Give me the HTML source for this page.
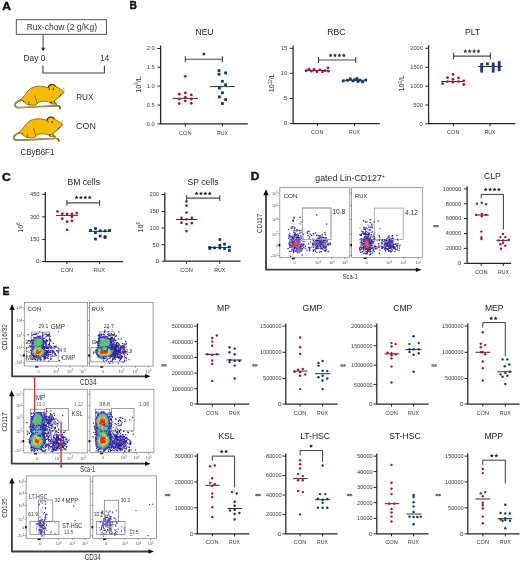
<!DOCTYPE html>
<html><head><meta charset="utf-8"><title>Figure</title>
<style>html,body{margin:0;padding:0;background:#fff;width:520px;height:562px;overflow:hidden}svg{display:block;will-change:transform}text{font-family:"Liberation Sans",sans-serif}</style>
</head><body>
<svg width="520" height="562" viewBox="0 0 520 562" font-family="Liberation Sans, sans-serif">
<defs><filter id="bl" x="-50%" y="-50%" width="200%" height="200%"><feGaussianBlur stdDeviation="0.6"/></filter></defs>
<rect width="520" height="562" fill="#fff"/>
<text x="2.2" y="9.6" font-size="10.3" text-anchor="start" fill="#111" font-weight="bold" textLength="8.7" lengthAdjust="spacingAndGlyphs" stroke="#111" stroke-width="0.4">A</text>
<rect x="16.3" y="19.7" width="90.2" height="14.6" fill="none" stroke="#444" stroke-width="0.9"/>
<text x="61.9" y="29.9" font-size="8.5" text-anchor="middle" fill="#333">Rux-chow (2 g/Kg)</text>
<path d="M43.1 34.4V48.5" stroke="#333" stroke-width="0.9"/><path d="M43.1 51.3l-2 -3.6h4z" fill="#222"/>
<text x="34.4" y="61.3" font-size="9.0" text-anchor="middle" fill="#2e2e2e" textLength="21.9" lengthAdjust="spacingAndGlyphs">Day 0</text>
<text x="104.7" y="61.3" font-size="8.8" text-anchor="middle" fill="#2e2e2e" textLength="8.9" lengthAdjust="spacingAndGlyphs">14</text>
<path d="M42.9 65.6V73H104.4V65.6" fill="none" stroke="#444" stroke-width="1.1"/>
<text x="84.8" y="99.8" font-size="9.7" text-anchor="middle" fill="#2e2e2e" textLength="17.2" lengthAdjust="spacingAndGlyphs">RUX</text>
<text x="86.0" y="129.1" font-size="9.6" text-anchor="middle" fill="#2e2e2e" textLength="19.8" lengthAdjust="spacingAndGlyphs">CON</text>
<text x="37.4" y="154.7" font-size="9.2" text-anchor="middle" fill="#2e2e2e" textLength="34.0" lengthAdjust="spacingAndGlyphs">CByB6F1</text>
<g>
<path d="M21.6 99.9C19 100.6 16.4 102 15.2 103.8C14.2 105.6 15.4 107.4 18.2 107.6C26 107.5 34 107 42 106.5C49 106.1 55 105.8 58.4 105.9C59.8 106.3 60.3 107.6 59.9 109.2" fill="none" stroke="#6c6128" stroke-width="1.7"/>
<path d="M21.6 99.9C19 100.6 16.4 102 15.2 103.8C14.2 105.6 15.4 107.4 18.2 107.6C26 107.5 34 107 42 106.5C49 106.1 55 105.8 58.4 105.9" fill="none" stroke="#e2dcb8" stroke-width="0.5"/>
<path d="M20.4 99.7C23 97.6 25.4 94.2 27.6 91.4C29.6 88.9 32.4 87.2 36 86.5C39.5 85.9 43.5 86.2 46.4 87.2L48.2 87.6C48.4 86.4 48.8 85.6 49.6 85.1C51 84.4 52.6 84.3 53.8 84.7C54.8 85.1 55.4 85.8 55.8 86.6C57.8 87.4 60 88.8 61.6 90C62.5 90.7 63.1 91.4 63.4 92.2C63 93.4 62.2 94.2 61.3 94.8C60.3 95.8 59.4 96.8 58.6 97.6C57.3 98.8 56 99.6 54.6 100.3L54.2 102.2L56.8 104.3L51.6 103.9C50.6 103 49.6 102.2 48.4 101.8C46 101.2 43.4 101.1 41 101.5C39.2 101.9 38 102.8 37.2 103.8L35.6 105.2L29 105C26.5 104.4 24.5 102.8 23.4 101.2C22.6 100.6 21.6 100.1 20.4 99.7Z" fill="#f7bb00" stroke="#6e5608" stroke-width="0.75"/>
<path d="M48.3 88.2C48.4 86.4 49.4 85 51.2 84.6C53 84.2 54.8 85 55.7 86.6" fill="none" stroke="#3e3004" stroke-width="1.1"/>
<ellipse cx="53.4" cy="89.3" rx="0.7" ry="0.95" fill="#2a1e04"/>
<ellipse cx="49.3" cy="89.2" rx="0.8" ry="0.7" fill="#6a4a08"/>
<path d="M62.6 90.2l1.4-2.6M63.2 91l1.6-1.4M63.2 91.8l1.6 0.4M62.8 92.4l1.2 1.6" stroke="#6a6a7a" stroke-width="0.5"/>
<path d="M61.6 93.9L58.8 97.2" stroke="#3a2c04" stroke-width="0.9"/>
<path d="M34.6 95.6C35.6 97.6 36.4 100 37.2 103.8M29 105C28.6 103.6 28.4 102.4 29.2 101.2M54.4 100.6L54.2 102.2L56.8 104.3M50.4 102.8L51.6 103.9" fill="none" stroke="#5a4608" stroke-width="0.75"/>
<ellipse cx="51.3" cy="102.2" rx="1" ry="0.8" fill="#2a1e04"/>
<circle cx="23.6" cy="101.2" r="0.6" fill="#2a1e04"/>
</g>
<g transform="translate(-1.3,32.6)"><g>
<path d="M21.6 99.9C19 100.6 16.4 102 15.2 103.8C14.2 105.6 15.4 107.4 18.2 107.6C26 107.5 34 107 42 106.5C49 106.1 55 105.8 58.4 105.9C59.8 106.3 60.3 107.6 59.9 109.2" fill="none" stroke="#6c6128" stroke-width="1.7"/>
<path d="M21.6 99.9C19 100.6 16.4 102 15.2 103.8C14.2 105.6 15.4 107.4 18.2 107.6C26 107.5 34 107 42 106.5C49 106.1 55 105.8 58.4 105.9" fill="none" stroke="#e2dcb8" stroke-width="0.5"/>
<path d="M20.4 99.7C23 97.6 25.4 94.2 27.6 91.4C29.6 88.9 32.4 87.2 36 86.5C39.5 85.9 43.5 86.2 46.4 87.2L48.2 87.6C48.4 86.4 48.8 85.6 49.6 85.1C51 84.4 52.6 84.3 53.8 84.7C54.8 85.1 55.4 85.8 55.8 86.6C57.8 87.4 60 88.8 61.6 90C62.5 90.7 63.1 91.4 63.4 92.2C63 93.4 62.2 94.2 61.3 94.8C60.3 95.8 59.4 96.8 58.6 97.6C57.3 98.8 56 99.6 54.6 100.3L54.2 102.2L56.8 104.3L51.6 103.9C50.6 103 49.6 102.2 48.4 101.8C46 101.2 43.4 101.1 41 101.5C39.2 101.9 38 102.8 37.2 103.8L35.6 105.2L29 105C26.5 104.4 24.5 102.8 23.4 101.2C22.6 100.6 21.6 100.1 20.4 99.7Z" fill="#f7bb00" stroke="#6e5608" stroke-width="0.75"/>
<path d="M48.3 88.2C48.4 86.4 49.4 85 51.2 84.6C53 84.2 54.8 85 55.7 86.6" fill="none" stroke="#3e3004" stroke-width="1.1"/>
<ellipse cx="53.4" cy="89.3" rx="0.7" ry="0.95" fill="#2a1e04"/>
<ellipse cx="49.3" cy="89.2" rx="0.8" ry="0.7" fill="#6a4a08"/>
<path d="M62.6 90.2l1.4-2.6M63.2 91l1.6-1.4M63.2 91.8l1.6 0.4M62.8 92.4l1.2 1.6" stroke="#6a6a7a" stroke-width="0.5"/>
<path d="M61.6 93.9L58.8 97.2" stroke="#3a2c04" stroke-width="0.9"/>
<path d="M34.6 95.6C35.6 97.6 36.4 100 37.2 103.8M29 105C28.6 103.6 28.4 102.4 29.2 101.2M54.4 100.6L54.2 102.2L56.8 104.3M50.4 102.8L51.6 103.9" fill="none" stroke="#5a4608" stroke-width="0.75"/>
<ellipse cx="51.3" cy="102.2" rx="1" ry="0.8" fill="#2a1e04"/>
<circle cx="23.6" cy="101.2" r="0.6" fill="#2a1e04"/>
</g></g>
<text x="129.6" y="9.3" font-size="10.4" text-anchor="start" fill="#111" font-weight="bold" textLength="7.4" lengthAdjust="spacingAndGlyphs" stroke="#111" stroke-width="0.4">B</text>
<path d="M160.6 45.4V123.9H247.8" fill="none" stroke="#262626" stroke-width="1.25"/>
<path d="M157.4 48.5H160.6" stroke="#262626" stroke-width="1"/>
<text x="154.8" y="50.4" font-size="5.2" text-anchor="end" fill="#3a3a3a" textLength="8.1" lengthAdjust="spacingAndGlyphs">2.0</text>
<path d="M157.4 67.3H160.6" stroke="#262626" stroke-width="1"/>
<text x="154.8" y="69.1" font-size="5.2" text-anchor="end" fill="#3a3a3a" textLength="8.1" lengthAdjust="spacingAndGlyphs">1.5</text>
<path d="M157.4 86.1H160.6" stroke="#262626" stroke-width="1"/>
<text x="154.8" y="87.9" font-size="5.2" text-anchor="end" fill="#3a3a3a" textLength="8.1" lengthAdjust="spacingAndGlyphs">1.0</text>
<path d="M157.4 105.0H160.6" stroke="#262626" stroke-width="1"/>
<text x="154.8" y="106.8" font-size="5.2" text-anchor="end" fill="#3a3a3a" textLength="8.1" lengthAdjust="spacingAndGlyphs">0.5</text>
<path d="M157.4 123.9H160.6" stroke="#262626" stroke-width="1"/>
<text x="154.8" y="125.8" font-size="5.2" text-anchor="end" fill="#3a3a3a" textLength="8.1" lengthAdjust="spacingAndGlyphs">0.0</text>
<path d="M185.3 123.9v2.6" stroke="#262626" stroke-width="1"/>
<path d="M222.4 123.9v2.6" stroke="#262626" stroke-width="1"/>
<text x="185.3" y="134.5" font-size="5.4" text-anchor="middle" fill="#333" textLength="12.6" lengthAdjust="spacingAndGlyphs">CON</text>
<text x="222.4" y="134.5" font-size="5.4" text-anchor="middle" fill="#333" textLength="11.0" lengthAdjust="spacingAndGlyphs">RUX</text>
<text x="204.5" y="35.3" font-size="8.6" text-anchor="middle" fill="#222">NEU</text>
<text transform="translate(141.0,84.5) rotate(-90)" font-size="7.2" text-anchor="middle" fill="#333">10<tspan font-size="4.6" dy="-2.6">9</tspan><tspan dy="2.6">/L</tspan></text>
<path d="M172.7 98.4H198.0" stroke="#1a1a1a" stroke-width="0.9"/>
<path d="M210.1 86.6H234.8" stroke="#1a1a1a" stroke-width="0.9"/>
<g fill="#b3123a"><circle cx="185.3" cy="76.3" r="1.4"/><circle cx="179.3" cy="94.2" r="1.4"/><circle cx="185.3" cy="92.9" r="1.4"/><circle cx="191.3" cy="94.9" r="1.4"/><circle cx="179.3" cy="99.1" r="1.4"/><circle cx="185.3" cy="97.3" r="1.4"/><circle cx="191.3" cy="99.1" r="1.4"/><circle cx="179.3" cy="103.6" r="1.4"/><circle cx="185.3" cy="100.9" r="1.4"/><circle cx="191.3" cy="103.3" r="1.4"/></g>
<g fill="#163c6e"><rect x="217.6" y="69.2" width="2.8" height="2.8"/><rect x="217.6" y="72.8" width="2.8" height="2.8"/><rect x="224.2" y="71.5" width="2.8" height="2.8"/><rect x="221.0" y="79.9" width="2.8" height="2.8"/><rect x="224.2" y="83.4" width="2.8" height="2.8"/><rect x="218.0" y="86.6" width="2.8" height="2.8"/><rect x="221.0" y="91.4" width="2.8" height="2.8"/><rect x="218.0" y="95.5" width="2.8" height="2.8"/><rect x="224.2" y="98.2" width="2.8" height="2.8"/><rect x="221.0" y="102.1" width="2.8" height="2.8"/></g>
<path d="M185.3 56.2v6.0M185.3 59.2H222.4M222.4 56.2v6.0" fill="none" stroke="#4a4a4a" stroke-width="1.15"/>
<path fill="#2a2a2a" d="M203.90 51.90L204.49 53.19L205.90 53.35L204.85 54.31L205.13 55.70L203.90 55.00L202.67 55.70L202.95 54.31L201.90 53.35L203.31 53.19Z"/>
<path d="M293.1 45.4V123.5H379.8" fill="none" stroke="#262626" stroke-width="1.25"/>
<path d="M289.9 48.3H293.1" stroke="#262626" stroke-width="1"/>
<text x="287.3" y="50.1" font-size="5.2" text-anchor="end" fill="#3a3a3a" textLength="6.5" lengthAdjust="spacingAndGlyphs">15</text>
<path d="M289.9 73.3H293.1" stroke="#262626" stroke-width="1"/>
<text x="287.3" y="75.1" font-size="5.2" text-anchor="end" fill="#3a3a3a" textLength="6.5" lengthAdjust="spacingAndGlyphs">10</text>
<path d="M289.9 98.4H293.1" stroke="#262626" stroke-width="1"/>
<text x="287.3" y="100.2" font-size="5.2" text-anchor="end" fill="#3a3a3a" textLength="3.5" lengthAdjust="spacingAndGlyphs">5</text>
<path d="M289.9 123.5H293.1" stroke="#262626" stroke-width="1"/>
<text x="287.3" y="125.3" font-size="5.2" text-anchor="end" fill="#3a3a3a" textLength="3.5" lengthAdjust="spacingAndGlyphs">0</text>
<path d="M317.3 123.5v2.6" stroke="#262626" stroke-width="1"/>
<path d="M354.6 123.5v2.6" stroke="#262626" stroke-width="1"/>
<text x="317.3" y="134.1" font-size="5.4" text-anchor="middle" fill="#333" textLength="12.6" lengthAdjust="spacingAndGlyphs">CON</text>
<text x="354.6" y="134.1" font-size="5.4" text-anchor="middle" fill="#333" textLength="11.0" lengthAdjust="spacingAndGlyphs">RUX</text>
<text x="336.4" y="35.3" font-size="8.6" text-anchor="middle" fill="#222">RBC</text>
<text transform="translate(274.4,82.8) rotate(-90)" font-size="7.2" text-anchor="middle" fill="#333">10<tspan font-size="4.6" dy="-2.6">12</tspan><tspan dy="2.6">/L</tspan></text>
<path d="M306.0 70.5H329.0" stroke="#1a1a1a" stroke-width="0.9"/>
<path d="M343.0 80.3H366.5" stroke="#1a1a1a" stroke-width="0.9"/>
<g fill="#b3123a"><circle cx="306.0" cy="70.7" r="1.4"/><circle cx="308.9" cy="69.2" r="1.4"/><circle cx="311.5" cy="71.2" r="1.4"/><circle cx="314.1" cy="69.5" r="1.4"/><circle cx="317.0" cy="71.8" r="1.4"/><circle cx="319.9" cy="69.8" r="1.4"/><circle cx="322.5" cy="71.8" r="1.4"/><circle cx="325.1" cy="70.7" r="1.4"/><circle cx="328.0" cy="67.9" r="1.4"/><circle cx="328.5" cy="71.2" r="1.4"/></g>
<g fill="#163c6e"><rect x="341.8" y="79.5" width="2.8" height="2.8"/><rect x="346.1" y="78.9" width="2.8" height="2.8"/><rect x="349.0" y="77.5" width="2.8" height="2.8"/><rect x="351.6" y="79.5" width="2.8" height="2.8"/><rect x="353.3" y="78.4" width="2.8" height="2.8"/><rect x="355.6" y="77.2" width="2.8" height="2.8"/><rect x="356.5" y="80.1" width="2.8" height="2.8"/><rect x="358.5" y="78.7" width="2.8" height="2.8"/><rect x="361.1" y="80.4" width="2.8" height="2.8"/><rect x="364.3" y="78.7" width="2.8" height="2.8"/></g>
<path d="M318.5 57.0v6.0M318.5 60.0H355.7M355.7 57.0v6.0" fill="none" stroke="#4a4a4a" stroke-width="1.15"/>
<path fill="#2a2a2a" d="M330.60 53.30L331.19 54.59L332.60 54.75L331.55 55.71L331.83 57.10L330.60 56.40L329.37 57.10L329.65 55.71L328.60 54.75L330.01 54.59ZM335.00 53.30L335.59 54.59L337.00 54.75L335.95 55.71L336.23 57.10L335.00 56.40L333.77 57.10L334.05 55.71L333.00 54.75L334.41 54.59ZM339.40 53.30L339.99 54.59L341.40 54.75L340.35 55.71L340.63 57.10L339.40 56.40L338.17 57.10L338.45 55.71L337.40 54.75L338.81 54.59ZM343.80 53.30L344.39 54.59L345.80 54.75L344.75 55.71L345.03 57.10L343.80 56.40L342.57 57.10L342.85 55.71L341.80 54.75L343.21 54.59Z"/>
<path d="M428.6 45.2V123.7H515.2" fill="none" stroke="#262626" stroke-width="1.25"/>
<path d="M425.4 48.3H428.6" stroke="#262626" stroke-width="1"/>
<text x="422.8" y="50.1" font-size="5.2" text-anchor="end" fill="#3a3a3a" textLength="12.5" lengthAdjust="spacingAndGlyphs">2000</text>
<path d="M425.4 67.3H428.6" stroke="#262626" stroke-width="1"/>
<text x="422.8" y="69.1" font-size="5.2" text-anchor="end" fill="#3a3a3a" textLength="12.5" lengthAdjust="spacingAndGlyphs">1500</text>
<path d="M425.4 86.2H428.6" stroke="#262626" stroke-width="1"/>
<text x="422.8" y="88.0" font-size="5.2" text-anchor="end" fill="#3a3a3a" textLength="12.5" lengthAdjust="spacingAndGlyphs">1000</text>
<path d="M425.4 105.0H428.6" stroke="#262626" stroke-width="1"/>
<text x="422.8" y="106.8" font-size="5.2" text-anchor="end" fill="#3a3a3a" textLength="9.5" lengthAdjust="spacingAndGlyphs">500</text>
<path d="M425.4 123.7H428.6" stroke="#262626" stroke-width="1"/>
<text x="422.8" y="125.5" font-size="5.2" text-anchor="end" fill="#3a3a3a" textLength="3.5" lengthAdjust="spacingAndGlyphs">0</text>
<path d="M453.3 123.7v2.6" stroke="#262626" stroke-width="1"/>
<path d="M490.1 123.7v2.6" stroke="#262626" stroke-width="1"/>
<text x="453.3" y="134.3" font-size="5.4" text-anchor="middle" fill="#333" textLength="12.6" lengthAdjust="spacingAndGlyphs">CON</text>
<text x="490.1" y="134.3" font-size="5.4" text-anchor="middle" fill="#333" textLength="11.0" lengthAdjust="spacingAndGlyphs">RUX</text>
<text x="472.5" y="35.3" font-size="8.6" text-anchor="middle" fill="#222">PLT</text>
<text transform="translate(404.2,83.3) rotate(-90)" font-size="7.2" text-anchor="middle" fill="#333">10<tspan font-size="4.6" dy="-2.6">9</tspan><tspan dy="2.6">/L</tspan></text>
<path d="M441.2 81.5H462.8" stroke="#1a1a1a" stroke-width="0.9"/>
<path d="M478.0 66.5H502.7" stroke="#1a1a1a" stroke-width="0.9"/>
<g fill="#b3123a"><circle cx="442.6" cy="83.7" r="1.4"/><circle cx="447.5" cy="77.6" r="1.4"/><circle cx="447.5" cy="81.6" r="1.4"/><circle cx="453.0" cy="74.4" r="1.4"/><circle cx="453.0" cy="79.3" r="1.4"/><circle cx="453.0" cy="82.2" r="1.4"/><circle cx="458.5" cy="77.9" r="1.4"/><circle cx="458.5" cy="81.6" r="1.4"/><circle cx="463.7" cy="80.8" r="1.4"/><circle cx="463.7" cy="84.5" r="1.4"/></g>
<g fill="#163c6e"><rect x="480.3" y="63.0" width="2.8" height="2.8"/><rect x="480.3" y="65.5" width="2.8" height="2.8"/><rect x="480.3" y="67.9" width="2.8" height="2.8"/><rect x="480.3" y="69.8" width="2.8" height="2.8"/><rect x="486.0" y="62.4" width="2.8" height="2.8"/><rect x="491.8" y="62.5" width="2.8" height="2.8"/><rect x="491.8" y="64.9" width="2.8" height="2.8"/><rect x="491.8" y="67.4" width="2.8" height="2.8"/><rect x="491.8" y="69.8" width="2.8" height="2.8"/><rect x="497.8" y="61.2" width="2.8" height="2.8"/><rect x="497.8" y="63.6" width="2.8" height="2.8"/><rect x="497.8" y="66.0" width="2.8" height="2.8"/><rect x="497.8" y="68.4" width="2.8" height="2.8"/></g>
<path d="M453.5 52.7v6.8M453.5 56.1H490.4M490.4 52.7v6.8" fill="none" stroke="#4a4a4a" stroke-width="1.15"/>
<path fill="#2a2a2a" d="M465.30 49.10L465.89 50.39L467.30 50.55L466.25 51.51L466.53 52.90L465.30 52.20L464.07 52.90L464.35 51.51L463.30 50.55L464.71 50.39ZM469.70 49.10L470.29 50.39L471.70 50.55L470.65 51.51L470.93 52.90L469.70 52.20L468.47 52.90L468.75 51.51L467.70 50.55L469.11 50.39ZM474.10 49.10L474.69 50.39L476.10 50.55L475.05 51.51L475.33 52.90L474.10 52.20L472.87 52.90L473.15 51.51L472.10 50.55L473.51 50.39ZM478.50 49.10L479.09 50.39L480.50 50.55L479.45 51.51L479.73 52.90L478.50 52.20L477.27 52.90L477.55 51.51L476.50 50.55L477.91 50.39Z"/>
<text x="1.9" y="180.6" font-size="10.4" text-anchor="start" fill="#111" font-weight="bold" textLength="8.8" lengthAdjust="spacingAndGlyphs" stroke="#111" stroke-width="0.4">C</text>
<path d="M45.3 192.1V261.5H122.9" fill="none" stroke="#262626" stroke-width="1.25"/>
<path d="M42.1 194.4H45.3" stroke="#262626" stroke-width="1"/>
<text x="39.5" y="196.2" font-size="5.2" text-anchor="end" fill="#3a3a3a" textLength="9.5" lengthAdjust="spacingAndGlyphs">450</text>
<path d="M42.1 216.9H45.3" stroke="#262626" stroke-width="1"/>
<text x="39.5" y="218.8" font-size="5.2" text-anchor="end" fill="#3a3a3a" textLength="9.5" lengthAdjust="spacingAndGlyphs">300</text>
<path d="M42.1 239.4H45.3" stroke="#262626" stroke-width="1"/>
<text x="39.5" y="241.2" font-size="5.2" text-anchor="end" fill="#3a3a3a" textLength="9.5" lengthAdjust="spacingAndGlyphs">150</text>
<path d="M42.1 261.5H45.3" stroke="#262626" stroke-width="1"/>
<text x="39.5" y="263.4" font-size="5.2" text-anchor="end" fill="#3a3a3a" textLength="3.5" lengthAdjust="spacingAndGlyphs">0</text>
<path d="M66.9 261.5v2.6" stroke="#262626" stroke-width="1"/>
<path d="M99.6 261.5v2.6" stroke="#262626" stroke-width="1"/>
<text x="66.9" y="272.1" font-size="5.4" text-anchor="middle" fill="#333" textLength="12.6" lengthAdjust="spacingAndGlyphs">CON</text>
<text x="99.6" y="272.1" font-size="5.4" text-anchor="middle" fill="#333" textLength="11.0" lengthAdjust="spacingAndGlyphs">RUX</text>
<text x="83.7" y="185.1" font-size="8.6" text-anchor="middle" fill="#222">BM cells</text>
<text transform="translate(22.5,227.5) rotate(-90)" font-size="7.2" text-anchor="middle" fill="#333">10<tspan font-size="4.6" dy="-2.6">6</tspan></text>
<path d="M56.0 215.4H78.0" stroke="#1a1a1a" stroke-width="0.9"/>
<path d="M88.7 231.3H110.8" stroke="#1a1a1a" stroke-width="0.9"/>
<g fill="#a0123a"><circle cx="57.5" cy="211.5" r="1.35"/><circle cx="62.3" cy="213.8" r="1.35"/><circle cx="67.1" cy="213.8" r="1.35"/><circle cx="71.9" cy="213.8" r="1.35"/><circle cx="76.7" cy="213.1" r="1.35"/><circle cx="62.3" cy="218.7" r="1.35"/><circle cx="71.9" cy="216.9" r="1.35"/><circle cx="67.1" cy="221.7" r="1.35"/><circle cx="71.9" cy="220.8" r="1.35"/><circle cx="67.1" cy="229.8" r="1.35"/></g>
<g fill="#12305e"><rect x="89.2" y="229.1" width="2.7" height="2.7"/><rect x="94.1" y="227.2" width="2.7" height="2.7"/><rect x="98.9" y="229.5" width="2.7" height="2.7"/><rect x="103.7" y="229.5" width="2.7" height="2.7"/><rect x="108.1" y="229.1" width="2.7" height="2.7"/><rect x="94.1" y="231.3" width="2.7" height="2.7"/><rect x="98.9" y="234.7" width="2.7" height="2.7"/><rect x="103.7" y="235.2" width="2.7" height="2.7"/><rect x="94.1" y="237.7" width="2.7" height="2.7"/><rect x="103.7" y="236.2" width="2.7" height="2.7"/></g>
<path d="M66.9 200.1v5.6M66.9 202.9H99.6M99.6 200.1v5.6" fill="none" stroke="#4a4a4a" stroke-width="1.15"/>
<path fill="#2a2a2a" d="M76.50 195.50L77.09 196.79L78.50 196.95L77.45 197.91L77.73 199.30L76.50 198.60L75.27 199.30L75.55 197.91L74.50 196.95L75.91 196.79ZM80.90 195.50L81.49 196.79L82.90 196.95L81.85 197.91L82.13 199.30L80.90 198.60L79.67 199.30L79.95 197.91L78.90 196.95L80.31 196.79ZM85.30 195.50L85.89 196.79L87.30 196.95L86.25 197.91L86.53 199.30L85.30 198.60L84.07 199.30L84.35 197.91L83.30 196.95L84.71 196.79ZM89.70 195.50L90.29 196.79L91.70 196.95L90.65 197.91L90.93 199.30L89.70 198.60L88.47 199.30L88.75 197.91L87.70 196.95L89.11 196.79Z"/>
<path d="M164.8 192.5V261.2H240.5" fill="none" stroke="#262626" stroke-width="1.25"/>
<path d="M161.6 194.5H164.75" stroke="#262626" stroke-width="1"/>
<text x="159.0" y="196.3" font-size="5.2" text-anchor="end" fill="#3a3a3a" textLength="9.5" lengthAdjust="spacingAndGlyphs">200</text>
<path d="M161.6 211.4H164.75" stroke="#262626" stroke-width="1"/>
<text x="159.0" y="213.2" font-size="5.2" text-anchor="end" fill="#3a3a3a" textLength="9.5" lengthAdjust="spacingAndGlyphs">150</text>
<path d="M161.6 228.0H164.75" stroke="#262626" stroke-width="1"/>
<text x="159.0" y="229.8" font-size="5.2" text-anchor="end" fill="#3a3a3a" textLength="9.5" lengthAdjust="spacingAndGlyphs">100</text>
<path d="M161.6 244.7H164.75" stroke="#262626" stroke-width="1"/>
<text x="159.0" y="246.5" font-size="5.2" text-anchor="end" fill="#3a3a3a" textLength="6.5" lengthAdjust="spacingAndGlyphs">50</text>
<path d="M161.6 261.2H164.75" stroke="#262626" stroke-width="1"/>
<text x="159.0" y="263.1" font-size="5.2" text-anchor="end" fill="#3a3a3a" textLength="3.5" lengthAdjust="spacingAndGlyphs">0</text>
<path d="M186.5 261.2v2.6" stroke="#262626" stroke-width="1"/>
<path d="M219.8 261.2v2.6" stroke="#262626" stroke-width="1"/>
<text x="186.5" y="271.8" font-size="5.4" text-anchor="middle" fill="#333" textLength="12.6" lengthAdjust="spacingAndGlyphs">CON</text>
<text x="219.8" y="271.8" font-size="5.4" text-anchor="middle" fill="#333" textLength="11.0" lengthAdjust="spacingAndGlyphs">RUX</text>
<text x="203.0" y="185.1" font-size="8.6" text-anchor="middle" fill="#222">SP cells</text>
<text transform="translate(142.5,227.3) rotate(-90)" font-size="7.2" text-anchor="middle" fill="#333">10<tspan font-size="4.6" dy="-2.6">6</tspan></text>
<path d="M176.0 219.5H197.5" stroke="#1a1a1a" stroke-width="0.9"/>
<path d="M208.0 247.4H231.0" stroke="#1a1a1a" stroke-width="0.9"/>
<g fill="#a0123a"><circle cx="186.5" cy="201.5" r="1.35"/><circle cx="186.5" cy="205.7" r="1.35"/><circle cx="186.5" cy="212.5" r="1.35"/><circle cx="181.5" cy="217.8" r="1.35"/><circle cx="191.8" cy="217.8" r="1.35"/><circle cx="181.5" cy="222.7" r="1.35"/><circle cx="186.5" cy="224.1" r="1.35"/><circle cx="191.8" cy="223.1" r="1.35"/><circle cx="186.5" cy="219.3" r="1.35"/><circle cx="186.5" cy="231.1" r="1.35"/></g>
<g fill="#12305e"><rect x="218.5" y="238.2" width="2.7" height="2.7"/><rect x="223.2" y="242.8" width="2.7" height="2.7"/><rect x="218.5" y="244.0" width="2.7" height="2.7"/><rect x="208.5" y="246.1" width="2.7" height="2.7"/><rect x="213.2" y="246.5" width="2.7" height="2.7"/><rect x="218.5" y="246.7" width="2.7" height="2.7"/><rect x="223.2" y="247.2" width="2.7" height="2.7"/><rect x="228.0" y="245.7" width="2.7" height="2.7"/><rect x="228.0" y="249.2" width="2.7" height="2.7"/><rect x="208.5" y="247.2" width="2.7" height="2.7"/></g>
<path d="M186.5 195.3v5.6M186.5 198.1H219.8M219.8 195.3v5.6" fill="none" stroke="#4a4a4a" stroke-width="1.15"/>
<path fill="#2a2a2a" d="M196.50 191.50L197.09 192.79L198.50 192.95L197.45 193.91L197.73 195.30L196.50 194.60L195.27 195.30L195.55 193.91L194.50 192.95L195.91 192.79ZM200.90 191.50L201.49 192.79L202.90 192.95L201.85 193.91L202.13 195.30L200.90 194.60L199.67 195.30L199.95 193.91L198.90 192.95L200.31 192.79ZM205.30 191.50L205.89 192.79L207.30 192.95L206.25 193.91L206.53 195.30L205.30 194.60L204.07 195.30L204.35 193.91L203.30 192.95L204.71 192.79ZM209.70 191.50L210.29 192.79L211.70 192.95L210.65 193.91L210.93 195.30L209.70 194.60L208.47 195.30L208.75 193.91L207.70 192.95L209.11 192.79Z"/>
<text x="250.8" y="180.1" font-size="10.4" text-anchor="start" fill="#111" font-weight="bold" textLength="8.6" lengthAdjust="spacingAndGlyphs" stroke="#111" stroke-width="0.4">D</text>
<text x="350.0" y="180.8" font-size="8.8" text-anchor="middle" fill="#2a2a2a">gated Lin-CD127<tspan font-size="5" dy="-3.2">+</tspan></text>
<path d="M266.0 193.2V269.7H417.5" fill="none" stroke="#3c3c3c" stroke-width="1.8" stroke-linejoin="round"/>
<path d="M266.0 189.2l-2.70 6.00h5.40z" fill="#111"/>
<path d="M421.5 269.7l-5.60 -2.20v4.40z" fill="#111"/>
<text transform="translate(262.4,223.4) rotate(-90)" font-size="7.6" text-anchor="middle" fill="#333" textLength="19.4" lengthAdjust="spacingAndGlyphs">CD117</text>
<text x="350.2" y="278.8" font-size="7.6" text-anchor="middle" fill="#333" textLength="15.2" lengthAdjust="spacingAndGlyphs">Sca-1</text>
<rect x="279.8" y="187.4" width="70.0" height="70.3" fill="#fff" stroke="#8a8a8a" stroke-width="0.8"/>
<text x="277.8" y="194.6" font-size="3.9" text-anchor="end" fill="#555">10<tspan font-size="2.6" dy="-1.3">5</tspan></text>
<text x="277.8" y="207.0" font-size="3.9" text-anchor="end" fill="#555">10<tspan font-size="2.6" dy="-1.3">4</tspan></text>
<text x="277.8" y="220.8" font-size="3.9" text-anchor="end" fill="#555">10<tspan font-size="2.6" dy="-1.3">3</tspan></text>
<text x="277.8" y="235.5" font-size="3.9" text-anchor="end" fill="#555">10<tspan font-size="2.6" dy="-1.3">2</tspan></text>
<text x="277.8" y="246.6" font-size="3.9" text-anchor="end" fill="#555">0</text>
<text x="277.8" y="256.9" font-size="3.9" text-anchor="end" fill="#555">-10<tspan font-size="2.6" dy="-1.3">2</tspan></text>
<text x="294.6" y="264.3" font-size="3.9" text-anchor="middle" fill="#555">0</text>
<text x="318.0" y="264.3" font-size="3.9" text-anchor="middle" fill="#555">10<tspan font-size="2.6" dy="-1.3">3</tspan></text>
<text x="331.8" y="264.3" font-size="3.9" text-anchor="middle" fill="#555">10<tspan font-size="2.6" dy="-1.3">4</tspan></text>
<text x="344.8" y="264.3" font-size="3.9" text-anchor="middle" fill="#555">10<tspan font-size="2.6" dy="-1.3">5</tspan></text>
<path d="M278.2 193.2h1.6M278.2 205.6h1.6M278.2 219.4h1.6M278.2 234.1h1.6M278.2 245.2h1.6M278.2 255.5h1.6M294.6 257.7v1.6M318.0 257.7v1.6M331.8 257.7v1.6M344.8 257.7v1.6" stroke="#777" stroke-width="0.7"/>
<text x="283.4" y="197.8" font-size="6.2" text-anchor="start" fill="#2a2a2a" textLength="14.2" lengthAdjust="spacingAndGlyphs">CON</text>
<rect x="278.6" y="243.9" width="1.6" height="2.4" fill="#111"/>
<rect x="291.8" y="257.9" width="2.8" height="1.4" fill="#111"/>
<text x="332.4" y="214.4" font-size="6.6" text-anchor="start" fill="#333">10.8</text>
<rect x="302.4" y="208.0" width="28.6" height="31.4" fill="none" stroke="#a8a8a8" stroke-width="0.9"/>
<path fill="#3e2ea8" d="M295.9 247.0h1.25v1.25h-1.25zM300.7 250.5h1.25v1.25h-1.25zM300.2 243.4h1.25v1.25h-1.25zM293.9 235.5h1.25v1.25h-1.25zM295.6 245.4h1.25v1.25h-1.25zM298.2 237.3h1.25v1.25h-1.25zM294.4 242.6h1.25v1.25h-1.25zM293.4 241.9h1.25v1.25h-1.25zM294.1 246.9h1.25v1.25h-1.25zM293.4 244.6h1.25v1.25h-1.25zM293.1 242.6h1.25v1.25h-1.25zM291.0 240.5h1.25v1.25h-1.25zM297.0 236.9h1.25v1.25h-1.25zM292.6 249.1h1.25v1.25h-1.25zM298.0 241.3h1.25v1.25h-1.25zM295.2 245.2h1.25v1.25h-1.25zM290.1 242.2h1.25v1.25h-1.25zM297.5 235.9h1.25v1.25h-1.25zM301.3 243.3h1.25v1.25h-1.25zM289.4 244.0h1.25v1.25h-1.25zM297.2 251.6h1.25v1.25h-1.25zM303.4 243.2h1.25v1.25h-1.25zM296.5 242.5h1.25v1.25h-1.25zM299.7 245.7h1.25v1.25h-1.25zM299.1 251.2h1.25v1.25h-1.25zM293.7 247.5h1.25v1.25h-1.25zM296.7 241.2h1.25v1.25h-1.25zM303.0 244.6h1.25v1.25h-1.25zM298.5 246.1h1.25v1.25h-1.25zM293.1 245.0h1.25v1.25h-1.25zM294.1 245.1h1.25v1.25h-1.25zM296.9 242.6h1.25v1.25h-1.25zM299.0 246.1h1.25v1.25h-1.25zM295.1 242.3h1.25v1.25h-1.25zM293.8 247.5h1.25v1.25h-1.25zM300.5 244.2h1.25v1.25h-1.25zM296.0 238.4h1.25v1.25h-1.25zM290.3 246.6h1.25v1.25h-1.25zM296.4 245.6h1.25v1.25h-1.25zM292.4 242.0h1.25v1.25h-1.25zM294.0 235.2h1.25v1.25h-1.25zM288.0 228.9h1.25v1.25h-1.25zM296.4 228.9h1.25v1.25h-1.25zM296.3 235.5h1.25v1.25h-1.25zM298.0 234.9h1.25v1.25h-1.25zM294.7 233.8h1.25v1.25h-1.25zM293.4 230.1h1.25v1.25h-1.25zM292.0 237.0h1.25v1.25h-1.25zM289.6 236.5h1.25v1.25h-1.25zM293.2 241.6h1.25v1.25h-1.25zM291.6 246.3h1.25v1.25h-1.25zM299.3 239.3h1.25v1.25h-1.25zM300.7 243.4h1.25v1.25h-1.25zM299.4 232.2h1.25v1.25h-1.25zM292.6 247.6h1.25v1.25h-1.25zM290.9 238.9h1.25v1.25h-1.25zM293.5 217.8h1.25v1.25h-1.25zM319.0 237.4h1.25v1.25h-1.25zM326.5 239.8h1.25v1.25h-1.25zM316.8 240.1h1.25v1.25h-1.25zM325.9 245.2h1.25v1.25h-1.25zM316.2 251.7h1.25v1.25h-1.25zM318.4 235.8h1.25v1.25h-1.25zM320.7 243.5h1.25v1.25h-1.25zM320.4 240.1h1.25v1.25h-1.25zM318.0 243.5h1.25v1.25h-1.25zM325.4 241.6h1.25v1.25h-1.25zM322.1 246.2h1.25v1.25h-1.25zM316.3 241.9h1.25v1.25h-1.25zM315.6 240.6h1.25v1.25h-1.25zM317.7 247.7h1.25v1.25h-1.25zM316.4 247.6h1.25v1.25h-1.25zM323.8 247.0h1.25v1.25h-1.25zM312.2 238.6h1.25v1.25h-1.25zM321.3 243.9h1.25v1.25h-1.25zM321.2 245.7h1.25v1.25h-1.25zM323.6 240.2h1.25v1.25h-1.25zM322.1 243.7h1.25v1.25h-1.25zM323.9 245.0h1.25v1.25h-1.25zM322.1 244.5h1.25v1.25h-1.25zM321.2 236.8h1.25v1.25h-1.25zM326.6 238.9h1.25v1.25h-1.25zM321.6 233.7h1.25v1.25h-1.25zM323.2 247.1h1.25v1.25h-1.25zM318.9 244.9h1.25v1.25h-1.25zM314.8 232.3h1.25v1.25h-1.25zM325.4 246.5h1.25v1.25h-1.25zM315.6 245.6h1.25v1.25h-1.25zM320.2 239.0h1.25v1.25h-1.25zM319.6 239.5h1.25v1.25h-1.25zM309.1 247.3h1.25v1.25h-1.25zM307.9 247.1h1.25v1.25h-1.25zM306.5 231.7h1.25v1.25h-1.25zM306.4 249.4h1.25v1.25h-1.25zM309.0 236.4h1.25v1.25h-1.25zM307.0 232.8h1.25v1.25h-1.25zM308.0 243.3h1.25v1.25h-1.25z"/>
<path fill="#1e1282" d="M294.0 248.1h1.25v1.25h-1.25zM297.5 242.0h1.25v1.25h-1.25zM297.2 247.9h1.25v1.25h-1.25zM292.9 252.0h1.25v1.25h-1.25zM295.9 248.8h1.25v1.25h-1.25zM294.7 243.4h1.25v1.25h-1.25zM295.1 245.0h1.25v1.25h-1.25zM297.2 245.8h1.25v1.25h-1.25zM299.2 239.1h1.25v1.25h-1.25zM298.0 244.9h1.25v1.25h-1.25zM289.4 242.3h1.25v1.25h-1.25zM295.7 244.7h1.25v1.25h-1.25zM295.5 238.7h1.25v1.25h-1.25zM291.1 239.7h1.25v1.25h-1.25zM295.1 246.1h1.25v1.25h-1.25zM300.1 248.9h1.25v1.25h-1.25zM290.6 242.0h1.25v1.25h-1.25zM293.5 242.6h1.25v1.25h-1.25zM294.5 233.1h1.25v1.25h-1.25zM300.6 237.2h1.25v1.25h-1.25zM293.8 246.7h1.25v1.25h-1.25zM296.6 247.7h1.25v1.25h-1.25zM299.7 245.2h1.25v1.25h-1.25zM293.5 240.4h1.25v1.25h-1.25zM296.5 245.3h1.25v1.25h-1.25zM298.0 240.3h1.25v1.25h-1.25zM296.9 240.1h1.25v1.25h-1.25zM296.1 243.3h1.25v1.25h-1.25zM297.9 247.7h1.25v1.25h-1.25zM291.6 238.2h1.25v1.25h-1.25zM297.8 237.3h1.25v1.25h-1.25zM295.3 242.3h1.25v1.25h-1.25zM290.3 235.6h1.25v1.25h-1.25zM296.4 237.7h1.25v1.25h-1.25zM298.7 229.9h1.25v1.25h-1.25zM295.1 239.2h1.25v1.25h-1.25zM291.3 227.7h1.25v1.25h-1.25zM295.3 240.4h1.25v1.25h-1.25zM293.0 231.7h1.25v1.25h-1.25zM295.1 234.9h1.25v1.25h-1.25zM292.3 236.2h1.25v1.25h-1.25zM290.7 236.1h1.25v1.25h-1.25zM302.8 233.4h1.25v1.25h-1.25zM288.3 243.3h1.25v1.25h-1.25zM292.0 243.3h1.25v1.25h-1.25zM300.3 247.2h1.25v1.25h-1.25zM297.5 234.7h1.25v1.25h-1.25zM289.2 239.2h1.25v1.25h-1.25zM295.0 247.0h1.25v1.25h-1.25zM288.1 237.8h1.25v1.25h-1.25zM294.6 234.5h1.25v1.25h-1.25zM292.4 219.4h1.25v1.25h-1.25zM293.4 216.5h1.25v1.25h-1.25zM325.5 237.3h1.25v1.25h-1.25zM319.5 243.3h1.25v1.25h-1.25zM323.5 247.1h1.25v1.25h-1.25zM321.8 244.1h1.25v1.25h-1.25zM316.8 245.3h1.25v1.25h-1.25zM317.5 239.2h1.25v1.25h-1.25zM318.0 240.0h1.25v1.25h-1.25zM327.9 243.0h1.25v1.25h-1.25zM323.9 242.3h1.25v1.25h-1.25zM324.8 250.5h1.25v1.25h-1.25zM319.0 251.5h1.25v1.25h-1.25zM319.7 244.9h1.25v1.25h-1.25zM314.7 244.5h1.25v1.25h-1.25zM323.5 239.6h1.25v1.25h-1.25zM317.4 237.8h1.25v1.25h-1.25zM322.8 245.7h1.25v1.25h-1.25zM316.1 243.4h1.25v1.25h-1.25zM312.6 246.3h1.25v1.25h-1.25zM315.8 244.9h1.25v1.25h-1.25zM319.7 242.8h1.25v1.25h-1.25zM322.7 245.0h1.25v1.25h-1.25zM317.5 243.8h1.25v1.25h-1.25zM318.9 238.5h1.25v1.25h-1.25zM322.4 236.9h1.25v1.25h-1.25zM322.0 242.6h1.25v1.25h-1.25zM318.2 243.0h1.25v1.25h-1.25zM320.5 250.9h1.25v1.25h-1.25zM315.9 239.8h1.25v1.25h-1.25zM330.0 243.4h1.25v1.25h-1.25zM324.2 232.1h1.25v1.25h-1.25zM320.4 246.0h1.25v1.25h-1.25zM321.2 243.0h1.25v1.25h-1.25zM321.4 247.8h1.25v1.25h-1.25zM311.9 242.5h1.25v1.25h-1.25zM323.6 250.0h1.25v1.25h-1.25zM311.0 234.7h1.25v1.25h-1.25zM319.6 235.0h1.25v1.25h-1.25zM312.8 233.1h1.25v1.25h-1.25zM304.8 245.6h1.25v1.25h-1.25zM307.5 230.8h1.25v1.25h-1.25z"/>
<path fill="#26168e" d="M294.7 242.4h1.25v1.25h-1.25zM289.1 244.8h1.25v1.25h-1.25zM301.4 245.9h1.25v1.25h-1.25zM295.3 242.6h1.25v1.25h-1.25zM295.1 250.7h1.25v1.25h-1.25zM293.1 250.0h1.25v1.25h-1.25zM292.9 238.6h1.25v1.25h-1.25zM296.7 241.7h1.25v1.25h-1.25zM296.3 243.7h1.25v1.25h-1.25zM300.8 248.4h1.25v1.25h-1.25zM298.8 244.1h1.25v1.25h-1.25zM295.4 236.9h1.25v1.25h-1.25zM297.6 242.6h1.25v1.25h-1.25zM298.0 238.7h1.25v1.25h-1.25zM292.2 245.4h1.25v1.25h-1.25zM297.8 240.5h1.25v1.25h-1.25zM290.0 255.7h1.25v1.25h-1.25zM292.8 245.9h1.25v1.25h-1.25zM295.9 250.3h1.25v1.25h-1.25zM295.5 245.6h1.25v1.25h-1.25zM288.9 250.8h1.25v1.25h-1.25zM290.4 245.0h1.25v1.25h-1.25zM296.3 245.3h1.25v1.25h-1.25zM298.7 245.8h1.25v1.25h-1.25zM294.0 243.3h1.25v1.25h-1.25zM291.0 248.8h1.25v1.25h-1.25zM296.8 244.0h1.25v1.25h-1.25zM292.8 237.6h1.25v1.25h-1.25zM297.5 242.7h1.25v1.25h-1.25zM296.7 237.4h1.25v1.25h-1.25zM298.1 237.1h1.25v1.25h-1.25zM293.9 241.6h1.25v1.25h-1.25zM287.5 248.0h1.25v1.25h-1.25zM292.1 244.6h1.25v1.25h-1.25zM293.3 242.7h1.25v1.25h-1.25zM296.4 230.3h1.25v1.25h-1.25zM294.3 232.6h1.25v1.25h-1.25zM296.5 233.4h1.25v1.25h-1.25zM297.2 238.0h1.25v1.25h-1.25zM293.5 233.9h1.25v1.25h-1.25zM290.4 239.3h1.25v1.25h-1.25zM292.2 235.4h1.25v1.25h-1.25zM296.3 237.1h1.25v1.25h-1.25zM295.5 234.3h1.25v1.25h-1.25zM296.9 251.6h1.25v1.25h-1.25zM302.4 243.7h1.25v1.25h-1.25zM289.1 244.0h1.25v1.25h-1.25zM293.2 250.7h1.25v1.25h-1.25zM290.4 227.3h1.25v1.25h-1.25zM292.3 220.3h1.25v1.25h-1.25zM320.3 246.9h1.25v1.25h-1.25zM319.0 244.1h1.25v1.25h-1.25zM321.5 244.0h1.25v1.25h-1.25zM318.1 243.3h1.25v1.25h-1.25zM319.6 248.0h1.25v1.25h-1.25zM327.3 243.5h1.25v1.25h-1.25zM319.5 242.9h1.25v1.25h-1.25zM323.9 239.5h1.25v1.25h-1.25zM319.0 238.3h1.25v1.25h-1.25zM319.2 236.0h1.25v1.25h-1.25zM317.2 240.5h1.25v1.25h-1.25zM318.0 246.1h1.25v1.25h-1.25zM324.7 246.3h1.25v1.25h-1.25zM317.4 238.9h1.25v1.25h-1.25zM313.1 246.7h1.25v1.25h-1.25zM314.8 244.6h1.25v1.25h-1.25zM321.4 248.2h1.25v1.25h-1.25zM329.6 242.6h1.25v1.25h-1.25zM317.0 246.4h1.25v1.25h-1.25zM319.0 245.3h1.25v1.25h-1.25zM317.1 238.1h1.25v1.25h-1.25zM320.1 243.2h1.25v1.25h-1.25zM316.6 244.7h1.25v1.25h-1.25zM322.8 244.6h1.25v1.25h-1.25zM324.7 234.1h1.25v1.25h-1.25zM316.7 241.1h1.25v1.25h-1.25zM318.4 241.2h1.25v1.25h-1.25zM328.4 244.4h1.25v1.25h-1.25zM321.0 242.3h1.25v1.25h-1.25zM320.7 242.0h1.25v1.25h-1.25zM327.6 251.1h1.25v1.25h-1.25zM324.2 237.3h1.25v1.25h-1.25zM314.8 248.2h1.25v1.25h-1.25zM312.8 239.9h1.25v1.25h-1.25zM322.8 237.0h1.25v1.25h-1.25zM324.0 249.9h1.25v1.25h-1.25zM312.8 249.4h1.25v1.25h-1.25zM315.8 245.3h1.25v1.25h-1.25zM312.7 250.6h1.25v1.25h-1.25zM309.1 249.9h1.25v1.25h-1.25zM308.5 237.5h1.25v1.25h-1.25zM309.0 247.8h1.25v1.25h-1.25zM309.5 233.4h1.25v1.25h-1.25zM315.4 245.1h1.25v1.25h-1.25zM312.1 244.1h1.25v1.25h-1.25zM313.7 249.2h1.25v1.25h-1.25zM319.0 244.9h1.25v1.25h-1.25zM312.4 244.4h1.25v1.25h-1.25zM316.1 234.7h1.25v1.25h-1.25zM326.0 223.6h1.25v1.25h-1.25zM316.1 214.3h1.25v1.25h-1.25z"/>
<path fill="#30209a" d="M297.9 244.1h1.25v1.25h-1.25zM298.3 246.4h1.25v1.25h-1.25zM288.9 246.6h1.25v1.25h-1.25zM291.5 240.9h1.25v1.25h-1.25zM290.4 246.1h1.25v1.25h-1.25zM299.0 245.0h1.25v1.25h-1.25zM298.4 245.6h1.25v1.25h-1.25zM299.6 248.6h1.25v1.25h-1.25zM299.8 235.5h1.25v1.25h-1.25zM298.1 244.7h1.25v1.25h-1.25zM300.5 244.2h1.25v1.25h-1.25zM296.7 243.4h1.25v1.25h-1.25zM303.1 247.0h1.25v1.25h-1.25zM301.5 254.6h1.25v1.25h-1.25zM295.7 239.8h1.25v1.25h-1.25zM294.0 244.9h1.25v1.25h-1.25zM295.1 245.7h1.25v1.25h-1.25zM294.1 241.1h1.25v1.25h-1.25zM290.6 245.9h1.25v1.25h-1.25zM295.4 245.0h1.25v1.25h-1.25zM294.0 244.8h1.25v1.25h-1.25zM291.7 243.4h1.25v1.25h-1.25zM297.8 245.3h1.25v1.25h-1.25zM297.8 241.2h1.25v1.25h-1.25zM294.2 242.5h1.25v1.25h-1.25zM293.1 243.0h1.25v1.25h-1.25zM293.2 241.7h1.25v1.25h-1.25zM293.7 237.3h1.25v1.25h-1.25zM291.9 243.3h1.25v1.25h-1.25zM290.6 251.1h1.25v1.25h-1.25zM297.0 240.3h1.25v1.25h-1.25zM298.7 247.4h1.25v1.25h-1.25zM291.9 241.7h1.25v1.25h-1.25zM301.9 247.9h1.25v1.25h-1.25zM298.3 240.4h1.25v1.25h-1.25zM294.2 245.4h1.25v1.25h-1.25zM296.1 242.2h1.25v1.25h-1.25zM292.4 243.4h1.25v1.25h-1.25zM297.1 241.1h1.25v1.25h-1.25zM289.1 233.2h1.25v1.25h-1.25zM295.4 230.1h1.25v1.25h-1.25zM301.9 233.9h1.25v1.25h-1.25zM301.3 249.4h1.25v1.25h-1.25zM302.4 240.7h1.25v1.25h-1.25zM301.7 245.6h1.25v1.25h-1.25zM293.9 242.3h1.25v1.25h-1.25zM292.7 250.0h1.25v1.25h-1.25zM288.5 235.9h1.25v1.25h-1.25zM299.0 244.0h1.25v1.25h-1.25zM288.9 235.1h1.25v1.25h-1.25zM299.8 246.3h1.25v1.25h-1.25zM298.6 237.2h1.25v1.25h-1.25zM297.1 242.7h1.25v1.25h-1.25zM302.2 234.2h1.25v1.25h-1.25zM289.1 241.6h1.25v1.25h-1.25zM293.9 227.7h1.25v1.25h-1.25zM299.2 229.9h1.25v1.25h-1.25zM299.4 216.8h1.25v1.25h-1.25zM291.6 226.1h1.25v1.25h-1.25zM292.7 220.3h1.25v1.25h-1.25zM322.8 239.1h1.25v1.25h-1.25zM315.4 247.0h1.25v1.25h-1.25zM315.9 242.7h1.25v1.25h-1.25zM321.7 248.2h1.25v1.25h-1.25zM320.8 246.4h1.25v1.25h-1.25zM320.0 243.5h1.25v1.25h-1.25zM318.8 241.0h1.25v1.25h-1.25zM320.6 245.0h1.25v1.25h-1.25zM329.4 242.9h1.25v1.25h-1.25zM317.3 238.1h1.25v1.25h-1.25zM325.2 244.3h1.25v1.25h-1.25zM314.8 240.0h1.25v1.25h-1.25zM322.8 241.8h1.25v1.25h-1.25zM320.5 247.4h1.25v1.25h-1.25zM313.4 243.7h1.25v1.25h-1.25zM320.5 238.6h1.25v1.25h-1.25zM316.6 247.7h1.25v1.25h-1.25zM318.8 239.8h1.25v1.25h-1.25zM317.6 243.4h1.25v1.25h-1.25zM326.3 241.1h1.25v1.25h-1.25zM325.3 246.5h1.25v1.25h-1.25zM314.3 242.6h1.25v1.25h-1.25zM320.9 238.4h1.25v1.25h-1.25zM315.9 248.1h1.25v1.25h-1.25zM324.6 247.9h1.25v1.25h-1.25zM314.9 239.9h1.25v1.25h-1.25zM314.9 250.5h1.25v1.25h-1.25zM327.1 244.0h1.25v1.25h-1.25zM322.9 239.8h1.25v1.25h-1.25zM319.7 236.4h1.25v1.25h-1.25zM322.0 243.5h1.25v1.25h-1.25zM317.8 243.6h1.25v1.25h-1.25zM325.3 237.3h1.25v1.25h-1.25zM321.5 235.6h1.25v1.25h-1.25zM318.6 236.8h1.25v1.25h-1.25zM321.6 241.7h1.25v1.25h-1.25zM323.3 241.3h1.25v1.25h-1.25zM317.9 234.8h1.25v1.25h-1.25zM325.4 249.4h1.25v1.25h-1.25zM308.8 248.7h1.25v1.25h-1.25zM308.5 246.8h1.25v1.25h-1.25zM307.5 235.0h1.25v1.25h-1.25zM318.5 241.0h1.25v1.25h-1.25z"/>
<path fill="#5a4cc0" d="M298.5 241.7h1.25v1.25h-1.25zM298.8 247.6h1.25v1.25h-1.25zM295.0 241.1h1.25v1.25h-1.25zM297.8 238.5h1.25v1.25h-1.25zM291.2 240.6h1.25v1.25h-1.25zM289.6 244.2h1.25v1.25h-1.25zM298.0 249.9h1.25v1.25h-1.25zM297.0 244.9h1.25v1.25h-1.25zM294.9 241.5h1.25v1.25h-1.25zM298.6 244.7h1.25v1.25h-1.25zM293.9 241.9h1.25v1.25h-1.25zM300.3 238.1h1.25v1.25h-1.25zM302.2 244.9h1.25v1.25h-1.25zM294.7 240.3h1.25v1.25h-1.25zM293.7 240.3h1.25v1.25h-1.25zM298.3 244.4h1.25v1.25h-1.25zM297.3 248.8h1.25v1.25h-1.25zM293.1 231.8h1.25v1.25h-1.25zM293.2 242.8h1.25v1.25h-1.25zM296.9 247.4h1.25v1.25h-1.25zM295.5 247.2h1.25v1.25h-1.25zM297.7 244.3h1.25v1.25h-1.25zM296.0 240.2h1.25v1.25h-1.25zM300.6 231.8h1.25v1.25h-1.25zM305.1 247.8h1.25v1.25h-1.25zM292.8 245.3h1.25v1.25h-1.25zM294.8 245.1h1.25v1.25h-1.25zM294.3 249.5h1.25v1.25h-1.25zM297.0 238.6h1.25v1.25h-1.25zM298.7 243.6h1.25v1.25h-1.25zM299.5 241.6h1.25v1.25h-1.25zM295.5 243.1h1.25v1.25h-1.25zM293.2 244.0h1.25v1.25h-1.25zM302.4 238.2h1.25v1.25h-1.25zM303.5 241.0h1.25v1.25h-1.25zM297.2 250.2h1.25v1.25h-1.25zM295.2 246.7h1.25v1.25h-1.25zM295.8 244.0h1.25v1.25h-1.25zM302.2 236.5h1.25v1.25h-1.25zM297.5 252.6h1.25v1.25h-1.25zM299.4 241.4h1.25v1.25h-1.25zM299.2 249.0h1.25v1.25h-1.25zM294.0 236.3h1.25v1.25h-1.25zM295.4 242.0h1.25v1.25h-1.25zM296.5 250.6h1.25v1.25h-1.25zM290.5 245.9h1.25v1.25h-1.25zM294.2 227.1h1.25v1.25h-1.25zM291.5 239.4h1.25v1.25h-1.25zM297.2 238.2h1.25v1.25h-1.25zM292.6 226.2h1.25v1.25h-1.25zM302.0 245.0h1.25v1.25h-1.25zM293.2 237.3h1.25v1.25h-1.25zM288.7 241.6h1.25v1.25h-1.25zM302.8 233.7h1.25v1.25h-1.25zM290.2 245.7h1.25v1.25h-1.25zM291.0 249.1h1.25v1.25h-1.25zM296.4 240.3h1.25v1.25h-1.25zM290.5 246.0h1.25v1.25h-1.25zM289.7 242.8h1.25v1.25h-1.25zM290.4 246.2h1.25v1.25h-1.25zM300.7 221.3h1.25v1.25h-1.25zM299.5 223.2h1.25v1.25h-1.25zM297.4 229.5h1.25v1.25h-1.25zM300.5 229.6h1.25v1.25h-1.25zM317.6 238.2h1.25v1.25h-1.25zM320.2 241.0h1.25v1.25h-1.25zM316.0 244.1h1.25v1.25h-1.25zM322.8 244.2h1.25v1.25h-1.25zM319.7 246.6h1.25v1.25h-1.25zM325.6 248.6h1.25v1.25h-1.25zM320.9 246.1h1.25v1.25h-1.25zM318.1 244.5h1.25v1.25h-1.25zM318.3 244.4h1.25v1.25h-1.25zM313.2 242.5h1.25v1.25h-1.25zM317.4 245.8h1.25v1.25h-1.25zM324.9 242.7h1.25v1.25h-1.25zM324.5 242.4h1.25v1.25h-1.25zM324.8 240.0h1.25v1.25h-1.25zM315.2 244.9h1.25v1.25h-1.25zM322.7 245.1h1.25v1.25h-1.25zM317.7 235.1h1.25v1.25h-1.25zM313.5 241.0h1.25v1.25h-1.25zM313.2 243.3h1.25v1.25h-1.25zM310.6 246.6h1.25v1.25h-1.25zM322.6 244.4h1.25v1.25h-1.25zM324.2 246.6h1.25v1.25h-1.25zM320.3 244.4h1.25v1.25h-1.25zM308.8 230.6h1.25v1.25h-1.25z"/>
<path fill="#8078d0" d="M295.5 239.9h1.25v1.25h-1.25zM295.2 241.8h1.25v1.25h-1.25zM292.7 247.5h1.25v1.25h-1.25zM290.3 246.5h1.25v1.25h-1.25zM297.2 238.3h1.25v1.25h-1.25zM297.1 246.0h1.25v1.25h-1.25zM292.8 246.2h1.25v1.25h-1.25zM297.7 245.5h1.25v1.25h-1.25zM294.2 240.7h1.25v1.25h-1.25zM299.7 244.1h1.25v1.25h-1.25zM299.0 244.3h1.25v1.25h-1.25zM300.3 243.3h1.25v1.25h-1.25zM291.3 250.4h1.25v1.25h-1.25zM296.9 242.9h1.25v1.25h-1.25zM295.0 244.3h1.25v1.25h-1.25zM291.2 243.3h1.25v1.25h-1.25zM300.6 248.9h1.25v1.25h-1.25zM290.6 240.8h1.25v1.25h-1.25zM297.9 247.9h1.25v1.25h-1.25zM288.1 234.3h1.25v1.25h-1.25zM297.9 243.0h1.25v1.25h-1.25zM297.8 244.4h1.25v1.25h-1.25zM298.7 245.4h1.25v1.25h-1.25zM293.3 245.4h1.25v1.25h-1.25zM293.2 243.0h1.25v1.25h-1.25zM294.6 241.0h1.25v1.25h-1.25zM297.9 241.1h1.25v1.25h-1.25zM292.9 243.1h1.25v1.25h-1.25zM297.4 233.6h1.25v1.25h-1.25zM296.4 241.4h1.25v1.25h-1.25zM295.2 250.1h1.25v1.25h-1.25zM297.2 241.3h1.25v1.25h-1.25zM295.9 249.6h1.25v1.25h-1.25zM290.2 243.2h1.25v1.25h-1.25zM296.9 240.6h1.25v1.25h-1.25zM297.1 244.1h1.25v1.25h-1.25zM299.3 249.2h1.25v1.25h-1.25zM291.7 227.7h1.25v1.25h-1.25zM300.7 239.8h1.25v1.25h-1.25zM294.9 232.4h1.25v1.25h-1.25zM292.6 235.8h1.25v1.25h-1.25zM290.5 237.7h1.25v1.25h-1.25zM296.9 237.9h1.25v1.25h-1.25zM290.5 236.4h1.25v1.25h-1.25zM293.7 229.3h1.25v1.25h-1.25zM297.6 239.6h1.25v1.25h-1.25zM300.6 235.4h1.25v1.25h-1.25zM299.1 232.7h1.25v1.25h-1.25zM299.2 251.5h1.25v1.25h-1.25zM302.1 245.9h1.25v1.25h-1.25zM296.8 238.1h1.25v1.25h-1.25zM294.6 235.5h1.25v1.25h-1.25zM291.9 248.8h1.25v1.25h-1.25zM289.2 242.8h1.25v1.25h-1.25zM291.3 239.0h1.25v1.25h-1.25zM318.7 243.5h1.25v1.25h-1.25zM326.7 242.3h1.25v1.25h-1.25zM326.1 245.1h1.25v1.25h-1.25zM323.4 243.0h1.25v1.25h-1.25zM319.5 242.3h1.25v1.25h-1.25zM328.0 250.5h1.25v1.25h-1.25zM318.3 244.8h1.25v1.25h-1.25zM321.4 244.7h1.25v1.25h-1.25zM317.9 239.0h1.25v1.25h-1.25zM324.6 244.0h1.25v1.25h-1.25zM318.1 248.0h1.25v1.25h-1.25zM321.9 236.1h1.25v1.25h-1.25zM325.5 238.7h1.25v1.25h-1.25zM323.9 241.6h1.25v1.25h-1.25zM317.9 246.3h1.25v1.25h-1.25zM323.0 244.5h1.25v1.25h-1.25zM321.7 240.5h1.25v1.25h-1.25zM316.6 241.0h1.25v1.25h-1.25zM321.1 245.4h1.25v1.25h-1.25zM321.0 240.3h1.25v1.25h-1.25zM321.0 245.8h1.25v1.25h-1.25zM316.8 243.6h1.25v1.25h-1.25zM320.2 247.3h1.25v1.25h-1.25zM315.4 245.0h1.25v1.25h-1.25zM314.6 240.7h1.25v1.25h-1.25zM318.7 236.7h1.25v1.25h-1.25zM328.5 242.7h1.25v1.25h-1.25zM315.1 241.8h1.25v1.25h-1.25zM309.7 242.1h1.25v1.25h-1.25zM319.5 239.2h1.25v1.25h-1.25zM322.1 242.7h1.25v1.25h-1.25zM322.5 248.5h1.25v1.25h-1.25zM313.3 246.5h1.25v1.25h-1.25zM319.8 235.4h1.25v1.25h-1.25zM319.9 234.7h1.25v1.25h-1.25zM316.4 238.2h1.25v1.25h-1.25zM309.7 240.8h1.25v1.25h-1.25zM313.2 234.2h1.25v1.25h-1.25zM319.4 239.9h1.25v1.25h-1.25zM319.5 241.0h1.25v1.25h-1.25zM321.0 237.7h1.25v1.25h-1.25zM298.4 246.5h1.25v1.25h-1.25zM304.1 247.4h1.25v1.25h-1.25z"/>
<g><ellipse cx="295.8" cy="243.0" rx="2.60" ry="4.00" fill="#8a3a98"/><ellipse cx="295.8" cy="243.0" rx="1.80" ry="2.80" fill="#c8484e"/><ellipse cx="295.8" cy="243.0" rx="1.00" ry="1.80" fill="#e6603a"/></g>
<rect x="302.4" y="208.0" width="28.6" height="31.4" fill="none" stroke="#a8a8a8" stroke-width="0.9"/>
<path fill="#e05a3a" d="M298.7 247.4h1.2v1.2h-1.2zM297.3 246.5h1.2v1.2h-1.2zM295.2 243.9h1.2v1.2h-1.2zM295.2 242.1h1.2v1.2h-1.2z"/>
<path fill="#f07a40" d="M290.9 242.4h1.2v1.2h-1.2zM295.9 246.8h1.2v1.2h-1.2zM295.0 240.5h1.2v1.2h-1.2zM295.4 245.8h1.2v1.2h-1.2zM296.9 242.0h1.2v1.2h-1.2zM295.0 240.9h1.2v1.2h-1.2zM292.9 245.7h1.2v1.2h-1.2z"/>
<path fill="#c8404a" d="M295.9 244.1h1.2v1.2h-1.2zM297.9 248.1h1.2v1.2h-1.2zM296.4 247.0h1.2v1.2h-1.2zM298.7 243.8h1.2v1.2h-1.2zM296.7 246.3h1.2v1.2h-1.2zM296.5 239.2h1.2v1.2h-1.2zM297.0 243.6h1.2v1.2h-1.2z"/>
<g><ellipse cx="321.0" cy="242.5" rx="2.00" ry="2.40" fill="#5a34a8"/></g>
<rect x="351.6" y="187.5" width="71.1" height="69.9" fill="#fff" stroke="#8a8a8a" stroke-width="0.8"/>
<text x="349.6" y="194.6" font-size="3.9" text-anchor="end" fill="#555"></text>
<text x="349.6" y="207.0" font-size="3.9" text-anchor="end" fill="#555"></text>
<text x="349.6" y="220.8" font-size="3.9" text-anchor="end" fill="#555"></text>
<text x="349.6" y="235.5" font-size="3.9" text-anchor="end" fill="#555"></text>
<text x="349.6" y="246.6" font-size="3.9" text-anchor="end" fill="#555"></text>
<text x="349.6" y="256.9" font-size="3.9" text-anchor="end" fill="#555"></text>
<text x="366.7" y="264.0" font-size="3.9" text-anchor="middle" fill="#555">0</text>
<text x="389.0" y="264.0" font-size="3.9" text-anchor="middle" fill="#555">10<tspan font-size="2.6" dy="-1.3">3</tspan></text>
<text x="403.2" y="264.0" font-size="3.9" text-anchor="middle" fill="#555">10<tspan font-size="2.6" dy="-1.3">4</tspan></text>
<text x="418.3" y="264.0" font-size="3.9" text-anchor="middle" fill="#555">10<tspan font-size="2.6" dy="-1.3">5</tspan></text>
<path d="M350.0 193.2h1.6M350.0 205.6h1.6M350.0 219.4h1.6M350.0 234.1h1.6M350.0 245.2h1.6M350.0 255.5h1.6M366.7 257.4v1.6M389.0 257.4v1.6M403.2 257.4v1.6M418.3 257.4v1.6" stroke="#777" stroke-width="0.7"/>
<text x="355.0" y="197.8" font-size="6.2" text-anchor="start" fill="#2a2a2a" textLength="12.2" lengthAdjust="spacingAndGlyphs">RUX</text>
<rect x="350.4" y="243.9" width="1.6" height="2.4" fill="#111"/>
<rect x="363.6" y="257.6" width="2.8" height="1.4" fill="#111"/>
<text x="405.0" y="214.8" font-size="6.6" text-anchor="start" fill="#333">4.12</text>
<rect x="374.3" y="208.1" width="28.9" height="31.5" fill="none" stroke="#a8a8a8" stroke-width="0.9"/>
<path fill="#5a4cc0" d="M366.8 242.6h1.25v1.25h-1.25zM372.1 245.0h1.25v1.25h-1.25zM362.8 252.9h1.25v1.25h-1.25zM369.7 247.1h1.25v1.25h-1.25zM365.2 239.3h1.25v1.25h-1.25zM366.4 237.8h1.25v1.25h-1.25zM364.8 239.1h1.25v1.25h-1.25zM369.3 242.0h1.25v1.25h-1.25zM362.3 244.2h1.25v1.25h-1.25zM367.4 237.0h1.25v1.25h-1.25zM368.1 242.5h1.25v1.25h-1.25zM369.9 243.2h1.25v1.25h-1.25zM365.5 243.9h1.25v1.25h-1.25zM370.0 241.4h1.25v1.25h-1.25zM372.2 247.6h1.25v1.25h-1.25zM368.8 242.5h1.25v1.25h-1.25zM365.8 244.1h1.25v1.25h-1.25zM369.5 240.5h1.25v1.25h-1.25zM365.9 240.4h1.25v1.25h-1.25zM359.6 242.0h1.25v1.25h-1.25zM367.4 247.8h1.25v1.25h-1.25zM365.7 248.0h1.25v1.25h-1.25zM366.7 245.5h1.25v1.25h-1.25zM365.9 251.1h1.25v1.25h-1.25zM368.6 229.8h1.25v1.25h-1.25zM365.7 244.4h1.25v1.25h-1.25zM361.9 247.3h1.25v1.25h-1.25zM364.8 237.2h1.25v1.25h-1.25zM372.2 240.9h1.25v1.25h-1.25zM366.4 245.1h1.25v1.25h-1.25zM369.5 254.2h1.25v1.25h-1.25zM368.1 245.8h1.25v1.25h-1.25zM363.0 245.6h1.25v1.25h-1.25zM364.1 240.8h1.25v1.25h-1.25zM367.0 239.7h1.25v1.25h-1.25zM364.4 237.9h1.25v1.25h-1.25zM359.4 238.9h1.25v1.25h-1.25zM370.3 247.2h1.25v1.25h-1.25zM366.2 238.7h1.25v1.25h-1.25zM365.6 241.0h1.25v1.25h-1.25zM368.5 237.7h1.25v1.25h-1.25zM363.9 246.3h1.25v1.25h-1.25zM373.2 240.7h1.25v1.25h-1.25zM365.9 242.2h1.25v1.25h-1.25zM366.4 240.6h1.25v1.25h-1.25zM360.8 235.0h1.25v1.25h-1.25zM364.3 242.6h1.25v1.25h-1.25zM360.4 244.6h1.25v1.25h-1.25zM366.5 239.9h1.25v1.25h-1.25zM369.0 234.0h1.25v1.25h-1.25zM365.3 230.4h1.25v1.25h-1.25zM363.5 226.5h1.25v1.25h-1.25zM367.0 228.3h1.25v1.25h-1.25zM359.4 233.8h1.25v1.25h-1.25zM374.5 245.7h1.25v1.25h-1.25zM363.4 238.8h1.25v1.25h-1.25zM373.5 235.7h1.25v1.25h-1.25zM366.2 241.7h1.25v1.25h-1.25zM370.9 226.6h1.25v1.25h-1.25zM373.1 235.3h1.25v1.25h-1.25zM364.3 227.4h1.25v1.25h-1.25zM371.1 224.5h1.25v1.25h-1.25zM385.5 244.7h1.25v1.25h-1.25zM381.3 239.9h1.25v1.25h-1.25zM397.2 243.1h1.25v1.25h-1.25zM390.2 244.7h1.25v1.25h-1.25zM385.1 239.8h1.25v1.25h-1.25zM381.6 242.8h1.25v1.25h-1.25zM390.6 238.2h1.25v1.25h-1.25zM389.6 243.9h1.25v1.25h-1.25zM392.5 240.3h1.25v1.25h-1.25zM381.5 240.6h1.25v1.25h-1.25zM389.2 241.3h1.25v1.25h-1.25zM391.0 240.3h1.25v1.25h-1.25zM391.8 246.4h1.25v1.25h-1.25zM392.1 246.4h1.25v1.25h-1.25zM385.6 245.9h1.25v1.25h-1.25zM384.7 244.0h1.25v1.25h-1.25zM397.3 243.5h1.25v1.25h-1.25zM388.0 246.4h1.25v1.25h-1.25zM390.0 246.3h1.25v1.25h-1.25zM391.1 243.9h1.25v1.25h-1.25zM391.1 247.8h1.25v1.25h-1.25zM386.7 243.5h1.25v1.25h-1.25zM390.7 248.9h1.25v1.25h-1.25zM387.2 248.3h1.25v1.25h-1.25zM391.2 241.3h1.25v1.25h-1.25zM380.9 242.3h1.25v1.25h-1.25zM396.3 245.4h1.25v1.25h-1.25zM388.8 240.7h1.25v1.25h-1.25zM386.7 245.5h1.25v1.25h-1.25zM388.0 245.1h1.25v1.25h-1.25zM394.4 250.9h1.25v1.25h-1.25zM388.1 236.7h1.25v1.25h-1.25zM384.0 244.5h1.25v1.25h-1.25zM391.9 246.6h1.25v1.25h-1.25zM393.6 243.7h1.25v1.25h-1.25zM379.3 245.6h1.25v1.25h-1.25zM386.0 240.1h1.25v1.25h-1.25zM384.0 238.8h1.25v1.25h-1.25zM394.8 247.9h1.25v1.25h-1.25z"/>
<path fill="#26168e" d="M370.3 239.2h1.25v1.25h-1.25zM369.2 246.6h1.25v1.25h-1.25zM363.8 245.4h1.25v1.25h-1.25zM364.4 239.4h1.25v1.25h-1.25zM368.6 245.3h1.25v1.25h-1.25zM370.9 244.5h1.25v1.25h-1.25zM374.2 245.5h1.25v1.25h-1.25zM361.7 244.3h1.25v1.25h-1.25zM368.0 233.7h1.25v1.25h-1.25zM368.4 249.6h1.25v1.25h-1.25zM366.6 245.8h1.25v1.25h-1.25zM369.0 244.6h1.25v1.25h-1.25zM368.8 232.6h1.25v1.25h-1.25zM369.2 239.9h1.25v1.25h-1.25zM362.1 243.0h1.25v1.25h-1.25zM364.3 243.6h1.25v1.25h-1.25zM367.0 248.8h1.25v1.25h-1.25zM368.3 245.0h1.25v1.25h-1.25zM365.1 242.3h1.25v1.25h-1.25zM364.8 244.4h1.25v1.25h-1.25zM367.6 240.9h1.25v1.25h-1.25zM365.5 242.1h1.25v1.25h-1.25zM367.5 248.0h1.25v1.25h-1.25zM365.5 237.5h1.25v1.25h-1.25zM363.5 238.7h1.25v1.25h-1.25zM369.5 245.4h1.25v1.25h-1.25zM365.9 240.2h1.25v1.25h-1.25zM371.8 247.2h1.25v1.25h-1.25zM363.0 246.7h1.25v1.25h-1.25zM365.8 239.2h1.25v1.25h-1.25zM367.0 244.5h1.25v1.25h-1.25zM366.1 242.9h1.25v1.25h-1.25zM366.8 242.2h1.25v1.25h-1.25zM372.1 252.3h1.25v1.25h-1.25zM362.4 243.4h1.25v1.25h-1.25zM364.9 244.3h1.25v1.25h-1.25zM366.9 247.3h1.25v1.25h-1.25zM365.8 233.6h1.25v1.25h-1.25zM366.6 240.7h1.25v1.25h-1.25zM364.4 233.4h1.25v1.25h-1.25zM368.2 233.2h1.25v1.25h-1.25zM364.8 221.5h1.25v1.25h-1.25zM367.9 235.4h1.25v1.25h-1.25zM365.1 234.7h1.25v1.25h-1.25zM369.5 229.2h1.25v1.25h-1.25zM367.7 233.3h1.25v1.25h-1.25zM366.2 236.9h1.25v1.25h-1.25zM364.1 239.4h1.25v1.25h-1.25zM363.3 233.7h1.25v1.25h-1.25zM368.2 243.6h1.25v1.25h-1.25zM367.8 244.3h1.25v1.25h-1.25zM366.9 249.8h1.25v1.25h-1.25zM362.7 249.2h1.25v1.25h-1.25zM374.1 237.5h1.25v1.25h-1.25zM367.7 250.7h1.25v1.25h-1.25zM365.1 231.4h1.25v1.25h-1.25zM366.9 244.0h1.25v1.25h-1.25zM369.8 236.8h1.25v1.25h-1.25zM360.0 234.7h1.25v1.25h-1.25zM372.0 247.0h1.25v1.25h-1.25zM362.9 220.3h1.25v1.25h-1.25zM386.9 245.2h1.25v1.25h-1.25zM384.0 248.4h1.25v1.25h-1.25zM385.9 239.5h1.25v1.25h-1.25zM392.8 243.7h1.25v1.25h-1.25zM392.6 245.7h1.25v1.25h-1.25zM383.5 244.3h1.25v1.25h-1.25zM389.0 247.8h1.25v1.25h-1.25zM396.8 238.8h1.25v1.25h-1.25zM381.7 239.2h1.25v1.25h-1.25zM384.7 247.4h1.25v1.25h-1.25zM385.8 242.2h1.25v1.25h-1.25zM387.7 242.7h1.25v1.25h-1.25zM392.7 247.0h1.25v1.25h-1.25zM392.6 243.9h1.25v1.25h-1.25zM389.8 239.8h1.25v1.25h-1.25zM387.5 249.0h1.25v1.25h-1.25zM388.7 250.3h1.25v1.25h-1.25zM386.5 244.8h1.25v1.25h-1.25zM387.4 245.7h1.25v1.25h-1.25zM396.9 244.9h1.25v1.25h-1.25zM392.3 242.6h1.25v1.25h-1.25zM392.9 247.6h1.25v1.25h-1.25zM388.4 245.1h1.25v1.25h-1.25zM389.0 244.4h1.25v1.25h-1.25zM387.8 250.0h1.25v1.25h-1.25zM378.8 252.6h1.25v1.25h-1.25zM394.3 246.5h1.25v1.25h-1.25zM389.6 250.2h1.25v1.25h-1.25zM384.6 241.8h1.25v1.25h-1.25zM391.4 240.1h1.25v1.25h-1.25zM389.9 247.1h1.25v1.25h-1.25zM377.9 243.0h1.25v1.25h-1.25zM389.1 241.1h1.25v1.25h-1.25zM390.4 239.9h1.25v1.25h-1.25zM395.3 243.3h1.25v1.25h-1.25zM373.1 242.5h1.25v1.25h-1.25zM373.8 239.3h1.25v1.25h-1.25z"/>
<path fill="#1e1282" d="M369.2 251.3h1.25v1.25h-1.25zM369.9 248.4h1.25v1.25h-1.25zM365.7 244.5h1.25v1.25h-1.25zM361.5 244.0h1.25v1.25h-1.25zM364.7 248.3h1.25v1.25h-1.25zM372.8 248.6h1.25v1.25h-1.25zM364.9 243.5h1.25v1.25h-1.25zM368.2 234.9h1.25v1.25h-1.25zM365.0 251.0h1.25v1.25h-1.25zM367.4 250.8h1.25v1.25h-1.25zM366.8 246.3h1.25v1.25h-1.25zM363.2 248.0h1.25v1.25h-1.25zM362.9 240.9h1.25v1.25h-1.25zM361.0 241.2h1.25v1.25h-1.25zM364.4 244.2h1.25v1.25h-1.25zM368.8 241.5h1.25v1.25h-1.25zM370.7 241.5h1.25v1.25h-1.25zM371.2 245.0h1.25v1.25h-1.25zM369.3 244.4h1.25v1.25h-1.25zM361.3 241.8h1.25v1.25h-1.25zM368.7 240.7h1.25v1.25h-1.25zM368.1 234.9h1.25v1.25h-1.25zM364.6 245.1h1.25v1.25h-1.25zM363.0 243.0h1.25v1.25h-1.25zM366.1 237.9h1.25v1.25h-1.25zM371.1 241.6h1.25v1.25h-1.25zM363.0 240.3h1.25v1.25h-1.25zM367.0 242.0h1.25v1.25h-1.25zM367.9 245.2h1.25v1.25h-1.25zM369.9 243.2h1.25v1.25h-1.25zM373.7 246.6h1.25v1.25h-1.25zM363.1 246.1h1.25v1.25h-1.25zM366.1 242.7h1.25v1.25h-1.25zM364.6 233.2h1.25v1.25h-1.25zM367.2 242.9h1.25v1.25h-1.25zM366.7 244.9h1.25v1.25h-1.25zM368.1 247.1h1.25v1.25h-1.25zM365.8 245.4h1.25v1.25h-1.25zM370.2 251.1h1.25v1.25h-1.25zM366.0 247.1h1.25v1.25h-1.25zM369.4 250.0h1.25v1.25h-1.25zM367.0 241.4h1.25v1.25h-1.25zM366.6 233.9h1.25v1.25h-1.25zM364.9 228.7h1.25v1.25h-1.25zM365.0 235.5h1.25v1.25h-1.25zM362.9 232.7h1.25v1.25h-1.25zM365.4 239.6h1.25v1.25h-1.25zM367.4 240.3h1.25v1.25h-1.25zM374.9 247.9h1.25v1.25h-1.25zM370.3 241.7h1.25v1.25h-1.25zM370.1 241.6h1.25v1.25h-1.25zM360.3 251.8h1.25v1.25h-1.25zM362.9 243.7h1.25v1.25h-1.25zM370.9 234.1h1.25v1.25h-1.25zM372.5 250.0h1.25v1.25h-1.25zM359.3 250.0h1.25v1.25h-1.25zM371.8 226.6h1.25v1.25h-1.25zM369.5 222.1h1.25v1.25h-1.25zM365.6 227.2h1.25v1.25h-1.25zM369.5 219.2h1.25v1.25h-1.25zM392.8 243.9h1.25v1.25h-1.25zM385.5 244.8h1.25v1.25h-1.25zM388.1 241.3h1.25v1.25h-1.25zM388.2 243.1h1.25v1.25h-1.25zM387.7 248.3h1.25v1.25h-1.25zM381.6 247.6h1.25v1.25h-1.25zM382.8 246.5h1.25v1.25h-1.25zM386.1 239.9h1.25v1.25h-1.25zM386.4 241.9h1.25v1.25h-1.25zM386.4 247.8h1.25v1.25h-1.25zM393.5 246.3h1.25v1.25h-1.25zM385.5 244.0h1.25v1.25h-1.25zM388.5 238.8h1.25v1.25h-1.25zM389.9 246.8h1.25v1.25h-1.25zM395.1 243.6h1.25v1.25h-1.25zM398.9 245.3h1.25v1.25h-1.25zM389.1 246.0h1.25v1.25h-1.25zM392.1 244.7h1.25v1.25h-1.25zM390.6 240.8h1.25v1.25h-1.25zM381.8 247.2h1.25v1.25h-1.25zM391.7 237.4h1.25v1.25h-1.25zM384.3 243.4h1.25v1.25h-1.25zM384.5 247.5h1.25v1.25h-1.25zM392.4 245.8h1.25v1.25h-1.25zM381.6 247.0h1.25v1.25h-1.25zM392.0 234.9h1.25v1.25h-1.25zM389.3 243.2h1.25v1.25h-1.25zM396.1 245.2h1.25v1.25h-1.25zM378.6 239.7h1.25v1.25h-1.25zM375.3 246.0h1.25v1.25h-1.25zM371.2 223.4h1.25v1.25h-1.25z"/>
<path fill="#8078d0" d="M364.7 250.5h1.25v1.25h-1.25zM360.5 244.6h1.25v1.25h-1.25zM372.7 235.2h1.25v1.25h-1.25zM369.0 239.9h1.25v1.25h-1.25zM369.5 249.9h1.25v1.25h-1.25zM365.0 247.6h1.25v1.25h-1.25zM366.3 244.7h1.25v1.25h-1.25zM367.1 241.9h1.25v1.25h-1.25zM370.6 240.8h1.25v1.25h-1.25zM360.6 246.8h1.25v1.25h-1.25zM366.2 243.7h1.25v1.25h-1.25zM367.6 247.3h1.25v1.25h-1.25zM367.6 247.8h1.25v1.25h-1.25zM361.8 244.4h1.25v1.25h-1.25zM370.1 239.8h1.25v1.25h-1.25zM367.1 243.5h1.25v1.25h-1.25zM364.7 246.4h1.25v1.25h-1.25zM366.3 244.1h1.25v1.25h-1.25zM370.2 243.4h1.25v1.25h-1.25zM368.5 235.1h1.25v1.25h-1.25zM369.7 248.1h1.25v1.25h-1.25zM363.9 246.9h1.25v1.25h-1.25zM366.2 247.1h1.25v1.25h-1.25zM375.4 247.1h1.25v1.25h-1.25zM366.4 243.0h1.25v1.25h-1.25zM362.6 250.5h1.25v1.25h-1.25zM367.8 240.7h1.25v1.25h-1.25zM365.8 242.6h1.25v1.25h-1.25zM366.4 252.0h1.25v1.25h-1.25zM367.9 245.1h1.25v1.25h-1.25zM370.3 242.8h1.25v1.25h-1.25zM365.8 239.7h1.25v1.25h-1.25zM370.4 240.6h1.25v1.25h-1.25zM371.8 239.5h1.25v1.25h-1.25zM368.1 250.2h1.25v1.25h-1.25zM366.5 239.2h1.25v1.25h-1.25zM370.6 240.1h1.25v1.25h-1.25zM364.8 236.0h1.25v1.25h-1.25zM362.6 239.1h1.25v1.25h-1.25zM371.1 246.4h1.25v1.25h-1.25zM368.6 237.7h1.25v1.25h-1.25zM368.3 245.4h1.25v1.25h-1.25zM364.9 243.6h1.25v1.25h-1.25zM367.8 246.0h1.25v1.25h-1.25zM364.9 242.2h1.25v1.25h-1.25zM365.7 238.7h1.25v1.25h-1.25zM359.1 249.6h1.25v1.25h-1.25zM370.2 235.5h1.25v1.25h-1.25zM364.7 234.5h1.25v1.25h-1.25zM368.0 226.7h1.25v1.25h-1.25zM363.4 228.5h1.25v1.25h-1.25zM368.9 230.1h1.25v1.25h-1.25zM370.6 231.7h1.25v1.25h-1.25zM365.2 246.0h1.25v1.25h-1.25zM373.3 233.4h1.25v1.25h-1.25zM359.4 227.2h1.25v1.25h-1.25zM371.9 244.2h1.25v1.25h-1.25zM364.9 243.2h1.25v1.25h-1.25zM370.7 235.9h1.25v1.25h-1.25zM363.7 243.6h1.25v1.25h-1.25zM361.3 250.9h1.25v1.25h-1.25zM369.4 236.9h1.25v1.25h-1.25zM367.1 224.6h1.25v1.25h-1.25zM368.4 225.3h1.25v1.25h-1.25zM365.0 220.4h1.25v1.25h-1.25zM385.8 241.8h1.25v1.25h-1.25zM399.7 244.4h1.25v1.25h-1.25zM381.5 243.4h1.25v1.25h-1.25zM381.4 241.9h1.25v1.25h-1.25zM385.7 248.9h1.25v1.25h-1.25zM386.4 244.1h1.25v1.25h-1.25zM386.1 243.2h1.25v1.25h-1.25zM389.1 242.4h1.25v1.25h-1.25zM392.2 244.5h1.25v1.25h-1.25zM383.2 247.8h1.25v1.25h-1.25zM384.8 246.3h1.25v1.25h-1.25zM388.5 244.1h1.25v1.25h-1.25zM384.9 243.7h1.25v1.25h-1.25zM388.4 245.0h1.25v1.25h-1.25zM385.1 243.2h1.25v1.25h-1.25zM390.7 243.3h1.25v1.25h-1.25zM397.2 239.8h1.25v1.25h-1.25zM392.5 241.3h1.25v1.25h-1.25zM379.4 238.3h1.25v1.25h-1.25zM385.0 246.3h1.25v1.25h-1.25zM385.6 242.2h1.25v1.25h-1.25zM390.9 244.0h1.25v1.25h-1.25zM390.4 244.4h1.25v1.25h-1.25zM390.9 241.1h1.25v1.25h-1.25zM385.4 244.3h1.25v1.25h-1.25zM393.2 241.3h1.25v1.25h-1.25zM390.2 239.9h1.25v1.25h-1.25zM387.0 243.0h1.25v1.25h-1.25zM391.1 243.5h1.25v1.25h-1.25zM388.7 235.3h1.25v1.25h-1.25zM379.2 249.9h1.25v1.25h-1.25zM389.3 237.2h1.25v1.25h-1.25zM390.1 244.3h1.25v1.25h-1.25zM374.0 244.4h1.25v1.25h-1.25zM377.8 245.7h1.25v1.25h-1.25zM376.3 240.3h1.25v1.25h-1.25zM377.1 246.7h1.25v1.25h-1.25zM378.7 249.5h1.25v1.25h-1.25zM379.6 228.0h1.25v1.25h-1.25z"/>
<path fill="#30209a" d="M362.4 246.7h1.25v1.25h-1.25zM366.4 239.5h1.25v1.25h-1.25zM367.3 250.4h1.25v1.25h-1.25zM368.8 239.7h1.25v1.25h-1.25zM366.4 237.6h1.25v1.25h-1.25zM368.8 243.6h1.25v1.25h-1.25zM368.8 245.7h1.25v1.25h-1.25zM360.4 246.2h1.25v1.25h-1.25zM365.7 248.6h1.25v1.25h-1.25zM370.4 242.9h1.25v1.25h-1.25zM363.8 233.6h1.25v1.25h-1.25zM363.9 236.7h1.25v1.25h-1.25zM369.0 249.2h1.25v1.25h-1.25zM368.8 247.5h1.25v1.25h-1.25zM369.4 247.4h1.25v1.25h-1.25zM368.3 233.4h1.25v1.25h-1.25zM367.7 250.5h1.25v1.25h-1.25zM364.5 232.3h1.25v1.25h-1.25zM361.6 231.2h1.25v1.25h-1.25zM371.2 248.1h1.25v1.25h-1.25zM363.4 242.9h1.25v1.25h-1.25zM359.8 248.7h1.25v1.25h-1.25zM362.5 238.5h1.25v1.25h-1.25zM367.1 244.8h1.25v1.25h-1.25zM367.8 237.7h1.25v1.25h-1.25zM362.0 251.1h1.25v1.25h-1.25zM358.9 247.9h1.25v1.25h-1.25zM364.9 248.3h1.25v1.25h-1.25zM371.0 239.2h1.25v1.25h-1.25zM369.4 254.1h1.25v1.25h-1.25zM366.5 241.8h1.25v1.25h-1.25zM369.7 237.7h1.25v1.25h-1.25zM367.6 238.9h1.25v1.25h-1.25zM361.3 238.5h1.25v1.25h-1.25zM368.8 244.8h1.25v1.25h-1.25zM365.8 248.1h1.25v1.25h-1.25zM367.1 243.3h1.25v1.25h-1.25zM368.9 239.7h1.25v1.25h-1.25zM372.9 238.4h1.25v1.25h-1.25zM368.7 246.2h1.25v1.25h-1.25zM363.9 228.8h1.25v1.25h-1.25zM371.1 240.6h1.25v1.25h-1.25zM364.0 235.9h1.25v1.25h-1.25zM365.0 233.0h1.25v1.25h-1.25zM364.9 240.5h1.25v1.25h-1.25zM366.0 252.9h1.25v1.25h-1.25zM363.8 252.6h1.25v1.25h-1.25zM372.1 236.6h1.25v1.25h-1.25zM360.9 233.9h1.25v1.25h-1.25zM359.4 246.7h1.25v1.25h-1.25zM360.6 242.3h1.25v1.25h-1.25zM359.4 234.3h1.25v1.25h-1.25zM372.1 241.3h1.25v1.25h-1.25zM389.8 251.3h1.25v1.25h-1.25zM388.6 243.1h1.25v1.25h-1.25zM389.9 245.8h1.25v1.25h-1.25zM387.6 246.0h1.25v1.25h-1.25zM391.3 242.0h1.25v1.25h-1.25zM384.6 240.1h1.25v1.25h-1.25zM398.8 247.6h1.25v1.25h-1.25zM393.6 247.7h1.25v1.25h-1.25zM385.1 243.3h1.25v1.25h-1.25zM391.5 245.8h1.25v1.25h-1.25zM391.2 240.9h1.25v1.25h-1.25zM384.6 247.3h1.25v1.25h-1.25zM389.7 246.6h1.25v1.25h-1.25zM384.8 249.4h1.25v1.25h-1.25zM389.7 247.4h1.25v1.25h-1.25zM381.2 245.9h1.25v1.25h-1.25zM385.9 242.3h1.25v1.25h-1.25zM388.9 244.7h1.25v1.25h-1.25zM391.3 235.6h1.25v1.25h-1.25zM387.9 241.3h1.25v1.25h-1.25zM386.7 244.1h1.25v1.25h-1.25zM381.3 247.5h1.25v1.25h-1.25zM395.3 249.0h1.25v1.25h-1.25zM386.5 244.1h1.25v1.25h-1.25zM387.5 237.1h1.25v1.25h-1.25zM396.3 235.0h1.25v1.25h-1.25zM383.3 241.1h1.25v1.25h-1.25zM378.5 235.1h1.25v1.25h-1.25zM390.4 244.7h1.25v1.25h-1.25zM394.8 248.5h1.25v1.25h-1.25zM387.6 243.1h1.25v1.25h-1.25zM376.3 247.9h1.25v1.25h-1.25zM373.5 221.3h1.25v1.25h-1.25zM377.6 220.6h1.25v1.25h-1.25z"/>
<path fill="#3e2ea8" d="M370.1 244.5h1.25v1.25h-1.25zM366.7 237.3h1.25v1.25h-1.25zM368.4 248.8h1.25v1.25h-1.25zM366.6 251.8h1.25v1.25h-1.25zM365.9 241.2h1.25v1.25h-1.25zM366.0 241.0h1.25v1.25h-1.25zM365.0 253.3h1.25v1.25h-1.25zM365.5 247.7h1.25v1.25h-1.25zM370.4 253.3h1.25v1.25h-1.25zM361.7 247.2h1.25v1.25h-1.25zM370.9 244.2h1.25v1.25h-1.25zM365.4 236.2h1.25v1.25h-1.25zM366.0 241.8h1.25v1.25h-1.25zM369.3 249.6h1.25v1.25h-1.25zM373.7 250.8h1.25v1.25h-1.25zM369.0 238.8h1.25v1.25h-1.25zM366.6 244.5h1.25v1.25h-1.25zM363.9 236.2h1.25v1.25h-1.25zM369.0 241.5h1.25v1.25h-1.25zM368.9 248.1h1.25v1.25h-1.25zM368.3 248.1h1.25v1.25h-1.25zM363.8 249.1h1.25v1.25h-1.25zM367.8 245.1h1.25v1.25h-1.25zM369.0 244.8h1.25v1.25h-1.25zM369.5 242.7h1.25v1.25h-1.25zM361.3 240.1h1.25v1.25h-1.25zM366.7 246.4h1.25v1.25h-1.25zM367.7 243.3h1.25v1.25h-1.25zM368.2 245.8h1.25v1.25h-1.25zM364.2 245.6h1.25v1.25h-1.25zM364.4 243.1h1.25v1.25h-1.25zM369.6 240.9h1.25v1.25h-1.25zM369.4 242.3h1.25v1.25h-1.25zM365.1 247.5h1.25v1.25h-1.25zM367.3 243.4h1.25v1.25h-1.25zM371.4 242.8h1.25v1.25h-1.25zM369.1 229.1h1.25v1.25h-1.25zM366.3 221.3h1.25v1.25h-1.25zM364.7 240.5h1.25v1.25h-1.25zM366.1 241.0h1.25v1.25h-1.25zM365.9 243.4h1.25v1.25h-1.25zM360.7 240.2h1.25v1.25h-1.25zM362.7 231.2h1.25v1.25h-1.25zM369.4 227.1h1.25v1.25h-1.25zM365.3 230.8h1.25v1.25h-1.25zM361.5 232.7h1.25v1.25h-1.25zM360.3 248.9h1.25v1.25h-1.25zM360.5 238.1h1.25v1.25h-1.25zM361.0 247.7h1.25v1.25h-1.25zM374.5 248.2h1.25v1.25h-1.25zM361.5 242.6h1.25v1.25h-1.25zM361.4 230.6h1.25v1.25h-1.25zM371.5 227.3h1.25v1.25h-1.25zM371.8 231.3h1.25v1.25h-1.25zM371.1 242.2h1.25v1.25h-1.25zM366.6 252.9h1.25v1.25h-1.25zM366.3 236.5h1.25v1.25h-1.25zM367.2 231.8h1.25v1.25h-1.25zM369.4 226.5h1.25v1.25h-1.25zM362.9 227.3h1.25v1.25h-1.25zM398.3 249.7h1.25v1.25h-1.25zM386.9 242.8h1.25v1.25h-1.25zM389.5 242.6h1.25v1.25h-1.25zM386.9 248.7h1.25v1.25h-1.25zM388.4 239.7h1.25v1.25h-1.25zM391.8 249.3h1.25v1.25h-1.25zM381.3 245.4h1.25v1.25h-1.25zM394.6 247.4h1.25v1.25h-1.25zM388.2 242.7h1.25v1.25h-1.25zM388.1 250.5h1.25v1.25h-1.25zM389.0 241.3h1.25v1.25h-1.25zM381.3 242.6h1.25v1.25h-1.25zM389.3 239.7h1.25v1.25h-1.25zM385.8 245.4h1.25v1.25h-1.25zM389.0 241.6h1.25v1.25h-1.25zM383.7 239.6h1.25v1.25h-1.25zM386.4 237.9h1.25v1.25h-1.25zM384.4 243.1h1.25v1.25h-1.25zM384.3 243.2h1.25v1.25h-1.25zM384.3 246.3h1.25v1.25h-1.25zM385.6 243.8h1.25v1.25h-1.25zM378.4 245.3h1.25v1.25h-1.25zM389.4 243.3h1.25v1.25h-1.25zM386.5 241.5h1.25v1.25h-1.25zM391.1 247.0h1.25v1.25h-1.25zM387.8 245.7h1.25v1.25h-1.25zM388.9 243.9h1.25v1.25h-1.25zM390.7 242.3h1.25v1.25h-1.25zM385.0 250.2h1.25v1.25h-1.25zM391.3 240.4h1.25v1.25h-1.25zM387.7 235.4h1.25v1.25h-1.25zM396.5 248.9h1.25v1.25h-1.25zM396.8 247.3h1.25v1.25h-1.25zM389.0 240.8h1.25v1.25h-1.25zM391.0 250.7h1.25v1.25h-1.25zM385.8 248.1h1.25v1.25h-1.25zM389.1 238.3h1.25v1.25h-1.25zM392.7 237.8h1.25v1.25h-1.25zM378.3 247.1h1.25v1.25h-1.25zM378.9 236.2h1.25v1.25h-1.25zM367.0 235.6h1.25v1.25h-1.25z"/>
<g><ellipse cx="366.6" cy="244.0" rx="2.60" ry="4.80" fill="#8a3a98"/><ellipse cx="366.6" cy="244.0" rx="1.70" ry="3.40" fill="#c8484e"/><ellipse cx="366.6" cy="244.0" rx="1.00" ry="2.20" fill="#e6603a"/></g>
<path fill="#c8404a" d="M367.6 237.6h1.2v1.2h-1.2zM364.2 249.1h1.2v1.2h-1.2zM366.6 245.2h1.2v1.2h-1.2zM367.1 247.0h1.2v1.2h-1.2z"/>
<path fill="#f07a40" d="M365.1 242.1h1.2v1.2h-1.2zM368.5 245.1h1.2v1.2h-1.2zM367.4 244.5h1.2v1.2h-1.2zM370.6 245.8h1.2v1.2h-1.2zM367.2 246.4h1.2v1.2h-1.2zM366.8 243.8h1.2v1.2h-1.2z"/>
<path fill="#e05a3a" d="M362.2 244.6h1.2v1.2h-1.2zM366.1 243.3h1.2v1.2h-1.2zM368.1 245.7h1.2v1.2h-1.2zM365.3 239.0h1.2v1.2h-1.2zM365.3 242.0h1.2v1.2h-1.2zM370.7 243.9h1.2v1.2h-1.2zM366.4 241.0h1.2v1.2h-1.2zM365.8 241.0h1.2v1.2h-1.2z"/>
<path d="M467.1 186.5V263.3H511.2" fill="none" stroke="#262626" stroke-width="1.25"/>
<path d="M463.9 188.9H467.1" stroke="#262626" stroke-width="1"/>
<text x="461.3" y="190.8" font-size="5.2" text-anchor="end" fill="#3a3a3a" textLength="18.5" lengthAdjust="spacingAndGlyphs">100000</text>
<path d="M463.9 203.8H467.1" stroke="#262626" stroke-width="1"/>
<text x="461.3" y="205.7" font-size="5.2" text-anchor="end" fill="#3a3a3a" textLength="15.5" lengthAdjust="spacingAndGlyphs">80000</text>
<path d="M463.9 218.5H467.1" stroke="#262626" stroke-width="1"/>
<text x="461.3" y="220.3" font-size="5.2" text-anchor="end" fill="#3a3a3a" textLength="15.5" lengthAdjust="spacingAndGlyphs">60000</text>
<path d="M463.9 233.6H467.1" stroke="#262626" stroke-width="1"/>
<text x="461.3" y="235.4" font-size="5.2" text-anchor="end" fill="#3a3a3a" textLength="15.5" lengthAdjust="spacingAndGlyphs">40000</text>
<path d="M463.9 248.4H467.1" stroke="#262626" stroke-width="1"/>
<text x="461.3" y="250.2" font-size="5.2" text-anchor="end" fill="#3a3a3a" textLength="15.5" lengthAdjust="spacingAndGlyphs">20000</text>
<path d="M463.9 263.3H467.1" stroke="#262626" stroke-width="1"/>
<text x="461.3" y="265.2" font-size="5.2" text-anchor="end" fill="#3a3a3a" textLength="3.5" lengthAdjust="spacingAndGlyphs">0</text>
<path d="M481.2 263.3v2.6" stroke="#262626" stroke-width="1"/>
<path d="M503.4 263.3v2.6" stroke="#262626" stroke-width="1"/>
<text x="481.2" y="273.9" font-size="5.4" text-anchor="middle" fill="#333" textLength="12.6" lengthAdjust="spacingAndGlyphs">CON</text>
<text x="503.4" y="273.9" font-size="5.4" text-anchor="middle" fill="#333" textLength="11.0" lengthAdjust="spacingAndGlyphs">RUX</text>
<text x="492.3" y="179.2" font-size="8.6" text-anchor="middle" fill="#222">CLP</text>
<path d="M433.2 225.5h5.6M433.2 226.7h5.6M434.8 225.0v2.2M437.2 225.0v2.2" stroke="#444" stroke-width="0.7"/>
<path d="M475.0 215.0H488.7" stroke="#1a1a1a" stroke-width="0.9"/>
<path d="M496.5 240.4H509.6" stroke="#1a1a1a" stroke-width="0.9"/>
<g fill="#a3163c"><circle cx="476.9" cy="203.8" r="1.2"/><circle cx="481.8" cy="202.8" r="1.2"/><circle cx="486.1" cy="204.2" r="1.2"/><circle cx="476.3" cy="215.0" r="1.2"/><circle cx="481.8" cy="214.0" r="1.2"/><circle cx="481.8" cy="216.3" r="1.2"/><circle cx="486.1" cy="215.0" r="1.2"/><circle cx="481.4" cy="231.6" r="1.2"/><circle cx="481.4" cy="237.1" r="1.2"/><circle cx="481.4" cy="239.0" r="1.2"/></g>
<g fill="#a3163c"><circle cx="503.0" cy="234.0" r="1.2"/><circle cx="500.4" cy="237.1" r="1.2"/><circle cx="505.3" cy="237.1" r="1.2"/><circle cx="498.5" cy="240.4" r="1.2"/><circle cx="503.0" cy="240.4" r="1.2"/><circle cx="508.8" cy="239.8" r="1.2"/><circle cx="500.4" cy="244.3" r="1.2"/><circle cx="505.3" cy="245.7" r="1.2"/><circle cx="501.0" cy="248.8" r="1.2"/><circle cx="503.0" cy="243.0" r="1.2"/></g>
<path d="M481.2 198.3V194.4H503.4V229.6" fill="none" stroke="#3a3a3a" stroke-width="1.0"/>
<path fill="#2a2a2a" d="M485.70 187.50L486.29 188.79L487.70 188.95L486.65 189.91L486.93 191.30L485.70 190.60L484.47 191.30L484.75 189.91L483.70 188.95L485.11 188.79ZM490.10 187.50L490.69 188.79L492.10 188.95L491.05 189.91L491.33 191.30L490.10 190.60L488.87 191.30L489.15 189.91L488.10 188.95L489.51 188.79ZM494.50 187.50L495.09 188.79L496.50 188.95L495.45 189.91L495.73 191.30L494.50 190.60L493.27 191.30L493.55 189.91L492.50 188.95L493.91 188.79ZM498.90 187.50L499.49 188.79L500.90 188.95L499.85 189.91L500.13 191.30L498.90 190.60L497.67 191.30L497.95 189.91L496.90 188.95L498.31 188.79Z"/>
<text x="2.6" y="294.9" font-size="10.4" text-anchor="start" fill="#111" font-weight="bold" textLength="7.0" lengthAdjust="spacingAndGlyphs" stroke="#111" stroke-width="0.4">E</text>
<path d="M12.1 308.0V376.3H146.6" fill="none" stroke="#3c3c3c" stroke-width="1.8" stroke-linejoin="round"/>
<path d="M12.1 304.0l-2.70 6.00h5.40z" fill="#111"/>
<path d="M150.6 376.3l-5.60 -2.20v4.40z" fill="#111"/>
<path d="M11.7 394.2V463.7H146.6" fill="none" stroke="#3c3c3c" stroke-width="1.8" stroke-linejoin="round"/>
<path d="M11.7 390.2l-2.70 6.00h5.40z" fill="#111"/>
<path d="M150.6 463.7l-5.60 -2.20v4.40z" fill="#111"/>
<path d="M11.9 481.6V551.5H150.0" fill="none" stroke="#3c3c3c" stroke-width="1.8" stroke-linejoin="round"/>
<path d="M11.9 477.6l-2.70 6.00h5.40z" fill="#111"/>
<path d="M154.0 551.5l-5.60 -2.20v4.40z" fill="#111"/>
<text transform="translate(6.9,337.0) rotate(-90)" font-size="7.6" text-anchor="middle" fill="#333" textLength="25.8" lengthAdjust="spacingAndGlyphs">CD16/32</text>
<text transform="translate(7.2,422.0) rotate(-90)" font-size="7.6" text-anchor="middle" fill="#333" textLength="18.8" lengthAdjust="spacingAndGlyphs">CD117</text>
<text transform="translate(7.3,508.1) rotate(-90)" font-size="7.6" text-anchor="middle" fill="#333" textLength="19.4" lengthAdjust="spacingAndGlyphs">CD135</text>
<text x="88.3" y="385.4" font-size="8.4" text-anchor="middle" fill="#333" textLength="16.4" lengthAdjust="spacingAndGlyphs">CD34</text>
<text x="87.8" y="472.0" font-size="8.4" text-anchor="middle" fill="#333" textLength="14.9" lengthAdjust="spacingAndGlyphs">Sca-1</text>
<text x="92.8" y="560.4" font-size="8.4" text-anchor="middle" fill="#333" textLength="16.2" lengthAdjust="spacingAndGlyphs">CD34</text>
<rect x="24.3" y="302.4" width="63.3" height="63.6" fill="#fff" stroke="#8a8a8a" stroke-width="0.8"/>
<text x="22.3" y="309.1" font-size="3.9" text-anchor="end" fill="#555">10<tspan font-size="2.6" dy="-1.3">5</tspan></text>
<text x="22.3" y="322.0" font-size="3.9" text-anchor="end" fill="#555">10<tspan font-size="2.6" dy="-1.3">4</tspan></text>
<text x="22.3" y="336.6" font-size="3.9" text-anchor="end" fill="#555">10<tspan font-size="2.6" dy="-1.3">3</tspan></text>
<text x="22.3" y="348.9" font-size="3.9" text-anchor="end" fill="#555">10<tspan font-size="2.6" dy="-1.3">2</tspan></text>
<text x="22.3" y="356.9" font-size="3.9" text-anchor="end" fill="#555">0</text>
<text x="22.3" y="364.4" font-size="3.9" text-anchor="end" fill="#555">-10<tspan font-size="2.6" dy="-1.3">2</tspan></text>
<text x="38.5" y="372.6" font-size="3.9" text-anchor="middle" fill="#555">0</text>
<text x="56.2" y="372.6" font-size="3.9" text-anchor="middle" fill="#555">10<tspan font-size="2.6" dy="-1.3">3</tspan></text>
<text x="70.0" y="372.6" font-size="3.9" text-anchor="middle" fill="#555">10<tspan font-size="2.6" dy="-1.3">4</tspan></text>
<text x="82.8" y="372.6" font-size="3.9" text-anchor="middle" fill="#555">10<tspan font-size="2.6" dy="-1.3">5</tspan></text>
<path d="M22.7 307.7h1.6M22.7 320.6h1.6M22.7 335.2h1.6M22.7 347.5h1.6M22.7 355.5h1.6M22.7 363.0h1.6M38.5 366.0v1.6M56.2 366.0v1.6M70.0 366.0v1.6M82.8 366.0v1.6" stroke="#777" stroke-width="0.7"/>
<text x="27.4" y="310.5" font-size="6.2" text-anchor="start" fill="#2a2a2a" textLength="13.9" lengthAdjust="spacingAndGlyphs">CON</text>
<rect x="23.1" y="354.3" width="1.6" height="2.4" fill="#111"/>
<rect x="35.1" y="366.2" width="2.8" height="1.4" fill="#111"/>
<rect x="89.5" y="302.4" width="63.6" height="63.7" fill="#fff" stroke="#8a8a8a" stroke-width="0.8"/>
<text x="87.5" y="309.1" font-size="3.9" text-anchor="end" fill="#555"></text>
<text x="87.5" y="322.0" font-size="3.9" text-anchor="end" fill="#555"></text>
<text x="87.5" y="336.6" font-size="3.9" text-anchor="end" fill="#555"></text>
<text x="87.5" y="348.9" font-size="3.9" text-anchor="end" fill="#555"></text>
<text x="87.5" y="356.9" font-size="3.9" text-anchor="end" fill="#555"></text>
<text x="87.5" y="364.4" font-size="3.9" text-anchor="end" fill="#555"></text>
<text x="103.0" y="372.7" font-size="3.9" text-anchor="middle" fill="#555">0</text>
<text x="121.5" y="372.7" font-size="3.9" text-anchor="middle" fill="#555">10<tspan font-size="2.6" dy="-1.3">3</tspan></text>
<text x="135.4" y="372.7" font-size="3.9" text-anchor="middle" fill="#555">10<tspan font-size="2.6" dy="-1.3">4</tspan></text>
<text x="148.5" y="372.7" font-size="3.9" text-anchor="middle" fill="#555">10<tspan font-size="2.6" dy="-1.3">5</tspan></text>
<path d="M87.9 307.7h1.6M87.9 320.6h1.6M87.9 335.2h1.6M87.9 347.5h1.6M87.9 355.5h1.6M87.9 363.0h1.6M103.0 366.1v1.6M121.5 366.1v1.6M135.4 366.1v1.6M148.5 366.1v1.6" stroke="#777" stroke-width="0.7"/>
<text x="91.8" y="310.5" font-size="6.2" text-anchor="start" fill="#2a2a2a" textLength="12.3" lengthAdjust="spacingAndGlyphs">RUX</text>
<rect x="88.3" y="354.3" width="1.6" height="2.4" fill="#111"/>
<rect x="100.1" y="366.3" width="2.8" height="1.4" fill="#111"/>
<rect x="31.3" y="332.1" width="18.1" height="15.2" fill="none" stroke="#777" stroke-width="0.7"/>
<rect x="26.2" y="347.3" width="32.0" height="13.9" fill="none" stroke="#777" stroke-width="0.7"/>
<path fill="#4a44bc" d="M45.5 333.7h1.2v1.2h-1.2zM44.1 357.4h1.2v1.2h-1.2zM42.7 348.6h1.2v1.2h-1.2zM38.8 358.3h1.2v1.2h-1.2zM48.7 338.6h1.2v1.2h-1.2zM34.9 340.6h1.2v1.2h-1.2zM35.1 343.7h1.2v1.2h-1.2zM48.7 333.3h1.2v1.2h-1.2zM39.7 342.7h1.2v1.2h-1.2zM45.1 353.3h1.2v1.2h-1.2zM34.5 343.2h1.2v1.2h-1.2zM34.5 343.9h1.2v1.2h-1.2zM34.1 337.0h1.2v1.2h-1.2zM31.3 350.7h1.2v1.2h-1.2zM38.4 350.6h1.2v1.2h-1.2zM42.7 347.6h1.2v1.2h-1.2zM49.0 339.0h1.2v1.2h-1.2zM32.4 348.5h1.2v1.2h-1.2zM32.8 339.1h1.2v1.2h-1.2zM37.3 345.3h1.2v1.2h-1.2zM41.4 339.9h1.2v1.2h-1.2zM34.2 346.0h1.2v1.2h-1.2zM38.0 340.0h1.2v1.2h-1.2zM36.2 341.5h1.2v1.2h-1.2zM38.8 341.4h1.2v1.2h-1.2zM35.7 357.0h1.2v1.2h-1.2zM45.1 333.3h1.2v1.2h-1.2zM47.5 355.7h1.2v1.2h-1.2zM37.0 335.4h1.2v1.2h-1.2zM47.1 340.0h1.2v1.2h-1.2zM44.3 342.0h1.2v1.2h-1.2zM34.3 357.7h1.2v1.2h-1.2zM39.7 336.5h1.2v1.2h-1.2zM43.7 347.2h1.2v1.2h-1.2zM42.0 347.7h1.2v1.2h-1.2zM45.1 352.2h1.2v1.2h-1.2zM42.7 334.6h1.2v1.2h-1.2zM37.5 352.7h1.2v1.2h-1.2zM39.4 346.6h1.2v1.2h-1.2zM40.9 345.1h1.2v1.2h-1.2zM48.2 335.6h1.2v1.2h-1.2zM31.2 346.4h1.2v1.2h-1.2zM31.6 358.5h1.2v1.2h-1.2zM45.9 344.2h1.2v1.2h-1.2zM37.8 357.7h1.2v1.2h-1.2zM39.9 352.9h1.2v1.2h-1.2zM41.8 351.2h1.2v1.2h-1.2zM37.2 345.2h1.2v1.2h-1.2zM36.6 336.1h1.2v1.2h-1.2zM35.8 347.8h1.2v1.2h-1.2zM42.7 344.6h1.2v1.2h-1.2zM42.9 346.2h1.2v1.2h-1.2zM41.9 350.2h1.2v1.2h-1.2zM36.8 351.3h1.2v1.2h-1.2zM36.2 349.9h1.2v1.2h-1.2zM45.7 343.7h1.2v1.2h-1.2zM36.7 354.4h1.2v1.2h-1.2zM33.9 333.7h1.2v1.2h-1.2zM49.8 335.8h1.2v1.2h-1.2zM40.7 344.4h1.2v1.2h-1.2zM47.1 346.8h1.2v1.2h-1.2zM37.7 354.0h1.2v1.2h-1.2zM42.4 338.2h1.2v1.2h-1.2zM37.1 346.5h1.2v1.2h-1.2zM28.6 351.6h1.2v1.2h-1.2zM38.4 340.7h1.2v1.2h-1.2zM41.7 350.0h1.2v1.2h-1.2zM26.5 342.1h1.2v1.2h-1.2zM43.3 348.5h1.2v1.2h-1.2zM48.1 360.6h1.2v1.2h-1.2zM47.5 357.9h1.2v1.2h-1.2zM43.2 356.2h1.2v1.2h-1.2zM49.8 347.3h1.2v1.2h-1.2zM40.2 350.5h1.2v1.2h-1.2zM39.2 342.9h1.2v1.2h-1.2zM33.7 346.4h1.2v1.2h-1.2zM41.5 341.5h1.2v1.2h-1.2zM36.1 339.8h1.2v1.2h-1.2zM35.0 345.1h1.2v1.2h-1.2zM43.1 353.1h1.2v1.2h-1.2zM44.5 341.6h1.2v1.2h-1.2zM33.5 353.5h1.2v1.2h-1.2zM39.8 345.7h1.2v1.2h-1.2zM32.5 341.4h1.2v1.2h-1.2zM45.5 338.9h1.2v1.2h-1.2zM41.2 353.1h1.2v1.2h-1.2zM34.4 341.7h1.2v1.2h-1.2zM38.0 352.2h1.2v1.2h-1.2zM46.8 356.9h1.2v1.2h-1.2zM26.2 350.9h1.2v1.2h-1.2zM45.5 342.4h1.2v1.2h-1.2zM40.0 358.7h1.2v1.2h-1.2zM39.3 342.7h1.2v1.2h-1.2zM39.0 341.8h1.2v1.2h-1.2zM37.6 342.9h1.2v1.2h-1.2zM41.0 350.0h1.2v1.2h-1.2zM45.9 345.2h1.2v1.2h-1.2zM29.1 344.8h1.2v1.2h-1.2zM46.3 346.2h1.2v1.2h-1.2zM38.8 355.7h1.2v1.2h-1.2zM50.1 352.0h1.2v1.2h-1.2zM41.5 344.2h1.2v1.2h-1.2zM41.3 344.1h1.2v1.2h-1.2zM32.1 351.8h1.2v1.2h-1.2zM50.2 356.0h1.2v1.2h-1.2zM55.0 345.7h1.2v1.2h-1.2zM46.6 355.1h1.2v1.2h-1.2zM53.6 348.1h1.2v1.2h-1.2zM51.0 345.9h1.2v1.2h-1.2zM53.5 347.5h1.2v1.2h-1.2zM48.7 344.9h1.2v1.2h-1.2zM53.6 352.1h1.2v1.2h-1.2zM54.4 352.9h1.2v1.2h-1.2zM50.1 349.9h1.2v1.2h-1.2zM50.1 345.4h1.2v1.2h-1.2zM51.5 354.4h1.2v1.2h-1.2zM48.4 349.8h1.2v1.2h-1.2zM47.0 351.0h1.2v1.2h-1.2zM47.4 355.5h1.2v1.2h-1.2zM54.8 353.0h1.2v1.2h-1.2zM50.2 347.0h1.2v1.2h-1.2zM47.9 334.4h1.2v1.2h-1.2zM57.7 331.4h1.2v1.2h-1.2zM50.1 340.5h1.2v1.2h-1.2z"/>
<path fill="#382ca4" d="M42.2 344.1h1.2v1.2h-1.2zM32.6 333.8h1.2v1.2h-1.2zM43.5 358.3h1.2v1.2h-1.2zM34.6 341.1h1.2v1.2h-1.2zM43.4 351.0h1.2v1.2h-1.2zM46.8 334.7h1.2v1.2h-1.2zM43.9 340.6h1.2v1.2h-1.2zM34.4 333.7h1.2v1.2h-1.2zM37.3 333.3h1.2v1.2h-1.2zM45.5 336.3h1.2v1.2h-1.2zM44.4 333.8h1.2v1.2h-1.2zM42.9 348.8h1.2v1.2h-1.2zM34.6 339.1h1.2v1.2h-1.2zM48.0 343.9h1.2v1.2h-1.2zM44.2 357.3h1.2v1.2h-1.2zM41.7 346.5h1.2v1.2h-1.2zM46.1 341.0h1.2v1.2h-1.2zM31.2 353.5h1.2v1.2h-1.2zM42.9 340.3h1.2v1.2h-1.2zM48.0 350.3h1.2v1.2h-1.2zM31.2 339.8h1.2v1.2h-1.2zM47.3 352.7h1.2v1.2h-1.2zM31.8 358.8h1.2v1.2h-1.2zM41.6 352.4h1.2v1.2h-1.2zM34.3 346.0h1.2v1.2h-1.2zM45.9 339.8h1.2v1.2h-1.2zM33.5 334.0h1.2v1.2h-1.2zM31.5 334.7h1.2v1.2h-1.2zM45.3 347.4h1.2v1.2h-1.2zM36.1 356.6h1.2v1.2h-1.2zM46.0 357.3h1.2v1.2h-1.2zM49.5 345.1h1.2v1.2h-1.2zM45.1 346.5h1.2v1.2h-1.2zM32.4 341.9h1.2v1.2h-1.2zM41.5 349.9h1.2v1.2h-1.2zM37.4 354.3h1.2v1.2h-1.2zM45.2 342.4h1.2v1.2h-1.2zM41.9 347.5h1.2v1.2h-1.2zM32.1 341.3h1.2v1.2h-1.2zM38.9 340.9h1.2v1.2h-1.2zM47.0 350.8h1.2v1.2h-1.2zM48.5 334.7h1.2v1.2h-1.2zM43.9 341.1h1.2v1.2h-1.2zM35.4 334.1h1.2v1.2h-1.2zM43.3 351.7h1.2v1.2h-1.2zM42.3 353.7h1.2v1.2h-1.2zM36.1 356.1h1.2v1.2h-1.2zM42.1 353.8h1.2v1.2h-1.2zM38.1 351.9h1.2v1.2h-1.2zM38.7 348.9h1.2v1.2h-1.2zM43.6 343.3h1.2v1.2h-1.2zM37.2 350.9h1.2v1.2h-1.2zM40.7 359.2h1.2v1.2h-1.2zM46.8 340.6h1.2v1.2h-1.2zM35.4 344.7h1.2v1.2h-1.2zM43.5 349.5h1.2v1.2h-1.2zM43.6 356.3h1.2v1.2h-1.2zM33.3 351.2h1.2v1.2h-1.2zM42.1 342.0h1.2v1.2h-1.2zM37.0 348.6h1.2v1.2h-1.2zM40.1 357.0h1.2v1.2h-1.2zM39.1 338.5h1.2v1.2h-1.2zM50.1 339.4h1.2v1.2h-1.2zM33.2 343.9h1.2v1.2h-1.2zM36.8 359.8h1.2v1.2h-1.2zM41.5 341.9h1.2v1.2h-1.2zM46.1 354.2h1.2v1.2h-1.2zM43.5 349.6h1.2v1.2h-1.2zM36.0 343.9h1.2v1.2h-1.2zM39.4 355.4h1.2v1.2h-1.2zM36.9 359.3h1.2v1.2h-1.2zM40.9 347.6h1.2v1.2h-1.2zM33.1 343.1h1.2v1.2h-1.2zM36.3 348.9h1.2v1.2h-1.2zM37.0 348.8h1.2v1.2h-1.2zM40.0 357.4h1.2v1.2h-1.2zM37.0 338.8h1.2v1.2h-1.2zM41.5 336.0h1.2v1.2h-1.2zM35.9 350.7h1.2v1.2h-1.2zM36.8 345.7h1.2v1.2h-1.2zM36.5 340.7h1.2v1.2h-1.2zM45.2 345.3h1.2v1.2h-1.2zM47.1 333.9h1.2v1.2h-1.2zM39.8 346.4h1.2v1.2h-1.2zM30.1 341.6h1.2v1.2h-1.2zM27.5 334.0h1.2v1.2h-1.2zM43.0 351.1h1.2v1.2h-1.2zM42.2 348.4h1.2v1.2h-1.2zM38.5 349.7h1.2v1.2h-1.2zM39.4 344.4h1.2v1.2h-1.2zM29.4 345.8h1.2v1.2h-1.2zM44.5 352.7h1.2v1.2h-1.2zM39.1 335.8h1.2v1.2h-1.2zM43.7 346.4h1.2v1.2h-1.2zM37.9 349.8h1.2v1.2h-1.2zM40.3 358.7h1.2v1.2h-1.2zM40.8 349.1h1.2v1.2h-1.2zM34.3 348.5h1.2v1.2h-1.2zM38.1 342.6h1.2v1.2h-1.2zM37.5 349.4h1.2v1.2h-1.2zM33.1 349.9h1.2v1.2h-1.2zM33.0 343.9h1.2v1.2h-1.2zM38.0 351.9h1.2v1.2h-1.2zM41.3 346.3h1.2v1.2h-1.2zM30.2 340.2h1.2v1.2h-1.2zM53.6 355.5h1.2v1.2h-1.2zM55.6 345.5h1.2v1.2h-1.2zM54.9 354.1h1.2v1.2h-1.2zM46.1 349.9h1.2v1.2h-1.2zM52.7 342.8h1.2v1.2h-1.2zM56.6 350.0h1.2v1.2h-1.2zM49.9 358.3h1.2v1.2h-1.2zM55.9 350.2h1.2v1.2h-1.2zM46.4 352.4h1.2v1.2h-1.2zM51.1 347.0h1.2v1.2h-1.2zM43.5 355.0h1.2v1.2h-1.2zM52.3 350.6h1.2v1.2h-1.2zM45.6 351.5h1.2v1.2h-1.2zM46.1 353.9h1.2v1.2h-1.2zM43.3 351.4h1.2v1.2h-1.2zM48.8 345.1h1.2v1.2h-1.2zM30.7 345.9h1.2v1.2h-1.2zM61.6 356.7h1.2v1.2h-1.2z"/>
<path fill="#2c2094" d="M49.1 338.3h1.2v1.2h-1.2zM31.0 345.5h1.2v1.2h-1.2zM39.0 354.0h1.2v1.2h-1.2zM40.2 343.1h1.2v1.2h-1.2zM41.2 343.1h1.2v1.2h-1.2zM38.1 351.4h1.2v1.2h-1.2zM36.1 354.8h1.2v1.2h-1.2zM35.9 353.6h1.2v1.2h-1.2zM44.1 337.7h1.2v1.2h-1.2zM36.9 342.0h1.2v1.2h-1.2zM31.3 340.2h1.2v1.2h-1.2zM43.3 346.8h1.2v1.2h-1.2zM42.6 354.8h1.2v1.2h-1.2zM44.0 340.7h1.2v1.2h-1.2zM46.3 352.4h1.2v1.2h-1.2zM46.4 335.6h1.2v1.2h-1.2zM49.2 351.8h1.2v1.2h-1.2zM36.5 345.1h1.2v1.2h-1.2zM48.0 346.5h1.2v1.2h-1.2zM44.8 357.9h1.2v1.2h-1.2zM37.6 344.3h1.2v1.2h-1.2zM31.1 352.0h1.2v1.2h-1.2zM44.8 355.8h1.2v1.2h-1.2zM47.9 355.5h1.2v1.2h-1.2zM41.5 353.5h1.2v1.2h-1.2zM31.4 348.3h1.2v1.2h-1.2zM34.5 346.2h1.2v1.2h-1.2zM38.7 349.4h1.2v1.2h-1.2zM39.2 331.4h1.2v1.2h-1.2zM40.9 340.0h1.2v1.2h-1.2zM32.9 353.8h1.2v1.2h-1.2zM39.5 335.6h1.2v1.2h-1.2zM40.1 347.2h1.2v1.2h-1.2zM41.8 342.4h1.2v1.2h-1.2zM39.0 348.7h1.2v1.2h-1.2zM41.3 340.2h1.2v1.2h-1.2zM40.2 337.3h1.2v1.2h-1.2zM36.4 345.2h1.2v1.2h-1.2zM40.5 356.0h1.2v1.2h-1.2zM43.6 351.1h1.2v1.2h-1.2zM44.9 351.8h1.2v1.2h-1.2zM33.7 347.6h1.2v1.2h-1.2zM26.1 347.4h1.2v1.2h-1.2zM38.1 347.7h1.2v1.2h-1.2zM40.1 344.7h1.2v1.2h-1.2zM41.6 353.6h1.2v1.2h-1.2zM42.3 336.8h1.2v1.2h-1.2zM38.6 344.5h1.2v1.2h-1.2zM40.0 343.5h1.2v1.2h-1.2zM41.3 346.8h1.2v1.2h-1.2zM43.4 359.4h1.2v1.2h-1.2zM39.0 346.8h1.2v1.2h-1.2zM43.8 341.5h1.2v1.2h-1.2zM39.7 342.3h1.2v1.2h-1.2zM32.3 343.8h1.2v1.2h-1.2zM29.4 355.0h1.2v1.2h-1.2zM32.8 342.2h1.2v1.2h-1.2zM38.9 352.5h1.2v1.2h-1.2zM41.3 355.0h1.2v1.2h-1.2zM45.0 344.4h1.2v1.2h-1.2zM39.4 348.4h1.2v1.2h-1.2zM39.3 342.7h1.2v1.2h-1.2zM41.5 349.6h1.2v1.2h-1.2zM44.8 351.3h1.2v1.2h-1.2zM32.3 346.3h1.2v1.2h-1.2zM37.0 351.0h1.2v1.2h-1.2zM37.0 350.7h1.2v1.2h-1.2zM55.0 346.1h1.2v1.2h-1.2zM55.6 355.1h1.2v1.2h-1.2zM50.1 354.0h1.2v1.2h-1.2zM49.9 347.0h1.2v1.2h-1.2zM46.6 350.9h1.2v1.2h-1.2zM50.6 358.3h1.2v1.2h-1.2zM44.7 358.2h1.2v1.2h-1.2zM50.1 358.1h1.2v1.2h-1.2zM51.5 351.3h1.2v1.2h-1.2zM47.3 350.2h1.2v1.2h-1.2zM44.4 351.6h1.2v1.2h-1.2zM51.6 350.2h1.2v1.2h-1.2zM47.6 353.7h1.2v1.2h-1.2zM45.0 352.3h1.2v1.2h-1.2zM47.4 350.7h1.2v1.2h-1.2zM49.5 350.8h1.2v1.2h-1.2zM54.4 353.8h1.2v1.2h-1.2zM48.3 351.9h1.2v1.2h-1.2zM52.4 350.1h1.2v1.2h-1.2zM58.8 360.1h1.2v1.2h-1.2z"/>
<path fill="#24188a" d="M33.1 354.0h1.2v1.2h-1.2zM49.4 339.8h1.2v1.2h-1.2zM39.2 355.9h1.2v1.2h-1.2zM43.1 343.8h1.2v1.2h-1.2zM39.1 356.8h1.2v1.2h-1.2zM35.8 347.5h1.2v1.2h-1.2zM42.2 341.9h1.2v1.2h-1.2zM34.8 359.0h1.2v1.2h-1.2zM41.9 335.1h1.2v1.2h-1.2zM44.9 356.5h1.2v1.2h-1.2zM33.2 336.8h1.2v1.2h-1.2zM45.6 354.8h1.2v1.2h-1.2zM31.3 353.6h1.2v1.2h-1.2zM43.7 356.5h1.2v1.2h-1.2zM42.8 340.6h1.2v1.2h-1.2zM42.1 342.3h1.2v1.2h-1.2zM47.9 333.9h1.2v1.2h-1.2zM39.0 338.4h1.2v1.2h-1.2zM31.2 339.8h1.2v1.2h-1.2zM36.2 343.3h1.2v1.2h-1.2zM33.1 347.1h1.2v1.2h-1.2zM37.9 339.9h1.2v1.2h-1.2zM41.9 333.4h1.2v1.2h-1.2zM48.6 343.5h1.2v1.2h-1.2zM34.5 347.5h1.2v1.2h-1.2zM43.7 357.3h1.2v1.2h-1.2zM43.5 341.0h1.2v1.2h-1.2zM37.9 337.3h1.2v1.2h-1.2zM40.0 355.6h1.2v1.2h-1.2zM45.4 353.4h1.2v1.2h-1.2zM45.1 340.5h1.2v1.2h-1.2zM38.0 354.7h1.2v1.2h-1.2zM42.8 351.4h1.2v1.2h-1.2zM33.7 347.4h1.2v1.2h-1.2zM44.3 354.0h1.2v1.2h-1.2zM33.2 356.8h1.2v1.2h-1.2zM40.5 346.9h1.2v1.2h-1.2zM33.2 348.9h1.2v1.2h-1.2zM46.7 347.7h1.2v1.2h-1.2zM34.3 350.7h1.2v1.2h-1.2zM42.5 344.7h1.2v1.2h-1.2zM47.6 354.3h1.2v1.2h-1.2zM39.9 340.1h1.2v1.2h-1.2zM40.3 344.8h1.2v1.2h-1.2zM39.7 359.4h1.2v1.2h-1.2zM47.3 345.4h1.2v1.2h-1.2zM42.2 332.6h1.2v1.2h-1.2zM42.2 338.3h1.2v1.2h-1.2zM45.0 342.5h1.2v1.2h-1.2zM36.5 349.1h1.2v1.2h-1.2zM34.2 355.2h1.2v1.2h-1.2zM37.4 358.2h1.2v1.2h-1.2zM45.7 347.5h1.2v1.2h-1.2zM32.9 350.1h1.2v1.2h-1.2zM32.6 343.1h1.2v1.2h-1.2zM45.9 352.0h1.2v1.2h-1.2zM35.7 348.7h1.2v1.2h-1.2zM36.9 351.3h1.2v1.2h-1.2zM47.0 347.1h1.2v1.2h-1.2zM42.7 338.4h1.2v1.2h-1.2zM43.2 345.9h1.2v1.2h-1.2zM33.0 350.6h1.2v1.2h-1.2zM40.9 350.2h1.2v1.2h-1.2zM28.1 340.1h1.2v1.2h-1.2zM38.1 344.4h1.2v1.2h-1.2zM37.7 350.7h1.2v1.2h-1.2zM32.3 343.2h1.2v1.2h-1.2zM37.0 347.6h1.2v1.2h-1.2zM36.6 350.9h1.2v1.2h-1.2zM44.2 346.6h1.2v1.2h-1.2zM41.0 341.1h1.2v1.2h-1.2zM40.5 343.9h1.2v1.2h-1.2zM37.4 349.1h1.2v1.2h-1.2zM42.7 355.5h1.2v1.2h-1.2zM40.2 350.9h1.2v1.2h-1.2zM40.4 339.5h1.2v1.2h-1.2zM33.6 343.0h1.2v1.2h-1.2zM40.9 344.6h1.2v1.2h-1.2zM35.6 332.9h1.2v1.2h-1.2zM30.1 349.7h1.2v1.2h-1.2zM39.3 348.1h1.2v1.2h-1.2zM41.2 349.1h1.2v1.2h-1.2zM33.5 357.8h1.2v1.2h-1.2zM37.7 340.2h1.2v1.2h-1.2zM37.5 352.3h1.2v1.2h-1.2zM42.8 350.2h1.2v1.2h-1.2zM43.7 348.3h1.2v1.2h-1.2zM38.1 354.3h1.2v1.2h-1.2zM36.2 340.6h1.2v1.2h-1.2zM39.9 347.0h1.2v1.2h-1.2zM48.5 353.9h1.2v1.2h-1.2zM46.8 347.9h1.2v1.2h-1.2zM46.1 347.7h1.2v1.2h-1.2zM49.1 342.4h1.2v1.2h-1.2zM51.7 355.5h1.2v1.2h-1.2zM53.7 345.8h1.2v1.2h-1.2zM49.7 351.7h1.2v1.2h-1.2zM52.6 351.0h1.2v1.2h-1.2zM47.7 348.0h1.2v1.2h-1.2zM52.0 352.5h1.2v1.2h-1.2zM51.3 348.4h1.2v1.2h-1.2zM53.5 351.6h1.2v1.2h-1.2zM47.5 351.7h1.2v1.2h-1.2zM45.5 350.8h1.2v1.2h-1.2zM57.7 351.6h1.2v1.2h-1.2z"/>
<g><ellipse cx="38.0" cy="343.6" rx="6.00" ry="7.00" fill="#3a34a6"/><ellipse cx="38.4" cy="352.0" rx="7.40" ry="5.60" fill="#3a34a6"/><ellipse cx="38.0" cy="343.6" rx="5.00" ry="6.00" fill="#4f7fd2"/><ellipse cx="38.4" cy="352.0" rx="6.40" ry="4.90" fill="#4f7fd2"/><ellipse cx="38.0" cy="343.6" rx="4.00" ry="5.00" fill="#5ec3c8"/><ellipse cx="38.4" cy="352.0" rx="5.60" ry="4.30" fill="#5ec3c8"/><ellipse cx="38.0" cy="343.6" rx="3.00" ry="4.00" fill="#62c24a"/><ellipse cx="38.4" cy="352.0" rx="4.80" ry="3.80" fill="#62c24a"/><ellipse cx="38.4" cy="352.0" rx="4.00" ry="3.20" fill="#ece23a"/><ellipse cx="38.4" cy="352.0" rx="3.20" ry="2.40" fill="#f5a02e"/><ellipse cx="38.4" cy="352.0" rx="2.30" ry="1.50" fill="#ec2c1c"/></g>
<path fill="#3a34a6" d="M32.8 342.8h1.2v1.2h-1.2zM35.8 348.7h1.2v1.2h-1.2zM34.9 337.4h1.2v1.2h-1.2zM31.6 343.6h1.2v1.2h-1.2zM38.4 337.3h1.2v1.2h-1.2zM36.9 348.6h1.2v1.2h-1.2zM41.4 344.2h1.2v1.2h-1.2zM35.7 348.4h1.2v1.2h-1.2zM41.2 345.6h1.2v1.2h-1.2zM42.2 343.0h1.2v1.2h-1.2zM32.9 344.8h1.2v1.2h-1.2zM41.3 340.0h1.2v1.2h-1.2zM39.8 337.1h1.2v1.2h-1.2zM38.2 349.6h1.2v1.2h-1.2zM42.4 345.2h1.2v1.2h-1.2zM32.7 339.1h1.2v1.2h-1.2zM38.2 336.1h1.2v1.2h-1.2zM33.1 346.3h1.2v1.2h-1.2zM35.9 349.1h1.2v1.2h-1.2zM41.7 347.2h1.2v1.2h-1.2zM33.6 355.1h1.2v1.2h-1.2zM31.2 350.1h1.2v1.2h-1.2zM34.1 355.9h1.2v1.2h-1.2zM36.6 346.6h1.2v1.2h-1.2zM31.9 350.7h1.2v1.2h-1.2zM43.9 352.3h1.2v1.2h-1.2zM43.7 348.4h1.2v1.2h-1.2zM42.3 347.8h1.2v1.2h-1.2zM44.8 352.7h1.2v1.2h-1.2zM32.5 348.6h1.2v1.2h-1.2zM40.6 355.8h1.2v1.2h-1.2z"/>
<path fill="#4f7fd2" d="M42.1 342.0h1.2v1.2h-1.2zM32.7 344.1h1.2v1.2h-1.2zM34.9 345.4h1.2v1.2h-1.2zM33.9 348.6h1.2v1.2h-1.2zM34.0 339.2h1.2v1.2h-1.2zM34.9 338.7h1.2v1.2h-1.2zM36.5 348.4h1.2v1.2h-1.2zM32.6 340.2h1.2v1.2h-1.2zM32.7 340.3h1.2v1.2h-1.2zM33.6 341.7h1.2v1.2h-1.2zM40.6 338.2h1.2v1.2h-1.2zM41.1 340.4h1.2v1.2h-1.2zM32.4 344.8h1.2v1.2h-1.2zM33.6 342.6h1.2v1.2h-1.2zM39.3 336.5h1.2v1.2h-1.2zM36.6 348.0h1.2v1.2h-1.2zM37.2 348.9h1.2v1.2h-1.2zM38.3 337.9h1.2v1.2h-1.2zM41.5 343.6h1.2v1.2h-1.2zM40.3 339.8h1.2v1.2h-1.2zM41.4 338.1h1.2v1.2h-1.2zM41.0 340.3h1.2v1.2h-1.2zM41.8 341.2h1.2v1.2h-1.2zM32.9 339.4h1.2v1.2h-1.2zM41.9 354.1h1.2v1.2h-1.2zM36.9 346.2h1.2v1.2h-1.2zM32.9 353.0h1.2v1.2h-1.2zM32.9 348.2h1.2v1.2h-1.2zM33.1 349.3h1.2v1.2h-1.2zM44.6 350.5h1.2v1.2h-1.2zM40.7 346.3h1.2v1.2h-1.2zM42.3 355.8h1.2v1.2h-1.2zM32.2 354.6h1.2v1.2h-1.2zM35.1 346.5h1.2v1.2h-1.2zM41.7 355.1h1.2v1.2h-1.2zM39.3 356.3h1.2v1.2h-1.2zM32.1 349.5h1.2v1.2h-1.2zM31.8 352.8h1.2v1.2h-1.2zM34.2 354.5h1.2v1.2h-1.2zM34.5 346.6h1.2v1.2h-1.2z"/>
<path fill="#62c24a" d="M34.4 341.4h1.2v1.2h-1.2zM40.2 341.5h1.2v1.2h-1.2zM37.6 341.6h1.2v1.2h-1.2zM35.9 346.0h1.2v1.2h-1.2zM35.0 340.5h1.2v1.2h-1.2zM36.4 343.7h1.2v1.2h-1.2zM36.6 339.8h1.2v1.2h-1.2zM35.0 345.3h1.2v1.2h-1.2zM37.0 339.4h1.2v1.2h-1.2zM38.7 340.8h1.2v1.2h-1.2zM39.9 342.6h1.2v1.2h-1.2zM37.7 339.4h1.2v1.2h-1.2zM37.1 340.6h1.2v1.2h-1.2zM40.7 342.9h1.2v1.2h-1.2zM39.3 342.5h1.2v1.2h-1.2zM40.4 342.1h1.2v1.2h-1.2zM38.8 338.9h1.2v1.2h-1.2zM39.2 345.1h1.2v1.2h-1.2zM34.0 350.0h1.2v1.2h-1.2zM38.7 354.4h1.2v1.2h-1.2zM42.2 350.9h1.2v1.2h-1.2zM35.3 348.1h1.2v1.2h-1.2zM34.5 349.4h1.2v1.2h-1.2zM41.4 351.0h1.2v1.2h-1.2z"/>
<path fill="#5ec3c8" d="M40.5 340.0h1.2v1.2h-1.2zM38.0 344.8h1.2v1.2h-1.2zM39.1 344.4h1.2v1.2h-1.2zM33.7 341.6h1.2v1.2h-1.2zM39.8 340.6h1.2v1.2h-1.2zM39.9 346.3h1.2v1.2h-1.2zM35.7 346.5h1.2v1.2h-1.2zM33.9 347.2h1.2v1.2h-1.2zM37.1 340.6h1.2v1.2h-1.2zM39.9 339.1h1.2v1.2h-1.2zM35.8 346.8h1.2v1.2h-1.2zM36.9 348.0h1.2v1.2h-1.2zM31.7 351.2h1.2v1.2h-1.2zM34.0 353.4h1.2v1.2h-1.2zM33.1 350.4h1.2v1.2h-1.2zM40.3 355.7h1.2v1.2h-1.2zM34.8 347.3h1.2v1.2h-1.2zM33.6 350.6h1.2v1.2h-1.2zM42.6 350.6h1.2v1.2h-1.2z"/>
<path fill="#3a2c9e" d="M38.5 336.1h1.2v1.2h-1.2zM37.2 350.1h1.2v1.2h-1.2zM31.6 348.3h1.2v1.2h-1.2zM42.1 356.1h1.2v1.2h-1.2zM41.8 346.7h1.2v1.2h-1.2zM30.4 352.5h1.2v1.2h-1.2zM39.1 345.8h1.2v1.2h-1.2zM42.3 355.9h1.2v1.2h-1.2zM44.7 349.4h1.2v1.2h-1.2zM33.1 355.9h1.2v1.2h-1.2zM32.0 355.0h1.2v1.2h-1.2z"/>
<path fill="#f5a02e" d="M39.6 349.4h1.2v1.2h-1.2zM38.9 352.8h1.2v1.2h-1.2zM38.1 350.4h1.2v1.2h-1.2zM37.6 348.5h1.2v1.2h-1.2zM35.7 353.8h1.2v1.2h-1.2zM36.9 351.3h1.2v1.2h-1.2zM38.7 349.6h1.2v1.2h-1.2zM35.2 352.9h1.2v1.2h-1.2zM34.4 352.0h1.2v1.2h-1.2zM38.0 354.2h1.2v1.2h-1.2zM35.0 349.3h1.2v1.2h-1.2z"/>
<path fill="#ece23a" d="M35.4 348.6h1.2v1.2h-1.2zM34.6 349.8h1.2v1.2h-1.2zM38.3 347.7h1.2v1.2h-1.2zM33.6 351.6h1.2v1.2h-1.2zM33.7 350.1h1.2v1.2h-1.2zM38.9 349.9h1.2v1.2h-1.2zM33.4 351.5h1.2v1.2h-1.2zM35.6 349.4h1.2v1.2h-1.2zM34.2 349.6h1.2v1.2h-1.2z"/>
<path fill="#ec2c1c" d="M38.2 352.6h1.2v1.2h-1.2zM35.7 352.7h1.2v1.2h-1.2zM40.5 350.2h1.2v1.2h-1.2zM37.2 352.9h1.2v1.2h-1.2zM37.4 352.1h1.2v1.2h-1.2z"/>
<text x="38.6" y="327.8" font-size="5.6" text-anchor="start" fill="#333" textLength="9.7" lengthAdjust="spacingAndGlyphs">29.1</text>
<text x="50.7" y="328.7" font-size="6.5" text-anchor="start" fill="#333" textLength="14.4" lengthAdjust="spacingAndGlyphs">GMP</text>
<text x="25.6" y="343.8" font-size="5.6" text-anchor="start" fill="#333" textLength="9.1" lengthAdjust="spacingAndGlyphs">25.7</text>
<text x="57.6" y="352.0" font-size="5.6" text-anchor="start" fill="#333" textLength="8.4" lengthAdjust="spacingAndGlyphs">34.9</text>
<text x="25.9" y="360.2" font-size="6.5" text-anchor="start" fill="#333" textLength="13.6" lengthAdjust="spacingAndGlyphs">MEP</text>
<text x="61.5" y="360.2" font-size="6.5" text-anchor="start" fill="#333" textLength="14.0" lengthAdjust="spacingAndGlyphs">CMP</text>
<rect x="99.2" y="331.9" width="15.4" height="15.4" fill="none" stroke="#777" stroke-width="0.7"/>
<rect x="90.8" y="347.3" width="33.8" height="14.6" fill="none" stroke="#777" stroke-width="0.7"/>
<path fill="#382ca4" d="M103.2 347.0h1.2v1.2h-1.2zM113.8 355.4h1.2v1.2h-1.2zM105.1 341.9h1.2v1.2h-1.2zM102.6 349.6h1.2v1.2h-1.2zM106.6 350.7h1.2v1.2h-1.2zM104.0 348.0h1.2v1.2h-1.2zM109.0 350.4h1.2v1.2h-1.2zM111.6 334.2h1.2v1.2h-1.2zM104.1 339.2h1.2v1.2h-1.2zM100.2 346.1h1.2v1.2h-1.2zM106.4 341.3h1.2v1.2h-1.2zM113.8 354.3h1.2v1.2h-1.2zM105.4 336.5h1.2v1.2h-1.2zM108.6 351.2h1.2v1.2h-1.2zM112.9 342.5h1.2v1.2h-1.2zM111.5 348.5h1.2v1.2h-1.2zM107.1 347.3h1.2v1.2h-1.2zM105.2 349.0h1.2v1.2h-1.2zM105.0 337.0h1.2v1.2h-1.2zM100.2 345.7h1.2v1.2h-1.2zM104.7 335.4h1.2v1.2h-1.2zM102.7 333.6h1.2v1.2h-1.2zM108.4 333.1h1.2v1.2h-1.2zM102.1 345.5h1.2v1.2h-1.2zM112.5 346.4h1.2v1.2h-1.2zM110.4 353.9h1.2v1.2h-1.2zM109.9 356.4h1.2v1.2h-1.2zM102.6 335.9h1.2v1.2h-1.2zM105.5 360.0h1.2v1.2h-1.2zM114.0 346.1h1.2v1.2h-1.2zM100.4 341.3h1.2v1.2h-1.2zM109.8 356.4h1.2v1.2h-1.2zM97.8 338.0h1.2v1.2h-1.2zM110.6 349.9h1.2v1.2h-1.2zM109.1 348.6h1.2v1.2h-1.2zM108.4 355.8h1.2v1.2h-1.2zM105.5 355.1h1.2v1.2h-1.2zM99.4 334.3h1.2v1.2h-1.2zM103.1 333.8h1.2v1.2h-1.2zM98.1 345.9h1.2v1.2h-1.2zM103.1 349.8h1.2v1.2h-1.2zM100.6 340.5h1.2v1.2h-1.2zM112.3 346.7h1.2v1.2h-1.2zM102.7 358.0h1.2v1.2h-1.2zM99.9 345.4h1.2v1.2h-1.2zM113.0 334.8h1.2v1.2h-1.2zM95.4 341.9h1.2v1.2h-1.2zM110.1 342.2h1.2v1.2h-1.2zM104.8 347.9h1.2v1.2h-1.2zM104.5 350.1h1.2v1.2h-1.2zM100.1 341.5h1.2v1.2h-1.2zM104.1 329.6h1.2v1.2h-1.2zM111.4 329.4h1.2v1.2h-1.2zM106.9 349.6h1.2v1.2h-1.2zM105.7 337.5h1.2v1.2h-1.2zM108.5 352.3h1.2v1.2h-1.2zM104.7 344.9h1.2v1.2h-1.2zM102.6 338.7h1.2v1.2h-1.2zM107.4 347.9h1.2v1.2h-1.2zM115.6 334.8h1.2v1.2h-1.2zM97.9 350.6h1.2v1.2h-1.2zM114.6 344.4h1.2v1.2h-1.2zM105.4 348.3h1.2v1.2h-1.2zM102.3 334.0h1.2v1.2h-1.2zM106.8 352.0h1.2v1.2h-1.2zM105.2 349.8h1.2v1.2h-1.2zM111.8 336.8h1.2v1.2h-1.2zM109.0 338.1h1.2v1.2h-1.2zM101.0 339.5h1.2v1.2h-1.2zM96.7 347.1h1.2v1.2h-1.2zM96.7 351.2h1.2v1.2h-1.2zM103.4 346.4h1.2v1.2h-1.2zM99.5 352.9h1.2v1.2h-1.2zM108.9 340.1h1.2v1.2h-1.2zM103.2 360.6h1.2v1.2h-1.2zM110.6 340.9h1.2v1.2h-1.2zM101.9 357.3h1.2v1.2h-1.2zM107.7 331.3h1.2v1.2h-1.2zM107.0 342.4h1.2v1.2h-1.2zM112.9 357.6h1.2v1.2h-1.2zM105.1 341.8h1.2v1.2h-1.2zM103.8 347.1h1.2v1.2h-1.2zM103.9 331.7h1.2v1.2h-1.2zM99.4 346.2h1.2v1.2h-1.2zM106.7 353.2h1.2v1.2h-1.2zM101.0 339.1h1.2v1.2h-1.2zM105.2 357.7h1.2v1.2h-1.2zM113.3 343.8h1.2v1.2h-1.2zM116.4 341.8h1.2v1.2h-1.2zM109.9 351.1h1.2v1.2h-1.2zM112.5 351.3h1.2v1.2h-1.2zM113.8 355.6h1.2v1.2h-1.2zM123.4 343.2h1.2v1.2h-1.2zM116.1 349.7h1.2v1.2h-1.2zM115.8 343.3h1.2v1.2h-1.2zM125.7 342.5h1.2v1.2h-1.2zM110.5 352.1h1.2v1.2h-1.2zM115.7 352.7h1.2v1.2h-1.2zM111.5 347.8h1.2v1.2h-1.2zM118.0 346.8h1.2v1.2h-1.2zM125.2 352.5h1.2v1.2h-1.2zM118.0 348.5h1.2v1.2h-1.2zM119.9 348.8h1.2v1.2h-1.2zM109.7 348.5h1.2v1.2h-1.2zM118.4 349.1h1.2v1.2h-1.2zM112.7 351.5h1.2v1.2h-1.2zM123.9 347.6h1.2v1.2h-1.2zM118.7 344.0h1.2v1.2h-1.2zM119.7 353.2h1.2v1.2h-1.2zM121.0 346.3h1.2v1.2h-1.2zM118.3 351.1h1.2v1.2h-1.2zM112.2 362.4h1.2v1.2h-1.2zM115.6 345.4h1.2v1.2h-1.2zM119.5 348.4h1.2v1.2h-1.2zM117.1 351.8h1.2v1.2h-1.2zM118.0 356.3h1.2v1.2h-1.2zM119.6 357.6h1.2v1.2h-1.2zM114.7 348.0h1.2v1.2h-1.2zM117.4 350.5h1.2v1.2h-1.2zM126.9 353.8h1.2v1.2h-1.2zM114.7 352.8h1.2v1.2h-1.2zM116.0 351.5h1.2v1.2h-1.2zM121.8 356.0h1.2v1.2h-1.2zM120.7 348.4h1.2v1.2h-1.2zM112.7 343.3h1.2v1.2h-1.2zM120.5 345.5h1.2v1.2h-1.2zM122.9 352.7h1.2v1.2h-1.2zM108.3 348.8h1.2v1.2h-1.2zM120.1 358.5h1.2v1.2h-1.2zM117.0 355.7h1.2v1.2h-1.2zM110.5 347.9h1.2v1.2h-1.2zM114.9 349.1h1.2v1.2h-1.2zM119.7 353.4h1.2v1.2h-1.2zM119.7 350.2h1.2v1.2h-1.2zM116.2 356.8h1.2v1.2h-1.2zM117.8 356.9h1.2v1.2h-1.2zM111.7 345.9h1.2v1.2h-1.2zM109.8 354.9h1.2v1.2h-1.2zM117.3 353.0h1.2v1.2h-1.2zM108.1 343.3h1.2v1.2h-1.2zM116.2 352.2h1.2v1.2h-1.2zM116.0 349.2h1.2v1.2h-1.2zM116.4 345.9h1.2v1.2h-1.2zM106.8 355.6h1.2v1.2h-1.2zM120.1 347.9h1.2v1.2h-1.2zM119.5 357.1h1.2v1.2h-1.2zM110.2 341.2h1.2v1.2h-1.2zM115.0 352.1h1.2v1.2h-1.2zM113.0 353.2h1.2v1.2h-1.2zM117.2 344.8h1.2v1.2h-1.2zM125.5 360.4h1.2v1.2h-1.2zM113.9 353.2h1.2v1.2h-1.2zM108.1 351.9h1.2v1.2h-1.2zM125.4 351.1h1.2v1.2h-1.2zM108.4 350.8h1.2v1.2h-1.2zM115.9 353.6h1.2v1.2h-1.2zM114.7 344.0h1.2v1.2h-1.2zM113.3 350.4h1.2v1.2h-1.2zM122.2 345.7h1.2v1.2h-1.2zM121.7 342.9h1.2v1.2h-1.2zM111.5 354.0h1.2v1.2h-1.2zM125.7 357.3h1.2v1.2h-1.2zM125.0 356.9h1.2v1.2h-1.2zM111.9 345.1h1.2v1.2h-1.2zM110.2 338.6h1.2v1.2h-1.2zM111.5 339.4h1.2v1.2h-1.2zM97.3 355.7h1.2v1.2h-1.2zM130.4 350.3h1.2v1.2h-1.2z"/>
<path fill="#4a44bc" d="M100.4 334.4h1.2v1.2h-1.2zM98.5 338.1h1.2v1.2h-1.2zM108.1 342.3h1.2v1.2h-1.2zM106.4 347.4h1.2v1.2h-1.2zM97.9 356.0h1.2v1.2h-1.2zM98.8 356.6h1.2v1.2h-1.2zM103.3 334.0h1.2v1.2h-1.2zM112.6 358.8h1.2v1.2h-1.2zM105.9 347.1h1.2v1.2h-1.2zM98.9 334.8h1.2v1.2h-1.2zM108.2 334.6h1.2v1.2h-1.2zM105.4 338.2h1.2v1.2h-1.2zM104.1 348.7h1.2v1.2h-1.2zM105.8 348.6h1.2v1.2h-1.2zM99.9 354.9h1.2v1.2h-1.2zM113.7 357.4h1.2v1.2h-1.2zM108.7 342.1h1.2v1.2h-1.2zM110.1 336.2h1.2v1.2h-1.2zM102.5 339.1h1.2v1.2h-1.2zM99.1 345.1h1.2v1.2h-1.2zM113.4 349.2h1.2v1.2h-1.2zM107.7 358.0h1.2v1.2h-1.2zM104.9 344.1h1.2v1.2h-1.2zM98.9 342.2h1.2v1.2h-1.2zM102.1 350.7h1.2v1.2h-1.2zM102.6 353.1h1.2v1.2h-1.2zM107.2 353.3h1.2v1.2h-1.2zM97.7 340.8h1.2v1.2h-1.2zM101.1 352.0h1.2v1.2h-1.2zM106.3 356.1h1.2v1.2h-1.2zM98.8 351.6h1.2v1.2h-1.2zM113.9 356.5h1.2v1.2h-1.2zM103.4 349.7h1.2v1.2h-1.2zM106.8 336.4h1.2v1.2h-1.2zM98.6 335.3h1.2v1.2h-1.2zM104.3 351.4h1.2v1.2h-1.2zM108.7 355.9h1.2v1.2h-1.2zM109.5 334.8h1.2v1.2h-1.2zM110.4 333.3h1.2v1.2h-1.2zM98.4 337.0h1.2v1.2h-1.2zM111.1 351.8h1.2v1.2h-1.2zM111.5 338.6h1.2v1.2h-1.2zM107.7 347.8h1.2v1.2h-1.2zM103.8 342.4h1.2v1.2h-1.2zM100.7 349.9h1.2v1.2h-1.2zM107.7 350.4h1.2v1.2h-1.2zM100.4 333.2h1.2v1.2h-1.2zM101.3 346.8h1.2v1.2h-1.2zM99.3 334.1h1.2v1.2h-1.2zM111.2 338.1h1.2v1.2h-1.2zM98.2 341.2h1.2v1.2h-1.2zM99.9 349.2h1.2v1.2h-1.2zM112.7 343.6h1.2v1.2h-1.2zM98.9 336.0h1.2v1.2h-1.2zM106.2 336.0h1.2v1.2h-1.2zM100.4 352.6h1.2v1.2h-1.2zM113.6 342.3h1.2v1.2h-1.2zM112.5 349.4h1.2v1.2h-1.2zM105.9 345.6h1.2v1.2h-1.2zM100.5 358.2h1.2v1.2h-1.2zM102.7 359.8h1.2v1.2h-1.2zM110.2 342.4h1.2v1.2h-1.2zM113.3 347.5h1.2v1.2h-1.2zM109.3 357.7h1.2v1.2h-1.2zM98.2 349.5h1.2v1.2h-1.2zM117.7 362.6h1.2v1.2h-1.2zM99.7 353.6h1.2v1.2h-1.2zM101.0 357.2h1.2v1.2h-1.2zM101.7 339.9h1.2v1.2h-1.2zM117.8 348.0h1.2v1.2h-1.2zM100.5 352.0h1.2v1.2h-1.2zM114.8 340.1h1.2v1.2h-1.2zM116.1 348.0h1.2v1.2h-1.2zM105.7 349.6h1.2v1.2h-1.2zM115.6 352.8h1.2v1.2h-1.2zM111.2 353.0h1.2v1.2h-1.2zM107.2 348.1h1.2v1.2h-1.2zM106.2 350.1h1.2v1.2h-1.2zM98.4 340.9h1.2v1.2h-1.2zM119.5 349.6h1.2v1.2h-1.2zM105.5 357.4h1.2v1.2h-1.2zM103.3 346.5h1.2v1.2h-1.2zM111.8 358.6h1.2v1.2h-1.2zM103.2 345.1h1.2v1.2h-1.2zM103.8 357.6h1.2v1.2h-1.2zM103.4 345.4h1.2v1.2h-1.2zM115.3 343.8h1.2v1.2h-1.2zM100.8 335.4h1.2v1.2h-1.2zM110.8 355.7h1.2v1.2h-1.2zM105.6 353.6h1.2v1.2h-1.2zM101.5 355.8h1.2v1.2h-1.2zM106.2 338.7h1.2v1.2h-1.2zM92.8 351.6h1.2v1.2h-1.2zM109.7 343.3h1.2v1.2h-1.2zM108.6 346.8h1.2v1.2h-1.2zM102.6 349.1h1.2v1.2h-1.2zM112.9 348.0h1.2v1.2h-1.2zM116.4 344.3h1.2v1.2h-1.2zM116.8 349.7h1.2v1.2h-1.2zM115.8 356.8h1.2v1.2h-1.2zM116.1 349.1h1.2v1.2h-1.2zM112.3 353.1h1.2v1.2h-1.2zM113.8 354.9h1.2v1.2h-1.2zM111.7 356.3h1.2v1.2h-1.2zM110.8 350.4h1.2v1.2h-1.2zM114.1 347.8h1.2v1.2h-1.2zM114.6 354.2h1.2v1.2h-1.2zM121.1 356.9h1.2v1.2h-1.2zM116.6 352.3h1.2v1.2h-1.2zM118.2 344.4h1.2v1.2h-1.2zM115.3 346.7h1.2v1.2h-1.2zM113.3 337.8h1.2v1.2h-1.2zM122.4 345.7h1.2v1.2h-1.2zM114.9 349.2h1.2v1.2h-1.2zM104.1 354.8h1.2v1.2h-1.2zM111.3 355.2h1.2v1.2h-1.2zM118.8 354.3h1.2v1.2h-1.2zM114.7 350.3h1.2v1.2h-1.2zM119.5 348.0h1.2v1.2h-1.2zM119.6 346.6h1.2v1.2h-1.2zM116.8 346.2h1.2v1.2h-1.2zM118.2 357.8h1.2v1.2h-1.2zM115.7 348.5h1.2v1.2h-1.2zM116.4 345.7h1.2v1.2h-1.2zM108.2 352.9h1.2v1.2h-1.2zM112.2 351.9h1.2v1.2h-1.2zM109.4 348.6h1.2v1.2h-1.2zM111.0 349.3h1.2v1.2h-1.2zM123.6 348.4h1.2v1.2h-1.2zM119.3 349.5h1.2v1.2h-1.2zM114.7 348.7h1.2v1.2h-1.2zM116.5 353.6h1.2v1.2h-1.2zM120.7 345.5h1.2v1.2h-1.2zM113.9 349.9h1.2v1.2h-1.2zM116.1 351.9h1.2v1.2h-1.2zM116.8 349.6h1.2v1.2h-1.2zM122.1 348.4h1.2v1.2h-1.2zM116.9 349.5h1.2v1.2h-1.2zM110.5 342.0h1.2v1.2h-1.2zM118.3 353.9h1.2v1.2h-1.2zM111.9 355.4h1.2v1.2h-1.2zM125.7 346.3h1.2v1.2h-1.2zM114.7 354.0h1.2v1.2h-1.2zM114.6 356.7h1.2v1.2h-1.2zM114.5 349.1h1.2v1.2h-1.2zM115.2 346.6h1.2v1.2h-1.2zM115.5 350.9h1.2v1.2h-1.2zM124.1 347.3h1.2v1.2h-1.2zM114.9 345.3h1.2v1.2h-1.2zM111.5 345.1h1.2v1.2h-1.2zM111.1 345.3h1.2v1.2h-1.2zM106.8 349.9h1.2v1.2h-1.2zM116.8 342.2h1.2v1.2h-1.2zM124.7 343.5h1.2v1.2h-1.2zM113.7 355.9h1.2v1.2h-1.2zM123.7 347.0h1.2v1.2h-1.2zM118.2 342.8h1.2v1.2h-1.2zM119.4 345.3h1.2v1.2h-1.2zM124.1 344.0h1.2v1.2h-1.2zM109.6 344.0h1.2v1.2h-1.2zM114.2 339.0h1.2v1.2h-1.2zM125.9 358.2h1.2v1.2h-1.2zM121.6 347.4h1.2v1.2h-1.2zM123.2 350.9h1.2v1.2h-1.2zM125.8 343.3h1.2v1.2h-1.2zM111.7 355.5h1.2v1.2h-1.2zM100.0 340.6h1.2v1.2h-1.2zM124.1 351.9h1.2v1.2h-1.2zM128.4 359.1h1.2v1.2h-1.2zM98.9 336.9h1.2v1.2h-1.2z"/>
<path fill="#2c2094" d="M104.8 352.4h1.2v1.2h-1.2zM100.7 347.5h1.2v1.2h-1.2zM103.6 334.4h1.2v1.2h-1.2zM98.1 335.1h1.2v1.2h-1.2zM108.3 348.4h1.2v1.2h-1.2zM110.6 351.8h1.2v1.2h-1.2zM109.3 348.1h1.2v1.2h-1.2zM98.5 334.3h1.2v1.2h-1.2zM97.4 354.1h1.2v1.2h-1.2zM113.0 339.3h1.2v1.2h-1.2zM109.3 344.3h1.2v1.2h-1.2zM107.6 341.1h1.2v1.2h-1.2zM100.8 342.3h1.2v1.2h-1.2zM108.9 341.5h1.2v1.2h-1.2zM113.2 355.2h1.2v1.2h-1.2zM107.3 333.7h1.2v1.2h-1.2zM100.8 334.2h1.2v1.2h-1.2zM102.2 350.1h1.2v1.2h-1.2zM107.1 333.9h1.2v1.2h-1.2zM108.2 354.3h1.2v1.2h-1.2zM110.9 341.9h1.2v1.2h-1.2zM111.2 354.3h1.2v1.2h-1.2zM113.1 351.7h1.2v1.2h-1.2zM102.4 350.0h1.2v1.2h-1.2zM110.5 352.6h1.2v1.2h-1.2zM109.7 353.8h1.2v1.2h-1.2zM109.4 355.4h1.2v1.2h-1.2zM103.8 344.2h1.2v1.2h-1.2zM108.2 337.9h1.2v1.2h-1.2zM104.7 352.3h1.2v1.2h-1.2zM102.8 358.1h1.2v1.2h-1.2zM106.8 346.5h1.2v1.2h-1.2zM97.4 347.8h1.2v1.2h-1.2zM99.3 351.8h1.2v1.2h-1.2zM104.9 353.4h1.2v1.2h-1.2zM104.1 358.1h1.2v1.2h-1.2zM102.5 337.4h1.2v1.2h-1.2zM100.2 351.5h1.2v1.2h-1.2zM97.7 351.8h1.2v1.2h-1.2zM107.4 349.0h1.2v1.2h-1.2zM113.3 345.9h1.2v1.2h-1.2zM99.2 344.8h1.2v1.2h-1.2zM105.8 340.9h1.2v1.2h-1.2zM108.4 353.0h1.2v1.2h-1.2zM97.6 335.1h1.2v1.2h-1.2zM110.4 334.6h1.2v1.2h-1.2zM99.6 337.3h1.2v1.2h-1.2zM96.7 350.5h1.2v1.2h-1.2zM97.1 344.7h1.2v1.2h-1.2zM104.2 345.1h1.2v1.2h-1.2zM99.2 340.1h1.2v1.2h-1.2zM97.0 347.6h1.2v1.2h-1.2zM109.4 354.7h1.2v1.2h-1.2zM105.1 343.9h1.2v1.2h-1.2zM98.9 350.6h1.2v1.2h-1.2zM105.5 338.6h1.2v1.2h-1.2zM99.0 353.4h1.2v1.2h-1.2zM115.1 335.8h1.2v1.2h-1.2zM107.7 327.6h1.2v1.2h-1.2zM100.0 350.7h1.2v1.2h-1.2zM105.9 348.5h1.2v1.2h-1.2zM99.3 347.4h1.2v1.2h-1.2zM108.9 347.3h1.2v1.2h-1.2zM101.8 345.5h1.2v1.2h-1.2zM102.7 344.6h1.2v1.2h-1.2zM104.5 340.0h1.2v1.2h-1.2zM103.7 354.3h1.2v1.2h-1.2zM103.7 352.4h1.2v1.2h-1.2zM94.3 351.4h1.2v1.2h-1.2zM111.9 358.4h1.2v1.2h-1.2zM112.4 340.5h1.2v1.2h-1.2zM110.6 337.1h1.2v1.2h-1.2zM106.5 337.2h1.2v1.2h-1.2zM112.3 340.8h1.2v1.2h-1.2zM102.8 344.3h1.2v1.2h-1.2zM99.9 347.3h1.2v1.2h-1.2zM113.5 333.7h1.2v1.2h-1.2zM108.1 341.9h1.2v1.2h-1.2zM105.1 344.5h1.2v1.2h-1.2zM119.2 348.3h1.2v1.2h-1.2zM109.2 362.9h1.2v1.2h-1.2zM107.9 347.6h1.2v1.2h-1.2zM100.1 346.6h1.2v1.2h-1.2zM106.7 359.1h1.2v1.2h-1.2zM110.8 344.6h1.2v1.2h-1.2zM108.4 353.5h1.2v1.2h-1.2zM115.2 350.9h1.2v1.2h-1.2zM119.8 355.4h1.2v1.2h-1.2zM116.2 352.5h1.2v1.2h-1.2zM116.3 349.5h1.2v1.2h-1.2zM116.2 352.4h1.2v1.2h-1.2zM115.6 351.1h1.2v1.2h-1.2zM123.7 346.8h1.2v1.2h-1.2zM114.8 355.1h1.2v1.2h-1.2zM115.8 344.6h1.2v1.2h-1.2zM107.8 343.6h1.2v1.2h-1.2zM104.1 355.8h1.2v1.2h-1.2zM114.7 352.2h1.2v1.2h-1.2zM117.3 351.6h1.2v1.2h-1.2zM115.6 346.0h1.2v1.2h-1.2zM121.2 347.5h1.2v1.2h-1.2zM112.4 352.2h1.2v1.2h-1.2zM112.5 344.5h1.2v1.2h-1.2zM122.3 344.7h1.2v1.2h-1.2zM113.9 348.6h1.2v1.2h-1.2zM119.0 350.8h1.2v1.2h-1.2zM108.9 353.1h1.2v1.2h-1.2zM118.0 343.2h1.2v1.2h-1.2zM111.9 349.6h1.2v1.2h-1.2zM118.4 349.7h1.2v1.2h-1.2zM119.5 352.1h1.2v1.2h-1.2zM114.2 350.6h1.2v1.2h-1.2zM118.6 353.9h1.2v1.2h-1.2zM114.6 346.7h1.2v1.2h-1.2zM120.0 351.7h1.2v1.2h-1.2zM119.0 356.1h1.2v1.2h-1.2zM116.3 353.7h1.2v1.2h-1.2zM117.6 351.5h1.2v1.2h-1.2zM114.0 351.5h1.2v1.2h-1.2zM121.0 352.9h1.2v1.2h-1.2zM109.0 343.6h1.2v1.2h-1.2zM117.6 350.2h1.2v1.2h-1.2zM118.6 352.0h1.2v1.2h-1.2zM114.8 344.9h1.2v1.2h-1.2zM117.3 345.2h1.2v1.2h-1.2zM104.3 352.7h1.2v1.2h-1.2zM113.0 348.9h1.2v1.2h-1.2zM114.6 346.0h1.2v1.2h-1.2zM124.1 355.4h1.2v1.2h-1.2zM117.4 356.6h1.2v1.2h-1.2zM110.0 360.8h1.2v1.2h-1.2zM108.5 349.6h1.2v1.2h-1.2zM117.6 352.6h1.2v1.2h-1.2zM121.1 356.6h1.2v1.2h-1.2zM123.3 345.8h1.2v1.2h-1.2zM108.7 348.1h1.2v1.2h-1.2zM111.2 348.1h1.2v1.2h-1.2zM115.7 342.2h1.2v1.2h-1.2zM115.3 347.6h1.2v1.2h-1.2zM117.3 355.0h1.2v1.2h-1.2zM108.7 348.8h1.2v1.2h-1.2zM121.2 355.0h1.2v1.2h-1.2zM120.0 351.7h1.2v1.2h-1.2zM124.0 360.3h1.2v1.2h-1.2zM123.6 353.5h1.2v1.2h-1.2zM124.0 345.4h1.2v1.2h-1.2zM117.8 338.3h1.2v1.2h-1.2zM124.8 350.7h1.2v1.2h-1.2zM102.3 353.9h1.2v1.2h-1.2zM109.1 340.7h1.2v1.2h-1.2z"/>
<path fill="#24188a" d="M111.5 338.1h1.2v1.2h-1.2zM111.2 346.7h1.2v1.2h-1.2zM97.9 356.1h1.2v1.2h-1.2zM107.3 354.4h1.2v1.2h-1.2zM110.5 338.5h1.2v1.2h-1.2zM104.2 352.5h1.2v1.2h-1.2zM100.2 343.9h1.2v1.2h-1.2zM105.7 343.3h1.2v1.2h-1.2zM104.0 346.6h1.2v1.2h-1.2zM111.4 342.6h1.2v1.2h-1.2zM107.0 337.1h1.2v1.2h-1.2zM109.1 350.8h1.2v1.2h-1.2zM113.3 348.4h1.2v1.2h-1.2zM101.9 340.4h1.2v1.2h-1.2zM108.8 335.1h1.2v1.2h-1.2zM99.4 348.6h1.2v1.2h-1.2zM99.5 336.3h1.2v1.2h-1.2zM111.4 343.7h1.2v1.2h-1.2zM103.5 342.1h1.2v1.2h-1.2zM109.3 342.8h1.2v1.2h-1.2zM101.3 349.9h1.2v1.2h-1.2zM103.7 348.1h1.2v1.2h-1.2zM109.5 357.4h1.2v1.2h-1.2zM100.4 354.1h1.2v1.2h-1.2zM99.5 357.1h1.2v1.2h-1.2zM99.9 347.5h1.2v1.2h-1.2zM100.8 350.2h1.2v1.2h-1.2zM114.0 338.7h1.2v1.2h-1.2zM111.6 359.9h1.2v1.2h-1.2zM97.9 348.1h1.2v1.2h-1.2zM109.6 338.5h1.2v1.2h-1.2zM112.1 358.5h1.2v1.2h-1.2zM113.6 354.3h1.2v1.2h-1.2zM99.6 351.1h1.2v1.2h-1.2zM101.4 353.2h1.2v1.2h-1.2zM98.4 338.7h1.2v1.2h-1.2zM122.6 352.0h1.2v1.2h-1.2zM102.3 351.1h1.2v1.2h-1.2zM111.4 355.3h1.2v1.2h-1.2zM110.9 333.3h1.2v1.2h-1.2zM112.2 334.3h1.2v1.2h-1.2zM103.2 343.3h1.2v1.2h-1.2zM104.1 330.9h1.2v1.2h-1.2zM110.1 356.1h1.2v1.2h-1.2zM112.4 344.7h1.2v1.2h-1.2zM111.0 347.0h1.2v1.2h-1.2zM108.5 344.9h1.2v1.2h-1.2zM114.6 347.2h1.2v1.2h-1.2zM115.1 356.4h1.2v1.2h-1.2zM104.9 348.8h1.2v1.2h-1.2zM113.8 350.0h1.2v1.2h-1.2zM103.6 350.8h1.2v1.2h-1.2zM106.9 337.4h1.2v1.2h-1.2zM107.2 344.9h1.2v1.2h-1.2zM108.1 342.5h1.2v1.2h-1.2zM104.3 340.7h1.2v1.2h-1.2zM117.5 345.5h1.2v1.2h-1.2zM110.3 337.5h1.2v1.2h-1.2zM106.6 346.8h1.2v1.2h-1.2zM112.0 337.8h1.2v1.2h-1.2zM112.0 352.1h1.2v1.2h-1.2zM97.9 345.7h1.2v1.2h-1.2zM96.1 341.6h1.2v1.2h-1.2zM110.0 339.5h1.2v1.2h-1.2zM99.5 352.7h1.2v1.2h-1.2zM99.1 338.1h1.2v1.2h-1.2zM100.1 338.2h1.2v1.2h-1.2zM102.1 343.8h1.2v1.2h-1.2zM111.2 340.5h1.2v1.2h-1.2zM107.6 335.4h1.2v1.2h-1.2zM113.2 349.5h1.2v1.2h-1.2zM104.2 346.5h1.2v1.2h-1.2zM104.1 341.0h1.2v1.2h-1.2zM111.5 349.2h1.2v1.2h-1.2zM93.0 352.5h1.2v1.2h-1.2zM108.3 350.7h1.2v1.2h-1.2zM108.0 361.4h1.2v1.2h-1.2zM105.1 340.3h1.2v1.2h-1.2zM102.5 338.0h1.2v1.2h-1.2zM107.4 344.0h1.2v1.2h-1.2zM111.5 346.9h1.2v1.2h-1.2zM114.0 354.7h1.2v1.2h-1.2zM110.5 341.6h1.2v1.2h-1.2zM120.1 349.3h1.2v1.2h-1.2zM120.3 357.8h1.2v1.2h-1.2zM108.2 355.7h1.2v1.2h-1.2zM115.4 348.1h1.2v1.2h-1.2zM115.0 354.6h1.2v1.2h-1.2zM112.9 356.4h1.2v1.2h-1.2zM110.0 349.8h1.2v1.2h-1.2zM116.7 354.0h1.2v1.2h-1.2zM115.5 355.3h1.2v1.2h-1.2zM112.1 350.4h1.2v1.2h-1.2zM111.4 352.0h1.2v1.2h-1.2zM123.7 351.1h1.2v1.2h-1.2zM108.5 350.9h1.2v1.2h-1.2zM114.2 356.8h1.2v1.2h-1.2zM110.8 349.4h1.2v1.2h-1.2zM111.1 349.1h1.2v1.2h-1.2zM119.2 350.7h1.2v1.2h-1.2zM116.7 349.9h1.2v1.2h-1.2zM108.1 349.5h1.2v1.2h-1.2zM116.3 344.9h1.2v1.2h-1.2zM110.7 345.5h1.2v1.2h-1.2zM118.0 350.9h1.2v1.2h-1.2zM114.9 358.5h1.2v1.2h-1.2zM113.5 346.6h1.2v1.2h-1.2zM115.1 350.3h1.2v1.2h-1.2zM118.5 357.0h1.2v1.2h-1.2zM109.3 346.9h1.2v1.2h-1.2zM115.1 346.9h1.2v1.2h-1.2zM116.4 353.9h1.2v1.2h-1.2zM116.4 345.9h1.2v1.2h-1.2zM109.5 348.7h1.2v1.2h-1.2zM113.5 353.0h1.2v1.2h-1.2zM121.7 350.9h1.2v1.2h-1.2zM116.9 341.9h1.2v1.2h-1.2zM112.3 358.4h1.2v1.2h-1.2zM112.8 353.2h1.2v1.2h-1.2zM109.7 354.4h1.2v1.2h-1.2zM117.3 346.4h1.2v1.2h-1.2zM122.5 351.9h1.2v1.2h-1.2zM120.0 346.7h1.2v1.2h-1.2zM122.1 347.2h1.2v1.2h-1.2zM120.7 338.3h1.2v1.2h-1.2zM115.3 340.0h1.2v1.2h-1.2zM121.2 357.6h1.2v1.2h-1.2zM111.0 341.0h1.2v1.2h-1.2zM119.1 360.0h1.2v1.2h-1.2zM113.9 358.4h1.2v1.2h-1.2zM109.9 343.3h1.2v1.2h-1.2zM120.9 355.9h1.2v1.2h-1.2zM110.1 350.1h1.2v1.2h-1.2zM119.9 354.2h1.2v1.2h-1.2zM116.5 350.0h1.2v1.2h-1.2zM108.3 341.5h1.2v1.2h-1.2zM115.4 349.8h1.2v1.2h-1.2zM119.6 358.7h1.2v1.2h-1.2zM118.2 351.0h1.2v1.2h-1.2zM112.7 340.0h1.2v1.2h-1.2zM117.8 357.3h1.2v1.2h-1.2zM114.9 350.8h1.2v1.2h-1.2zM118.8 351.2h1.2v1.2h-1.2zM121.6 352.2h1.2v1.2h-1.2zM111.2 350.0h1.2v1.2h-1.2zM121.9 350.3h1.2v1.2h-1.2zM123.1 348.8h1.2v1.2h-1.2zM125.1 340.8h1.2v1.2h-1.2zM112.8 354.2h1.2v1.2h-1.2zM111.5 360.4h1.2v1.2h-1.2zM118.4 331.3h1.2v1.2h-1.2zM105.5 351.3h1.2v1.2h-1.2zM122.4 361.5h1.2v1.2h-1.2z"/>
<g><ellipse cx="104.2" cy="343.6" rx="7.00" ry="7.40" fill="#3a34a6"/><ellipse cx="104.6" cy="351.9" rx="9.40" ry="5.40" fill="#3a34a6"/><ellipse cx="104.2" cy="343.6" rx="6.00" ry="6.40" fill="#4f7fd2"/><ellipse cx="104.6" cy="351.9" rx="8.40" ry="4.70" fill="#4f7fd2"/><ellipse cx="104.2" cy="343.6" rx="5.00" ry="5.40" fill="#5ec3c8"/><ellipse cx="104.6" cy="351.9" rx="7.60" ry="4.10" fill="#5ec3c8"/><ellipse cx="104.2" cy="343.6" rx="4.00" ry="4.40" fill="#62c24a"/><ellipse cx="104.6" cy="351.9" rx="6.80" ry="3.60" fill="#62c24a"/><ellipse cx="104.6" cy="351.9" rx="5.90" ry="2.90" fill="#ece23a"/><ellipse cx="104.6" cy="351.9" rx="5.10" ry="2.30" fill="#f5a02e"/><ellipse cx="104.6" cy="351.9" rx="4.30" ry="1.70" fill="#ec2c1c"/></g>
<path fill="#4f7fd2" d="M98.6 344.7h1.2v1.2h-1.2zM99.5 347.8h1.2v1.2h-1.2zM98.7 343.9h1.2v1.2h-1.2zM107.8 346.4h1.2v1.2h-1.2zM105.2 338.6h1.2v1.2h-1.2zM104.8 338.7h1.2v1.2h-1.2zM100.3 338.5h1.2v1.2h-1.2zM109.5 346.3h1.2v1.2h-1.2zM107.4 341.1h1.2v1.2h-1.2zM109.1 355.8h1.2v1.2h-1.2zM98.4 355.0h1.2v1.2h-1.2zM96.6 350.7h1.2v1.2h-1.2zM113.0 349.8h1.2v1.2h-1.2zM110.4 349.0h1.2v1.2h-1.2zM100.9 346.4h1.2v1.2h-1.2zM109.7 348.2h1.2v1.2h-1.2zM97.2 348.4h1.2v1.2h-1.2zM108.8 355.1h1.2v1.2h-1.2zM97.2 349.6h1.2v1.2h-1.2zM108.3 346.8h1.2v1.2h-1.2zM94.8 350.4h1.2v1.2h-1.2zM100.9 356.2h1.2v1.2h-1.2zM98.8 353.8h1.2v1.2h-1.2z"/>
<path fill="#62c24a" d="M104.0 339.1h1.2v1.2h-1.2zM107.6 342.5h1.2v1.2h-1.2zM104.6 346.4h1.2v1.2h-1.2zM105.9 343.2h1.2v1.2h-1.2zM104.6 338.8h1.2v1.2h-1.2zM105.3 341.1h1.2v1.2h-1.2zM105.4 339.9h1.2v1.2h-1.2zM103.6 343.6h1.2v1.2h-1.2zM102.2 346.6h1.2v1.2h-1.2zM103.8 343.1h1.2v1.2h-1.2zM103.8 346.2h1.2v1.2h-1.2zM101.3 339.2h1.2v1.2h-1.2zM105.8 341.5h1.2v1.2h-1.2zM106.9 346.9h1.2v1.2h-1.2zM103.5 339.3h1.2v1.2h-1.2zM99.4 342.4h1.2v1.2h-1.2zM102.9 339.6h1.2v1.2h-1.2zM103.9 346.4h1.2v1.2h-1.2zM99.6 341.5h1.2v1.2h-1.2zM105.5 339.6h1.2v1.2h-1.2zM104.8 346.3h1.2v1.2h-1.2zM104.6 348.7h1.2v1.2h-1.2zM100.6 348.6h1.2v1.2h-1.2zM105.4 347.8h1.2v1.2h-1.2zM97.7 349.9h1.2v1.2h-1.2zM108.1 349.4h1.2v1.2h-1.2zM98.3 350.4h1.2v1.2h-1.2z"/>
<path fill="#3a2c9e" d="M96.6 341.9h1.2v1.2h-1.2zM105.6 335.9h1.2v1.2h-1.2zM104.7 350.5h1.2v1.2h-1.2zM99.9 336.5h1.2v1.2h-1.2zM111.3 347.8h1.2v1.2h-1.2zM108.0 346.4h1.2v1.2h-1.2zM105.3 345.9h1.2v1.2h-1.2zM103.0 356.7h1.2v1.2h-1.2zM110.8 355.1h1.2v1.2h-1.2zM97.5 355.4h1.2v1.2h-1.2zM106.9 346.1h1.2v1.2h-1.2z"/>
<path fill="#3a34a6" d="M106.5 349.4h1.2v1.2h-1.2zM106.1 349.6h1.2v1.2h-1.2zM102.1 336.4h1.2v1.2h-1.2zM98.2 339.7h1.2v1.2h-1.2zM101.7 349.8h1.2v1.2h-1.2zM102.0 349.3h1.2v1.2h-1.2zM101.3 348.7h1.2v1.2h-1.2zM97.2 342.3h1.2v1.2h-1.2zM110.0 340.6h1.2v1.2h-1.2zM110.3 342.0h1.2v1.2h-1.2zM109.7 344.1h1.2v1.2h-1.2zM103.8 337.2h1.2v1.2h-1.2zM98.4 340.9h1.2v1.2h-1.2zM107.0 348.3h1.2v1.2h-1.2zM97.7 346.9h1.2v1.2h-1.2zM106.5 338.4h1.2v1.2h-1.2zM107.9 338.2h1.2v1.2h-1.2zM104.2 336.3h1.2v1.2h-1.2zM98.4 344.5h1.2v1.2h-1.2zM106.0 349.6h1.2v1.2h-1.2zM101.0 349.8h1.2v1.2h-1.2zM107.4 337.9h1.2v1.2h-1.2zM95.3 349.5h1.2v1.2h-1.2zM100.1 346.6h1.2v1.2h-1.2zM100.7 347.4h1.2v1.2h-1.2zM110.7 347.9h1.2v1.2h-1.2zM108.5 347.3h1.2v1.2h-1.2zM96.6 350.2h1.2v1.2h-1.2zM109.7 347.2h1.2v1.2h-1.2zM110.7 349.0h1.2v1.2h-1.2zM96.5 353.8h1.2v1.2h-1.2zM111.7 351.2h1.2v1.2h-1.2zM102.2 346.5h1.2v1.2h-1.2zM107.7 346.5h1.2v1.2h-1.2zM99.1 355.1h1.2v1.2h-1.2zM95.9 349.0h1.2v1.2h-1.2zM106.3 346.2h1.2v1.2h-1.2zM96.8 354.5h1.2v1.2h-1.2zM112.6 350.7h1.2v1.2h-1.2zM96.1 351.7h1.2v1.2h-1.2zM98.8 354.6h1.2v1.2h-1.2z"/>
<path fill="#5ec3c8" d="M107.2 340.8h1.2v1.2h-1.2zM104.0 344.0h1.2v1.2h-1.2zM108.7 341.8h1.2v1.2h-1.2zM105.6 337.2h1.2v1.2h-1.2zM100.0 338.2h1.2v1.2h-1.2zM100.7 338.9h1.2v1.2h-1.2zM99.0 343.3h1.2v1.2h-1.2zM103.1 338.7h1.2v1.2h-1.2zM100.6 344.0h1.2v1.2h-1.2zM104.7 343.1h1.2v1.2h-1.2zM100.9 341.7h1.2v1.2h-1.2zM108.4 339.9h1.2v1.2h-1.2zM105.0 343.0h1.2v1.2h-1.2zM100.3 340.9h1.2v1.2h-1.2zM105.9 344.6h1.2v1.2h-1.2zM106.2 344.9h1.2v1.2h-1.2zM102.6 338.0h1.2v1.2h-1.2zM107.3 338.9h1.2v1.2h-1.2zM106.6 339.3h1.2v1.2h-1.2zM99.4 354.5h1.2v1.2h-1.2zM103.2 347.3h1.2v1.2h-1.2zM101.5 355.4h1.2v1.2h-1.2zM99.0 353.6h1.2v1.2h-1.2zM109.6 352.4h1.2v1.2h-1.2zM98.0 352.2h1.2v1.2h-1.2zM100.3 355.0h1.2v1.2h-1.2zM99.4 353.8h1.2v1.2h-1.2zM109.6 350.3h1.2v1.2h-1.2zM98.0 352.4h1.2v1.2h-1.2zM107.1 355.2h1.2v1.2h-1.2zM111.7 350.2h1.2v1.2h-1.2zM105.1 348.1h1.2v1.2h-1.2zM98.1 348.2h1.2v1.2h-1.2z"/>
<path fill="#ec2c1c" d="M99.5 352.4h1.2v1.2h-1.2zM101.7 352.4h1.2v1.2h-1.2zM100.0 352.2h1.2v1.2h-1.2zM103.6 349.8h1.2v1.2h-1.2zM104.9 351.1h1.2v1.2h-1.2zM104.5 352.4h1.2v1.2h-1.2z"/>
<path fill="#f5a02e" d="M102.6 349.4h1.2v1.2h-1.2zM106.2 353.6h1.2v1.2h-1.2zM107.1 353.0h1.2v1.2h-1.2zM99.0 350.7h1.2v1.2h-1.2z"/>
<path fill="#ece23a" d="M98.4 352.0h1.2v1.2h-1.2zM108.2 349.3h1.2v1.2h-1.2zM106.4 353.9h1.2v1.2h-1.2zM108.3 351.0h1.2v1.2h-1.2zM108.1 352.0h1.2v1.2h-1.2z"/>
<text x="103.7" y="327.8" font-size="5.6" text-anchor="start" fill="#333" textLength="10.2" lengthAdjust="spacingAndGlyphs">22.7</text>
<text x="91.4" y="343.8" font-size="5.6" text-anchor="start" fill="#333" textLength="9.4" lengthAdjust="spacingAndGlyphs">19.8</text>
<text x="122.4" y="352.9" font-size="5.6" text-anchor="start" fill="#333" textLength="9.7" lengthAdjust="spacingAndGlyphs">49.2</text>
<rect x="23.8" y="389.3" width="63.5" height="63.6" fill="#fff" stroke="#8a8a8a" stroke-width="0.8"/>
<text x="21.8" y="395.6" font-size="3.9" text-anchor="end" fill="#555">10<tspan font-size="2.6" dy="-1.3">5</tspan></text>
<text x="21.8" y="407.2" font-size="3.9" text-anchor="end" fill="#555">10<tspan font-size="2.6" dy="-1.3">4</tspan></text>
<text x="21.8" y="418.7" font-size="3.9" text-anchor="end" fill="#555">10<tspan font-size="2.6" dy="-1.3">3</tspan></text>
<text x="21.8" y="432.6" font-size="3.9" text-anchor="end" fill="#555">10<tspan font-size="2.6" dy="-1.3">2</tspan></text>
<text x="21.8" y="442.6" font-size="3.9" text-anchor="end" fill="#555">0</text>
<text x="21.8" y="451.8" font-size="3.9" text-anchor="end" fill="#555">-10<tspan font-size="2.6" dy="-1.3">2</tspan></text>
<text x="36.9" y="459.5" font-size="3.9" text-anchor="middle" fill="#555">0</text>
<text x="57.7" y="459.5" font-size="3.9" text-anchor="middle" fill="#555">10<tspan font-size="2.6" dy="-1.3">3</tspan></text>
<text x="70.0" y="459.5" font-size="3.9" text-anchor="middle" fill="#555">10<tspan font-size="2.6" dy="-1.3">4</tspan></text>
<text x="83.0" y="459.5" font-size="3.9" text-anchor="middle" fill="#555">10<tspan font-size="2.6" dy="-1.3">5</tspan></text>
<path d="M22.2 394.2h1.6M22.2 405.8h1.6M22.2 417.3h1.6M22.2 431.2h1.6M22.2 441.2h1.6M22.2 450.4h1.6M36.9 452.9v1.6M57.7 452.9v1.6M70.0 452.9v1.6M83.0 452.9v1.6" stroke="#777" stroke-width="0.7"/>
<rect x="22.6" y="440.0" width="1.6" height="2.4" fill="#111"/>
<rect x="34.1" y="453.1" width="2.8" height="1.4" fill="#111"/>
<rect x="89.9" y="389.3" width="64.0" height="63.3" fill="#fff" stroke="#8a8a8a" stroke-width="0.8"/>
<text x="87.9" y="395.6" font-size="3.9" text-anchor="end" fill="#555"></text>
<text x="87.9" y="407.2" font-size="3.9" text-anchor="end" fill="#555"></text>
<text x="87.9" y="418.7" font-size="3.9" text-anchor="end" fill="#555"></text>
<text x="87.9" y="432.6" font-size="3.9" text-anchor="end" fill="#555"></text>
<text x="87.9" y="442.6" font-size="3.9" text-anchor="end" fill="#555"></text>
<text x="87.9" y="451.8" font-size="3.9" text-anchor="end" fill="#555"></text>
<text x="102.9" y="459.2" font-size="3.9" text-anchor="middle" fill="#555">0</text>
<text x="123.7" y="459.2" font-size="3.9" text-anchor="middle" fill="#555">10<tspan font-size="2.6" dy="-1.3">3</tspan></text>
<text x="136.6" y="459.2" font-size="3.9" text-anchor="middle" fill="#555">10<tspan font-size="2.6" dy="-1.3">4</tspan></text>
<text x="148.7" y="459.2" font-size="3.9" text-anchor="middle" fill="#555">10<tspan font-size="2.6" dy="-1.3">5</tspan></text>
<path d="M88.3 394.2h1.6M88.3 405.8h1.6M88.3 417.3h1.6M88.3 431.2h1.6M88.3 441.2h1.6M88.3 450.4h1.6M102.9 452.6v1.6M123.7 452.6v1.6M136.6 452.6v1.6M148.7 452.6v1.6" stroke="#777" stroke-width="0.7"/>
<rect x="88.7" y="440.0" width="1.6" height="2.4" fill="#111"/>
<rect x="100.1" y="452.8" width="2.8" height="1.4" fill="#111"/>
<rect x="30.3" y="409.2" width="14.0" height="21.3" fill="none" stroke="#777" stroke-width="0.7"/>
<rect x="46.2" y="408.5" width="22.4" height="21.7" fill="none" stroke="#777" stroke-width="0.7"/>
<path fill="#4a44bc" d="M43.5 447.5h1.2v1.2h-1.2zM40.2 434.4h1.2v1.2h-1.2zM36.4 430.1h1.2v1.2h-1.2zM31.6 436.6h1.2v1.2h-1.2zM34.5 422.5h1.2v1.2h-1.2zM43.5 419.3h1.2v1.2h-1.2zM37.8 414.8h1.2v1.2h-1.2zM39.5 422.5h1.2v1.2h-1.2zM39.9 445.3h1.2v1.2h-1.2zM44.9 425.4h1.2v1.2h-1.2zM32.1 417.6h1.2v1.2h-1.2zM40.4 426.8h1.2v1.2h-1.2zM41.0 436.4h1.2v1.2h-1.2zM36.3 416.0h1.2v1.2h-1.2zM44.3 451.2h1.2v1.2h-1.2zM41.9 432.1h1.2v1.2h-1.2zM33.3 447.5h1.2v1.2h-1.2zM39.3 412.5h1.2v1.2h-1.2zM39.4 415.7h1.2v1.2h-1.2zM36.2 414.5h1.2v1.2h-1.2zM39.4 421.1h1.2v1.2h-1.2zM35.8 423.9h1.2v1.2h-1.2zM36.3 429.4h1.2v1.2h-1.2zM33.9 448.8h1.2v1.2h-1.2zM33.4 450.3h1.2v1.2h-1.2zM40.9 441.0h1.2v1.2h-1.2zM44.1 442.2h1.2v1.2h-1.2zM43.5 430.6h1.2v1.2h-1.2zM35.3 439.0h1.2v1.2h-1.2zM41.6 412.1h1.2v1.2h-1.2zM37.1 430.7h1.2v1.2h-1.2zM38.8 428.7h1.2v1.2h-1.2zM31.3 434.0h1.2v1.2h-1.2zM38.3 412.0h1.2v1.2h-1.2zM41.3 417.1h1.2v1.2h-1.2zM30.5 448.2h1.2v1.2h-1.2zM42.1 415.2h1.2v1.2h-1.2zM43.7 424.3h1.2v1.2h-1.2zM43.1 414.6h1.2v1.2h-1.2zM33.6 416.9h1.2v1.2h-1.2zM44.7 427.3h1.2v1.2h-1.2zM34.0 428.6h1.2v1.2h-1.2zM34.9 441.0h1.2v1.2h-1.2zM35.2 447.1h1.2v1.2h-1.2zM30.4 441.6h1.2v1.2h-1.2zM38.2 417.3h1.2v1.2h-1.2zM41.8 421.7h1.2v1.2h-1.2zM31.1 449.4h1.2v1.2h-1.2zM44.6 442.5h1.2v1.2h-1.2zM35.8 414.4h1.2v1.2h-1.2zM41.8 450.5h1.2v1.2h-1.2zM36.1 419.3h1.2v1.2h-1.2zM40.8 417.7h1.2v1.2h-1.2zM44.2 416.5h1.2v1.2h-1.2zM35.9 432.1h1.2v1.2h-1.2zM44.5 442.4h1.2v1.2h-1.2zM37.0 419.6h1.2v1.2h-1.2zM39.3 447.0h1.2v1.2h-1.2zM42.8 435.8h1.2v1.2h-1.2zM36.6 445.3h1.2v1.2h-1.2zM40.9 439.7h1.2v1.2h-1.2zM34.1 424.5h1.2v1.2h-1.2zM42.6 426.7h1.2v1.2h-1.2zM43.3 436.7h1.2v1.2h-1.2zM43.4 435.6h1.2v1.2h-1.2zM30.0 428.2h1.2v1.2h-1.2zM40.5 421.5h1.2v1.2h-1.2zM40.7 449.2h1.2v1.2h-1.2zM35.4 439.4h1.2v1.2h-1.2zM42.1 432.8h1.2v1.2h-1.2zM37.5 445.1h1.2v1.2h-1.2zM41.9 418.9h1.2v1.2h-1.2zM37.1 445.9h1.2v1.2h-1.2zM43.3 436.0h1.2v1.2h-1.2zM40.0 416.5h1.2v1.2h-1.2zM36.0 448.1h1.2v1.2h-1.2zM44.1 432.8h1.2v1.2h-1.2zM33.1 412.4h1.2v1.2h-1.2zM40.1 428.2h1.2v1.2h-1.2zM40.5 425.8h1.2v1.2h-1.2zM38.0 440.4h1.2v1.2h-1.2zM39.1 438.1h1.2v1.2h-1.2zM36.9 422.4h1.2v1.2h-1.2zM37.1 429.5h1.2v1.2h-1.2zM41.0 422.2h1.2v1.2h-1.2zM33.4 422.6h1.2v1.2h-1.2zM39.2 432.2h1.2v1.2h-1.2zM47.3 432.7h1.2v1.2h-1.2zM40.7 420.9h1.2v1.2h-1.2zM42.1 433.3h1.2v1.2h-1.2zM34.0 418.9h1.2v1.2h-1.2zM40.0 436.4h1.2v1.2h-1.2zM37.0 432.5h1.2v1.2h-1.2zM47.0 421.6h1.2v1.2h-1.2zM38.4 431.3h1.2v1.2h-1.2zM35.6 435.0h1.2v1.2h-1.2zM41.9 428.2h1.2v1.2h-1.2zM36.6 421.5h1.2v1.2h-1.2zM38.1 425.0h1.2v1.2h-1.2zM36.6 433.4h1.2v1.2h-1.2zM33.9 425.1h1.2v1.2h-1.2zM41.7 434.9h1.2v1.2h-1.2zM33.6 422.7h1.2v1.2h-1.2zM30.1 430.4h1.2v1.2h-1.2zM38.3 430.0h1.2v1.2h-1.2zM33.4 436.2h1.2v1.2h-1.2zM35.2 430.2h1.2v1.2h-1.2zM37.8 429.9h1.2v1.2h-1.2zM40.1 436.3h1.2v1.2h-1.2zM43.3 425.0h1.2v1.2h-1.2zM37.4 438.6h1.2v1.2h-1.2zM40.2 428.8h1.2v1.2h-1.2zM41.7 431.7h1.2v1.2h-1.2zM47.9 433.0h1.2v1.2h-1.2zM34.3 437.6h1.2v1.2h-1.2zM37.1 420.7h1.2v1.2h-1.2zM36.5 424.0h1.2v1.2h-1.2zM37.7 434.5h1.2v1.2h-1.2zM38.9 433.2h1.2v1.2h-1.2zM35.9 435.0h1.2v1.2h-1.2zM38.1 436.5h1.2v1.2h-1.2zM43.0 428.3h1.2v1.2h-1.2zM40.2 426.6h1.2v1.2h-1.2zM36.7 429.8h1.2v1.2h-1.2zM36.1 428.3h1.2v1.2h-1.2zM42.3 427.9h1.2v1.2h-1.2zM34.2 427.0h1.2v1.2h-1.2zM33.5 428.0h1.2v1.2h-1.2zM43.2 434.5h1.2v1.2h-1.2zM34.6 430.9h1.2v1.2h-1.2zM37.6 435.5h1.2v1.2h-1.2zM39.5 433.5h1.2v1.2h-1.2zM34.6 432.1h1.2v1.2h-1.2zM39.4 431.5h1.2v1.2h-1.2zM39.4 431.7h1.2v1.2h-1.2zM36.8 431.7h1.2v1.2h-1.2zM32.2 430.0h1.2v1.2h-1.2zM31.4 428.8h1.2v1.2h-1.2zM50.0 432.5h1.2v1.2h-1.2zM46.4 427.9h1.2v1.2h-1.2zM57.5 445.2h1.2v1.2h-1.2zM47.6 431.7h1.2v1.2h-1.2zM54.5 440.8h1.2v1.2h-1.2zM45.9 445.8h1.2v1.2h-1.2zM53.4 423.6h1.2v1.2h-1.2zM48.0 443.5h1.2v1.2h-1.2zM44.9 444.1h1.2v1.2h-1.2zM50.6 436.2h1.2v1.2h-1.2zM52.1 448.4h1.2v1.2h-1.2zM44.1 441.5h1.2v1.2h-1.2zM45.5 424.0h1.2v1.2h-1.2zM52.9 444.9h1.2v1.2h-1.2zM48.5 448.6h1.2v1.2h-1.2zM53.4 448.1h1.2v1.2h-1.2zM55.8 438.2h1.2v1.2h-1.2zM56.7 425.3h1.2v1.2h-1.2zM46.1 426.0h1.2v1.2h-1.2zM47.7 449.4h1.2v1.2h-1.2zM54.4 427.8h1.2v1.2h-1.2zM49.4 431.5h1.2v1.2h-1.2zM57.2 449.4h1.2v1.2h-1.2zM50.8 450.9h1.2v1.2h-1.2zM53.8 448.2h1.2v1.2h-1.2zM53.2 444.6h1.2v1.2h-1.2zM53.8 445.8h1.2v1.2h-1.2zM54.7 431.5h1.2v1.2h-1.2zM47.9 442.7h1.2v1.2h-1.2zM55.0 441.8h1.2v1.2h-1.2zM48.3 445.8h1.2v1.2h-1.2zM55.9 445.4h1.2v1.2h-1.2zM53.2 442.4h1.2v1.2h-1.2zM50.3 410.2h1.2v1.2h-1.2zM48.3 423.0h1.2v1.2h-1.2zM45.1 418.5h1.2v1.2h-1.2zM50.3 419.1h1.2v1.2h-1.2zM44.1 413.5h1.2v1.2h-1.2zM50.6 424.5h1.2v1.2h-1.2zM40.3 424.2h1.2v1.2h-1.2zM40.4 419.3h1.2v1.2h-1.2zM51.1 425.5h1.2v1.2h-1.2zM46.0 416.0h1.2v1.2h-1.2zM53.7 422.7h1.2v1.2h-1.2zM49.8 419.8h1.2v1.2h-1.2zM48.2 426.7h1.2v1.2h-1.2zM46.5 428.1h1.2v1.2h-1.2zM50.5 420.9h1.2v1.2h-1.2zM49.0 417.3h1.2v1.2h-1.2zM43.7 423.2h1.2v1.2h-1.2zM46.0 417.5h1.2v1.2h-1.2zM45.6 424.9h1.2v1.2h-1.2zM44.8 416.8h1.2v1.2h-1.2zM55.2 421.6h1.2v1.2h-1.2zM47.3 421.8h1.2v1.2h-1.2zM45.2 415.7h1.2v1.2h-1.2zM49.7 413.3h1.2v1.2h-1.2zM48.7 416.4h1.2v1.2h-1.2zM53.6 419.0h1.2v1.2h-1.2zM48.5 420.7h1.2v1.2h-1.2zM45.9 421.1h1.2v1.2h-1.2zM53.7 419.1h1.2v1.2h-1.2zM48.7 423.2h1.2v1.2h-1.2zM50.7 437.2h1.2v1.2h-1.2zM58.0 434.7h1.2v1.2h-1.2zM57.8 447.0h1.2v1.2h-1.2zM61.3 446.0h1.2v1.2h-1.2zM65.9 437.9h1.2v1.2h-1.2zM60.4 442.5h1.2v1.2h-1.2zM62.1 435.3h1.2v1.2h-1.2zM63.1 438.1h1.2v1.2h-1.2zM62.8 439.6h1.2v1.2h-1.2zM60.7 440.6h1.2v1.2h-1.2zM50.2 445.8h1.2v1.2h-1.2zM63.6 442.5h1.2v1.2h-1.2zM60.6 444.7h1.2v1.2h-1.2zM62.4 443.3h1.2v1.2h-1.2zM54.4 442.7h1.2v1.2h-1.2zM59.9 440.9h1.2v1.2h-1.2zM56.7 445.8h1.2v1.2h-1.2zM48.1 439.8h1.2v1.2h-1.2zM58.6 433.9h1.2v1.2h-1.2zM62.9 438.4h1.2v1.2h-1.2zM60.7 444.8h1.2v1.2h-1.2zM59.1 438.6h1.2v1.2h-1.2zM61.7 440.1h1.2v1.2h-1.2zM61.8 445.2h1.2v1.2h-1.2zM62.8 438.8h1.2v1.2h-1.2zM56.0 447.7h1.2v1.2h-1.2zM65.4 438.8h1.2v1.2h-1.2zM65.9 443.5h1.2v1.2h-1.2zM65.6 441.3h1.2v1.2h-1.2zM61.3 446.5h1.2v1.2h-1.2zM54.4 439.8h1.2v1.2h-1.2zM53.1 441.3h1.2v1.2h-1.2zM58.3 441.9h1.2v1.2h-1.2zM61.4 443.0h1.2v1.2h-1.2zM59.3 435.2h1.2v1.2h-1.2zM53.8 434.8h1.2v1.2h-1.2zM55.7 442.2h1.2v1.2h-1.2zM57.6 441.8h1.2v1.2h-1.2zM54.6 439.6h1.2v1.2h-1.2zM62.4 440.3h1.2v1.2h-1.2zM56.6 441.7h1.2v1.2h-1.2zM54.1 433.3h1.2v1.2h-1.2zM65.9 445.9h1.2v1.2h-1.2zM52.0 444.6h1.2v1.2h-1.2zM54.4 445.4h1.2v1.2h-1.2zM50.8 431.4h1.2v1.2h-1.2zM55.5 449.4h1.2v1.2h-1.2zM50.2 430.3h1.2v1.2h-1.2zM45.9 433.0h1.2v1.2h-1.2zM66.0 446.6h1.2v1.2h-1.2zM63.1 448.0h1.2v1.2h-1.2zM58.3 421.6h1.2v1.2h-1.2zM51.4 441.2h1.2v1.2h-1.2zM41.3 423.4h1.2v1.2h-1.2z"/>
<path fill="#2c2094" d="M31.0 443.3h1.2v1.2h-1.2zM40.1 426.9h1.2v1.2h-1.2zM38.9 439.0h1.2v1.2h-1.2zM44.8 449.6h1.2v1.2h-1.2zM30.3 435.1h1.2v1.2h-1.2zM38.9 420.3h1.2v1.2h-1.2zM38.7 416.2h1.2v1.2h-1.2zM40.4 448.3h1.2v1.2h-1.2zM30.6 444.3h1.2v1.2h-1.2zM39.1 435.5h1.2v1.2h-1.2zM33.5 427.3h1.2v1.2h-1.2zM35.9 438.8h1.2v1.2h-1.2zM44.6 440.4h1.2v1.2h-1.2zM40.1 421.5h1.2v1.2h-1.2zM42.6 425.0h1.2v1.2h-1.2zM40.2 440.4h1.2v1.2h-1.2zM34.7 424.7h1.2v1.2h-1.2zM43.0 424.9h1.2v1.2h-1.2zM43.9 442.7h1.2v1.2h-1.2zM30.2 447.2h1.2v1.2h-1.2zM32.0 420.0h1.2v1.2h-1.2zM30.2 425.8h1.2v1.2h-1.2zM44.2 428.6h1.2v1.2h-1.2zM32.5 424.0h1.2v1.2h-1.2zM34.3 432.9h1.2v1.2h-1.2zM30.9 440.8h1.2v1.2h-1.2zM32.2 415.9h1.2v1.2h-1.2zM35.8 428.1h1.2v1.2h-1.2zM40.0 433.3h1.2v1.2h-1.2zM43.5 429.3h1.2v1.2h-1.2zM42.0 419.6h1.2v1.2h-1.2zM38.9 428.7h1.2v1.2h-1.2zM37.3 418.7h1.2v1.2h-1.2zM35.9 437.8h1.2v1.2h-1.2zM36.1 414.4h1.2v1.2h-1.2zM36.2 420.7h1.2v1.2h-1.2zM39.9 435.4h1.2v1.2h-1.2zM31.4 441.6h1.2v1.2h-1.2zM41.2 432.1h1.2v1.2h-1.2zM42.7 446.8h1.2v1.2h-1.2zM43.9 436.5h1.2v1.2h-1.2zM31.8 423.1h1.2v1.2h-1.2zM42.6 450.8h1.2v1.2h-1.2zM43.1 430.8h1.2v1.2h-1.2zM39.3 447.6h1.2v1.2h-1.2zM41.0 435.9h1.2v1.2h-1.2zM38.0 443.6h1.2v1.2h-1.2zM37.2 424.1h1.2v1.2h-1.2zM42.1 422.5h1.2v1.2h-1.2zM37.1 446.1h1.2v1.2h-1.2zM34.0 419.4h1.2v1.2h-1.2zM32.1 449.5h1.2v1.2h-1.2zM32.3 444.6h1.2v1.2h-1.2zM34.0 448.7h1.2v1.2h-1.2zM31.0 416.2h1.2v1.2h-1.2zM33.5 419.1h1.2v1.2h-1.2zM43.7 439.8h1.2v1.2h-1.2zM41.7 441.2h1.2v1.2h-1.2zM41.4 449.7h1.2v1.2h-1.2zM33.9 422.5h1.2v1.2h-1.2zM39.3 431.9h1.2v1.2h-1.2zM41.5 430.1h1.2v1.2h-1.2zM36.1 427.9h1.2v1.2h-1.2zM39.5 433.7h1.2v1.2h-1.2zM47.9 431.5h1.2v1.2h-1.2zM32.2 416.4h1.2v1.2h-1.2zM38.1 428.1h1.2v1.2h-1.2zM40.4 423.1h1.2v1.2h-1.2zM42.4 424.6h1.2v1.2h-1.2zM34.5 439.6h1.2v1.2h-1.2zM41.0 418.0h1.2v1.2h-1.2zM42.5 436.2h1.2v1.2h-1.2zM40.1 432.6h1.2v1.2h-1.2zM43.7 434.5h1.2v1.2h-1.2zM28.6 432.6h1.2v1.2h-1.2zM26.7 430.4h1.2v1.2h-1.2zM43.0 433.5h1.2v1.2h-1.2zM35.9 435.7h1.2v1.2h-1.2zM39.1 434.7h1.2v1.2h-1.2zM34.6 425.6h1.2v1.2h-1.2zM37.4 432.2h1.2v1.2h-1.2zM33.8 439.3h1.2v1.2h-1.2zM37.8 432.3h1.2v1.2h-1.2zM30.4 422.9h1.2v1.2h-1.2zM38.0 435.7h1.2v1.2h-1.2zM36.2 436.9h1.2v1.2h-1.2zM41.0 426.9h1.2v1.2h-1.2zM42.5 437.0h1.2v1.2h-1.2zM29.5 426.1h1.2v1.2h-1.2zM40.6 433.4h1.2v1.2h-1.2zM39.8 436.3h1.2v1.2h-1.2zM33.7 436.2h1.2v1.2h-1.2zM39.4 430.5h1.2v1.2h-1.2zM38.1 432.0h1.2v1.2h-1.2zM38.5 421.4h1.2v1.2h-1.2zM41.9 431.1h1.2v1.2h-1.2zM35.6 429.2h1.2v1.2h-1.2zM34.4 432.1h1.2v1.2h-1.2zM41.4 423.9h1.2v1.2h-1.2zM35.3 427.6h1.2v1.2h-1.2zM39.6 431.4h1.2v1.2h-1.2zM39.5 421.3h1.2v1.2h-1.2zM44.0 440.4h1.2v1.2h-1.2zM40.1 433.8h1.2v1.2h-1.2zM42.9 435.3h1.2v1.2h-1.2zM35.9 426.7h1.2v1.2h-1.2zM38.0 429.1h1.2v1.2h-1.2zM34.8 431.6h1.2v1.2h-1.2zM43.4 432.6h1.2v1.2h-1.2zM26.3 422.1h1.2v1.2h-1.2zM39.0 435.0h1.2v1.2h-1.2zM36.6 429.3h1.2v1.2h-1.2zM48.0 432.2h1.2v1.2h-1.2zM39.5 424.6h1.2v1.2h-1.2zM33.3 428.5h1.2v1.2h-1.2zM38.5 435.4h1.2v1.2h-1.2zM40.1 428.8h1.2v1.2h-1.2zM41.1 427.8h1.2v1.2h-1.2zM40.2 431.4h1.2v1.2h-1.2zM42.1 434.7h1.2v1.2h-1.2zM37.6 431.0h1.2v1.2h-1.2zM31.2 428.6h1.2v1.2h-1.2zM36.3 432.2h1.2v1.2h-1.2zM34.8 430.3h1.2v1.2h-1.2zM31.4 429.3h1.2v1.2h-1.2zM39.1 433.9h1.2v1.2h-1.2zM42.7 431.3h1.2v1.2h-1.2zM51.1 438.7h1.2v1.2h-1.2zM45.9 438.8h1.2v1.2h-1.2zM47.3 435.7h1.2v1.2h-1.2zM57.6 423.4h1.2v1.2h-1.2zM55.3 448.8h1.2v1.2h-1.2zM55.0 449.4h1.2v1.2h-1.2zM52.6 450.1h1.2v1.2h-1.2zM48.7 435.4h1.2v1.2h-1.2zM45.2 446.7h1.2v1.2h-1.2zM56.1 438.3h1.2v1.2h-1.2zM48.0 436.0h1.2v1.2h-1.2zM44.7 432.3h1.2v1.2h-1.2zM55.8 437.4h1.2v1.2h-1.2zM48.8 429.4h1.2v1.2h-1.2zM44.7 438.8h1.2v1.2h-1.2zM57.1 447.4h1.2v1.2h-1.2zM49.9 432.9h1.2v1.2h-1.2zM55.0 443.6h1.2v1.2h-1.2zM57.8 438.8h1.2v1.2h-1.2zM49.6 447.3h1.2v1.2h-1.2zM52.0 451.0h1.2v1.2h-1.2zM52.8 435.2h1.2v1.2h-1.2zM56.6 446.7h1.2v1.2h-1.2zM52.8 436.7h1.2v1.2h-1.2zM55.0 439.1h1.2v1.2h-1.2zM43.7 419.4h1.2v1.2h-1.2zM44.3 426.6h1.2v1.2h-1.2zM51.6 423.8h1.2v1.2h-1.2zM48.7 422.7h1.2v1.2h-1.2zM45.3 424.5h1.2v1.2h-1.2zM46.3 410.6h1.2v1.2h-1.2zM48.0 419.6h1.2v1.2h-1.2zM46.3 430.3h1.2v1.2h-1.2zM51.3 420.1h1.2v1.2h-1.2zM39.2 421.6h1.2v1.2h-1.2zM41.7 422.0h1.2v1.2h-1.2zM44.8 419.2h1.2v1.2h-1.2zM48.5 417.3h1.2v1.2h-1.2zM39.8 415.7h1.2v1.2h-1.2zM51.7 415.5h1.2v1.2h-1.2zM51.0 427.7h1.2v1.2h-1.2zM49.2 422.6h1.2v1.2h-1.2zM50.1 417.7h1.2v1.2h-1.2zM51.3 418.4h1.2v1.2h-1.2zM51.0 413.9h1.2v1.2h-1.2zM46.3 420.2h1.2v1.2h-1.2zM49.7 420.7h1.2v1.2h-1.2zM53.4 413.1h1.2v1.2h-1.2zM45.2 415.5h1.2v1.2h-1.2zM48.7 419.6h1.2v1.2h-1.2zM55.9 437.6h1.2v1.2h-1.2zM53.3 441.4h1.2v1.2h-1.2zM57.6 442.3h1.2v1.2h-1.2zM62.0 437.3h1.2v1.2h-1.2zM59.1 438.6h1.2v1.2h-1.2zM55.9 435.6h1.2v1.2h-1.2zM48.5 440.8h1.2v1.2h-1.2zM59.8 438.6h1.2v1.2h-1.2zM56.6 435.9h1.2v1.2h-1.2zM56.0 442.1h1.2v1.2h-1.2zM56.8 440.1h1.2v1.2h-1.2zM60.0 440.9h1.2v1.2h-1.2zM58.2 439.0h1.2v1.2h-1.2zM53.0 445.0h1.2v1.2h-1.2zM64.8 443.4h1.2v1.2h-1.2zM63.2 442.6h1.2v1.2h-1.2zM63.0 446.6h1.2v1.2h-1.2zM55.2 437.6h1.2v1.2h-1.2zM68.4 439.5h1.2v1.2h-1.2zM64.5 436.7h1.2v1.2h-1.2zM65.5 449.2h1.2v1.2h-1.2zM61.9 449.4h1.2v1.2h-1.2zM57.2 439.4h1.2v1.2h-1.2zM56.1 440.5h1.2v1.2h-1.2zM52.8 449.4h1.2v1.2h-1.2zM61.4 444.1h1.2v1.2h-1.2zM53.5 446.6h1.2v1.2h-1.2zM52.4 439.5h1.2v1.2h-1.2zM63.6 444.2h1.2v1.2h-1.2zM59.3 442.7h1.2v1.2h-1.2zM54.7 446.7h1.2v1.2h-1.2zM58.2 443.0h1.2v1.2h-1.2zM56.7 435.6h1.2v1.2h-1.2zM55.5 443.4h1.2v1.2h-1.2zM50.0 440.1h1.2v1.2h-1.2zM52.9 448.4h1.2v1.2h-1.2zM52.5 444.6h1.2v1.2h-1.2zM55.6 433.4h1.2v1.2h-1.2zM63.1 432.0h1.2v1.2h-1.2zM54.3 449.7h1.2v1.2h-1.2zM52.7 444.8h1.2v1.2h-1.2zM64.6 430.4h1.2v1.2h-1.2zM61.7 433.8h1.2v1.2h-1.2zM63.2 436.9h1.2v1.2h-1.2zM46.4 419.1h1.2v1.2h-1.2z"/>
<path fill="#382ca4" d="M37.1 441.3h1.2v1.2h-1.2zM32.6 422.8h1.2v1.2h-1.2zM44.7 432.9h1.2v1.2h-1.2zM33.2 429.9h1.2v1.2h-1.2zM34.3 444.3h1.2v1.2h-1.2zM42.8 444.4h1.2v1.2h-1.2zM34.9 423.7h1.2v1.2h-1.2zM39.4 448.7h1.2v1.2h-1.2zM40.1 415.9h1.2v1.2h-1.2zM36.8 427.9h1.2v1.2h-1.2zM39.4 424.7h1.2v1.2h-1.2zM36.4 443.6h1.2v1.2h-1.2zM43.0 412.1h1.2v1.2h-1.2zM43.5 420.4h1.2v1.2h-1.2zM40.5 423.8h1.2v1.2h-1.2zM34.8 412.4h1.2v1.2h-1.2zM37.1 425.8h1.2v1.2h-1.2zM37.8 421.3h1.2v1.2h-1.2zM30.9 437.4h1.2v1.2h-1.2zM36.2 415.1h1.2v1.2h-1.2zM33.3 418.9h1.2v1.2h-1.2zM37.4 424.2h1.2v1.2h-1.2zM31.0 441.5h1.2v1.2h-1.2zM33.6 433.4h1.2v1.2h-1.2zM31.8 429.5h1.2v1.2h-1.2zM42.0 447.0h1.2v1.2h-1.2zM39.3 438.7h1.2v1.2h-1.2zM39.0 444.4h1.2v1.2h-1.2zM42.6 450.7h1.2v1.2h-1.2zM39.8 424.2h1.2v1.2h-1.2zM43.7 438.6h1.2v1.2h-1.2zM43.5 441.3h1.2v1.2h-1.2zM39.5 439.6h1.2v1.2h-1.2zM38.1 434.5h1.2v1.2h-1.2zM39.2 423.5h1.2v1.2h-1.2zM39.4 425.7h1.2v1.2h-1.2zM37.8 430.7h1.2v1.2h-1.2zM44.8 416.4h1.2v1.2h-1.2zM30.9 413.2h1.2v1.2h-1.2zM30.4 436.8h1.2v1.2h-1.2zM33.7 451.1h1.2v1.2h-1.2zM32.9 423.9h1.2v1.2h-1.2zM41.0 430.3h1.2v1.2h-1.2zM43.6 416.5h1.2v1.2h-1.2zM32.5 416.3h1.2v1.2h-1.2zM35.7 432.1h1.2v1.2h-1.2zM40.2 423.4h1.2v1.2h-1.2zM42.9 436.4h1.2v1.2h-1.2zM40.9 448.7h1.2v1.2h-1.2zM37.2 439.8h1.2v1.2h-1.2zM43.9 450.2h1.2v1.2h-1.2zM40.0 432.9h1.2v1.2h-1.2zM30.2 426.6h1.2v1.2h-1.2zM44.7 445.1h1.2v1.2h-1.2zM36.4 419.1h1.2v1.2h-1.2zM33.9 437.6h1.2v1.2h-1.2zM42.6 416.7h1.2v1.2h-1.2zM31.0 447.0h1.2v1.2h-1.2zM35.8 415.1h1.2v1.2h-1.2zM36.4 419.6h1.2v1.2h-1.2zM43.6 426.7h1.2v1.2h-1.2zM43.1 438.0h1.2v1.2h-1.2zM40.9 431.8h1.2v1.2h-1.2zM42.8 432.3h1.2v1.2h-1.2zM36.5 426.6h1.2v1.2h-1.2zM39.1 426.7h1.2v1.2h-1.2zM32.8 428.2h1.2v1.2h-1.2zM34.2 428.2h1.2v1.2h-1.2zM38.6 421.9h1.2v1.2h-1.2zM35.6 432.1h1.2v1.2h-1.2zM33.7 436.0h1.2v1.2h-1.2zM34.3 429.0h1.2v1.2h-1.2zM27.5 431.4h1.2v1.2h-1.2zM40.2 429.9h1.2v1.2h-1.2zM34.5 419.9h1.2v1.2h-1.2zM36.0 431.4h1.2v1.2h-1.2zM39.6 437.0h1.2v1.2h-1.2zM41.8 430.8h1.2v1.2h-1.2zM35.0 440.4h1.2v1.2h-1.2zM29.6 438.1h1.2v1.2h-1.2zM49.5 424.8h1.2v1.2h-1.2zM36.5 434.6h1.2v1.2h-1.2zM30.1 438.2h1.2v1.2h-1.2zM34.2 436.8h1.2v1.2h-1.2zM40.9 432.8h1.2v1.2h-1.2zM42.4 432.8h1.2v1.2h-1.2zM36.4 429.2h1.2v1.2h-1.2zM41.2 427.0h1.2v1.2h-1.2zM37.2 429.7h1.2v1.2h-1.2zM39.9 428.1h1.2v1.2h-1.2zM36.3 433.5h1.2v1.2h-1.2zM44.6 437.0h1.2v1.2h-1.2zM35.6 426.0h1.2v1.2h-1.2zM40.7 438.3h1.2v1.2h-1.2zM40.2 428.4h1.2v1.2h-1.2zM34.8 432.7h1.2v1.2h-1.2zM33.5 423.3h1.2v1.2h-1.2zM45.6 438.4h1.2v1.2h-1.2zM43.0 430.4h1.2v1.2h-1.2zM35.4 431.6h1.2v1.2h-1.2zM28.7 426.4h1.2v1.2h-1.2zM41.8 421.6h1.2v1.2h-1.2zM32.3 435.3h1.2v1.2h-1.2zM47.0 444.0h1.2v1.2h-1.2zM39.5 438.6h1.2v1.2h-1.2zM34.4 428.6h1.2v1.2h-1.2zM38.9 434.6h1.2v1.2h-1.2zM38.7 431.5h1.2v1.2h-1.2zM36.0 435.9h1.2v1.2h-1.2zM40.5 435.6h1.2v1.2h-1.2zM41.7 426.2h1.2v1.2h-1.2zM34.1 429.5h1.2v1.2h-1.2zM30.9 433.6h1.2v1.2h-1.2zM34.6 431.6h1.2v1.2h-1.2zM35.3 430.3h1.2v1.2h-1.2zM38.8 432.8h1.2v1.2h-1.2zM32.5 428.3h1.2v1.2h-1.2zM31.4 431.8h1.2v1.2h-1.2zM32.3 434.5h1.2v1.2h-1.2zM39.2 433.3h1.2v1.2h-1.2zM35.7 433.9h1.2v1.2h-1.2zM40.2 432.4h1.2v1.2h-1.2zM39.8 435.4h1.2v1.2h-1.2zM41.7 427.1h1.2v1.2h-1.2zM33.6 435.4h1.2v1.2h-1.2zM39.6 431.0h1.2v1.2h-1.2zM41.4 433.9h1.2v1.2h-1.2zM32.8 429.0h1.2v1.2h-1.2zM33.5 432.4h1.2v1.2h-1.2zM51.7 442.5h1.2v1.2h-1.2zM52.3 448.3h1.2v1.2h-1.2zM46.7 435.5h1.2v1.2h-1.2zM45.5 435.9h1.2v1.2h-1.2zM48.8 429.0h1.2v1.2h-1.2zM53.6 447.3h1.2v1.2h-1.2zM53.9 427.0h1.2v1.2h-1.2zM46.3 426.0h1.2v1.2h-1.2zM50.7 442.6h1.2v1.2h-1.2zM46.1 444.9h1.2v1.2h-1.2zM47.9 447.2h1.2v1.2h-1.2zM51.4 440.2h1.2v1.2h-1.2zM56.2 433.9h1.2v1.2h-1.2zM50.0 442.4h1.2v1.2h-1.2zM44.4 428.0h1.2v1.2h-1.2zM53.1 444.2h1.2v1.2h-1.2zM54.6 427.7h1.2v1.2h-1.2zM54.6 441.1h1.2v1.2h-1.2zM46.6 432.8h1.2v1.2h-1.2zM49.3 428.4h1.2v1.2h-1.2zM53.1 449.5h1.2v1.2h-1.2zM47.9 444.7h1.2v1.2h-1.2zM55.3 448.5h1.2v1.2h-1.2zM53.1 438.3h1.2v1.2h-1.2zM46.9 419.0h1.2v1.2h-1.2zM49.6 416.1h1.2v1.2h-1.2zM46.6 423.1h1.2v1.2h-1.2zM45.0 413.3h1.2v1.2h-1.2zM45.6 408.2h1.2v1.2h-1.2zM48.8 418.7h1.2v1.2h-1.2zM43.3 426.6h1.2v1.2h-1.2zM44.7 421.6h1.2v1.2h-1.2zM46.7 428.5h1.2v1.2h-1.2zM46.7 419.4h1.2v1.2h-1.2zM49.2 427.0h1.2v1.2h-1.2zM51.1 415.5h1.2v1.2h-1.2zM45.7 411.4h1.2v1.2h-1.2zM51.1 417.1h1.2v1.2h-1.2zM47.7 425.8h1.2v1.2h-1.2zM43.9 417.1h1.2v1.2h-1.2zM52.2 426.0h1.2v1.2h-1.2zM47.8 422.7h1.2v1.2h-1.2zM41.7 423.8h1.2v1.2h-1.2zM44.4 424.7h1.2v1.2h-1.2zM55.3 418.5h1.2v1.2h-1.2zM47.7 420.4h1.2v1.2h-1.2zM47.8 422.1h1.2v1.2h-1.2zM46.2 418.3h1.2v1.2h-1.2zM48.6 420.8h1.2v1.2h-1.2zM40.2 429.5h1.2v1.2h-1.2zM54.5 420.7h1.2v1.2h-1.2zM51.3 416.9h1.2v1.2h-1.2zM46.6 428.6h1.2v1.2h-1.2zM49.7 421.1h1.2v1.2h-1.2zM48.5 416.5h1.2v1.2h-1.2zM49.7 423.3h1.2v1.2h-1.2zM50.6 418.7h1.2v1.2h-1.2zM52.7 421.7h1.2v1.2h-1.2zM50.2 419.9h1.2v1.2h-1.2zM50.1 419.6h1.2v1.2h-1.2zM52.6 418.7h1.2v1.2h-1.2zM52.2 440.6h1.2v1.2h-1.2zM55.5 441.3h1.2v1.2h-1.2zM57.4 443.6h1.2v1.2h-1.2zM57.5 437.7h1.2v1.2h-1.2zM53.4 442.8h1.2v1.2h-1.2zM65.7 446.1h1.2v1.2h-1.2zM50.6 434.2h1.2v1.2h-1.2zM58.5 439.6h1.2v1.2h-1.2zM61.5 446.4h1.2v1.2h-1.2zM59.3 447.9h1.2v1.2h-1.2zM51.8 446.5h1.2v1.2h-1.2zM63.3 440.3h1.2v1.2h-1.2zM66.4 439.3h1.2v1.2h-1.2zM60.3 438.2h1.2v1.2h-1.2zM59.5 445.6h1.2v1.2h-1.2zM59.5 443.8h1.2v1.2h-1.2zM54.2 438.0h1.2v1.2h-1.2zM56.3 440.3h1.2v1.2h-1.2zM56.8 438.2h1.2v1.2h-1.2zM62.7 442.1h1.2v1.2h-1.2zM55.2 444.1h1.2v1.2h-1.2zM52.0 447.1h1.2v1.2h-1.2zM59.9 447.0h1.2v1.2h-1.2zM53.1 441.7h1.2v1.2h-1.2zM58.4 438.5h1.2v1.2h-1.2zM55.5 434.6h1.2v1.2h-1.2zM55.2 443.8h1.2v1.2h-1.2zM61.5 440.0h1.2v1.2h-1.2zM62.9 445.5h1.2v1.2h-1.2zM49.3 438.9h1.2v1.2h-1.2zM59.3 446.4h1.2v1.2h-1.2zM57.1 437.0h1.2v1.2h-1.2zM57.6 442.4h1.2v1.2h-1.2zM52.8 442.4h1.2v1.2h-1.2zM66.9 441.8h1.2v1.2h-1.2zM60.6 447.3h1.2v1.2h-1.2zM58.8 444.4h1.2v1.2h-1.2zM59.8 439.6h1.2v1.2h-1.2zM62.4 444.7h1.2v1.2h-1.2zM55.6 444.6h1.2v1.2h-1.2zM61.5 444.3h1.2v1.2h-1.2zM60.3 443.2h1.2v1.2h-1.2zM60.0 440.1h1.2v1.2h-1.2zM62.9 441.4h1.2v1.2h-1.2zM60.4 431.0h1.2v1.2h-1.2zM48.6 434.4h1.2v1.2h-1.2zM64.2 445.1h1.2v1.2h-1.2zM64.6 448.1h1.2v1.2h-1.2zM49.4 434.4h1.2v1.2h-1.2zM56.2 447.5h1.2v1.2h-1.2zM61.6 436.2h1.2v1.2h-1.2zM45.1 449.4h1.2v1.2h-1.2zM47.0 437.8h1.2v1.2h-1.2zM46.1 434.8h1.2v1.2h-1.2zM38.8 436.9h1.2v1.2h-1.2zM57.1 419.8h1.2v1.2h-1.2zM62.0 414.9h1.2v1.2h-1.2z"/>
<path fill="#24188a" d="M30.6 419.0h1.2v1.2h-1.2zM30.8 450.2h1.2v1.2h-1.2zM34.5 449.8h1.2v1.2h-1.2zM40.6 449.1h1.2v1.2h-1.2zM42.6 413.7h1.2v1.2h-1.2zM40.2 423.9h1.2v1.2h-1.2zM36.7 421.4h1.2v1.2h-1.2zM39.0 438.6h1.2v1.2h-1.2zM30.6 435.6h1.2v1.2h-1.2zM31.3 412.7h1.2v1.2h-1.2zM35.4 421.5h1.2v1.2h-1.2zM33.7 413.0h1.2v1.2h-1.2zM30.5 429.1h1.2v1.2h-1.2zM36.4 418.7h1.2v1.2h-1.2zM41.3 434.4h1.2v1.2h-1.2zM37.5 424.2h1.2v1.2h-1.2zM44.7 441.3h1.2v1.2h-1.2zM33.5 424.5h1.2v1.2h-1.2zM42.8 422.7h1.2v1.2h-1.2zM40.0 427.1h1.2v1.2h-1.2zM34.8 420.4h1.2v1.2h-1.2zM39.9 412.6h1.2v1.2h-1.2zM39.4 432.1h1.2v1.2h-1.2zM43.1 425.2h1.2v1.2h-1.2zM40.2 423.9h1.2v1.2h-1.2zM31.0 415.9h1.2v1.2h-1.2zM43.8 443.1h1.2v1.2h-1.2zM31.0 449.7h1.2v1.2h-1.2zM35.8 438.9h1.2v1.2h-1.2zM40.4 412.8h1.2v1.2h-1.2zM36.5 414.4h1.2v1.2h-1.2zM43.4 423.8h1.2v1.2h-1.2zM30.1 439.5h1.2v1.2h-1.2zM33.3 430.0h1.2v1.2h-1.2zM37.0 414.4h1.2v1.2h-1.2zM44.4 415.9h1.2v1.2h-1.2zM38.1 415.6h1.2v1.2h-1.2zM35.4 425.8h1.2v1.2h-1.2zM37.1 414.8h1.2v1.2h-1.2zM32.2 448.4h1.2v1.2h-1.2zM43.4 436.6h1.2v1.2h-1.2zM40.0 441.0h1.2v1.2h-1.2zM40.2 420.6h1.2v1.2h-1.2zM44.5 445.8h1.2v1.2h-1.2zM44.7 425.2h1.2v1.2h-1.2zM30.7 446.5h1.2v1.2h-1.2zM38.1 424.7h1.2v1.2h-1.2zM44.8 439.8h1.2v1.2h-1.2zM33.8 445.9h1.2v1.2h-1.2zM35.4 444.2h1.2v1.2h-1.2zM36.0 441.0h1.2v1.2h-1.2zM30.6 421.0h1.2v1.2h-1.2zM38.3 429.4h1.2v1.2h-1.2zM34.7 430.2h1.2v1.2h-1.2zM36.6 449.8h1.2v1.2h-1.2zM38.4 427.1h1.2v1.2h-1.2zM34.3 438.1h1.2v1.2h-1.2zM30.0 424.5h1.2v1.2h-1.2zM40.5 419.7h1.2v1.2h-1.2zM38.7 435.5h1.2v1.2h-1.2zM40.0 432.7h1.2v1.2h-1.2zM41.1 432.0h1.2v1.2h-1.2zM34.3 418.1h1.2v1.2h-1.2zM34.8 430.7h1.2v1.2h-1.2zM26.8 433.5h1.2v1.2h-1.2zM38.8 422.0h1.2v1.2h-1.2zM44.3 433.5h1.2v1.2h-1.2zM35.3 435.3h1.2v1.2h-1.2zM37.9 420.8h1.2v1.2h-1.2zM40.0 425.4h1.2v1.2h-1.2zM35.9 431.1h1.2v1.2h-1.2zM34.4 433.7h1.2v1.2h-1.2zM40.0 431.1h1.2v1.2h-1.2zM28.5 439.1h1.2v1.2h-1.2zM44.9 429.5h1.2v1.2h-1.2zM40.3 427.1h1.2v1.2h-1.2zM39.7 431.1h1.2v1.2h-1.2zM35.8 425.0h1.2v1.2h-1.2zM32.8 434.1h1.2v1.2h-1.2zM36.5 426.9h1.2v1.2h-1.2zM33.4 432.9h1.2v1.2h-1.2zM36.7 425.6h1.2v1.2h-1.2zM33.3 440.2h1.2v1.2h-1.2zM28.9 432.9h1.2v1.2h-1.2zM36.4 440.9h1.2v1.2h-1.2zM34.5 432.2h1.2v1.2h-1.2zM38.0 437.4h1.2v1.2h-1.2zM33.0 435.6h1.2v1.2h-1.2zM44.2 432.3h1.2v1.2h-1.2zM34.9 423.7h1.2v1.2h-1.2zM37.2 432.4h1.2v1.2h-1.2zM38.2 428.0h1.2v1.2h-1.2zM36.1 431.2h1.2v1.2h-1.2zM39.3 436.0h1.2v1.2h-1.2zM34.1 430.7h1.2v1.2h-1.2zM34.3 430.4h1.2v1.2h-1.2zM41.0 441.6h1.2v1.2h-1.2zM44.8 428.2h1.2v1.2h-1.2zM34.6 420.1h1.2v1.2h-1.2zM38.7 426.2h1.2v1.2h-1.2zM40.2 428.8h1.2v1.2h-1.2zM40.6 440.7h1.2v1.2h-1.2zM34.1 431.5h1.2v1.2h-1.2zM35.8 426.1h1.2v1.2h-1.2zM34.4 427.2h1.2v1.2h-1.2zM33.2 432.2h1.2v1.2h-1.2zM31.7 427.3h1.2v1.2h-1.2zM33.4 433.4h1.2v1.2h-1.2zM36.7 426.5h1.2v1.2h-1.2zM35.2 432.2h1.2v1.2h-1.2zM31.9 433.2h1.2v1.2h-1.2zM36.0 433.8h1.2v1.2h-1.2zM40.8 430.5h1.2v1.2h-1.2zM34.5 430.9h1.2v1.2h-1.2zM43.0 429.2h1.2v1.2h-1.2zM43.8 435.7h1.2v1.2h-1.2zM36.0 434.7h1.2v1.2h-1.2zM41.9 428.8h1.2v1.2h-1.2zM40.6 435.1h1.2v1.2h-1.2zM38.4 431.1h1.2v1.2h-1.2zM32.9 428.3h1.2v1.2h-1.2zM35.0 434.9h1.2v1.2h-1.2zM39.8 431.6h1.2v1.2h-1.2zM48.1 437.0h1.2v1.2h-1.2zM46.7 433.4h1.2v1.2h-1.2zM57.9 431.9h1.2v1.2h-1.2zM55.7 439.5h1.2v1.2h-1.2zM51.4 449.3h1.2v1.2h-1.2zM46.4 445.2h1.2v1.2h-1.2zM56.1 436.9h1.2v1.2h-1.2zM51.2 427.4h1.2v1.2h-1.2zM48.0 439.1h1.2v1.2h-1.2zM53.9 444.7h1.2v1.2h-1.2zM53.8 442.8h1.2v1.2h-1.2zM44.4 422.1h1.2v1.2h-1.2zM50.8 446.3h1.2v1.2h-1.2zM52.3 430.1h1.2v1.2h-1.2zM57.3 434.4h1.2v1.2h-1.2zM44.6 430.1h1.2v1.2h-1.2zM48.8 445.1h1.2v1.2h-1.2zM49.4 443.3h1.2v1.2h-1.2zM57.7 446.0h1.2v1.2h-1.2zM53.6 449.0h1.2v1.2h-1.2zM57.6 444.6h1.2v1.2h-1.2zM57.9 428.6h1.2v1.2h-1.2zM55.3 423.6h1.2v1.2h-1.2zM57.1 446.5h1.2v1.2h-1.2zM46.1 443.6h1.2v1.2h-1.2zM56.6 448.0h1.2v1.2h-1.2zM44.8 418.6h1.2v1.2h-1.2zM51.4 425.1h1.2v1.2h-1.2zM48.3 421.7h1.2v1.2h-1.2zM40.6 424.4h1.2v1.2h-1.2zM53.1 418.1h1.2v1.2h-1.2zM42.7 417.7h1.2v1.2h-1.2zM49.6 414.9h1.2v1.2h-1.2zM54.0 428.2h1.2v1.2h-1.2zM48.2 425.6h1.2v1.2h-1.2zM47.3 416.2h1.2v1.2h-1.2zM41.8 425.7h1.2v1.2h-1.2zM50.4 422.4h1.2v1.2h-1.2zM42.9 423.5h1.2v1.2h-1.2zM48.0 423.6h1.2v1.2h-1.2zM44.1 414.5h1.2v1.2h-1.2zM46.0 418.9h1.2v1.2h-1.2zM48.3 417.2h1.2v1.2h-1.2zM56.8 422.8h1.2v1.2h-1.2zM47.2 422.3h1.2v1.2h-1.2zM54.8 426.8h1.2v1.2h-1.2zM49.5 419.9h1.2v1.2h-1.2zM47.7 419.3h1.2v1.2h-1.2zM50.0 413.3h1.2v1.2h-1.2zM52.3 419.0h1.2v1.2h-1.2zM51.0 418.0h1.2v1.2h-1.2zM52.5 416.8h1.2v1.2h-1.2zM53.9 414.7h1.2v1.2h-1.2zM49.1 421.4h1.2v1.2h-1.2zM59.3 444.9h1.2v1.2h-1.2zM61.7 446.8h1.2v1.2h-1.2zM57.5 442.0h1.2v1.2h-1.2zM56.3 447.6h1.2v1.2h-1.2zM61.1 437.1h1.2v1.2h-1.2zM61.0 438.8h1.2v1.2h-1.2zM57.7 437.2h1.2v1.2h-1.2zM62.3 446.2h1.2v1.2h-1.2zM51.4 445.8h1.2v1.2h-1.2zM58.9 445.2h1.2v1.2h-1.2zM57.0 441.4h1.2v1.2h-1.2zM65.2 439.3h1.2v1.2h-1.2zM52.3 443.1h1.2v1.2h-1.2zM52.8 441.1h1.2v1.2h-1.2zM56.8 447.1h1.2v1.2h-1.2zM58.3 439.4h1.2v1.2h-1.2zM55.4 449.8h1.2v1.2h-1.2zM57.7 443.8h1.2v1.2h-1.2zM62.2 445.9h1.2v1.2h-1.2zM55.9 442.7h1.2v1.2h-1.2zM57.7 438.1h1.2v1.2h-1.2zM56.3 436.2h1.2v1.2h-1.2zM56.3 446.7h1.2v1.2h-1.2zM59.9 439.9h1.2v1.2h-1.2zM62.8 446.5h1.2v1.2h-1.2zM67.2 440.7h1.2v1.2h-1.2zM57.7 436.3h1.2v1.2h-1.2zM60.2 449.1h1.2v1.2h-1.2zM60.6 438.2h1.2v1.2h-1.2zM60.8 438.4h1.2v1.2h-1.2zM64.2 441.5h1.2v1.2h-1.2zM64.7 443.1h1.2v1.2h-1.2zM59.8 439.9h1.2v1.2h-1.2zM58.6 448.0h1.2v1.2h-1.2zM61.7 442.4h1.2v1.2h-1.2zM60.2 449.6h1.2v1.2h-1.2zM60.0 443.7h1.2v1.2h-1.2zM63.6 431.8h1.2v1.2h-1.2zM52.1 430.6h1.2v1.2h-1.2zM53.7 436.8h1.2v1.2h-1.2zM49.6 441.1h1.2v1.2h-1.2zM63.1 436.0h1.2v1.2h-1.2zM61.0 435.0h1.2v1.2h-1.2zM58.5 443.0h1.2v1.2h-1.2zM47.6 438.7h1.2v1.2h-1.2zM64.1 448.6h1.2v1.2h-1.2zM56.4 431.6h1.2v1.2h-1.2zM55.5 430.8h1.2v1.2h-1.2zM57.6 436.9h1.2v1.2h-1.2zM33.2 412.2h1.2v1.2h-1.2z"/>
<g><ellipse cx="37.3" cy="421.3" rx="6.20" ry="9.60" fill="#3a34a6" transform="rotate(10 37.3 421.3)"/><ellipse cx="37.2" cy="431.0" rx="6.40" ry="6.00" fill="#3a34a6"/><ellipse cx="37.0" cy="441.0" rx="8.00" ry="8.60" fill="#3a34a6"/><ellipse cx="37.3" cy="421.3" rx="5.00" ry="8.40" fill="#4f7fd2" transform="rotate(10 37.3 421.3)"/><ellipse cx="37.2" cy="431.0" rx="5.40" ry="5.00" fill="#4f7fd2"/><ellipse cx="37.0" cy="441.0" rx="7.00" ry="7.60" fill="#4f7fd2"/><ellipse cx="37.3" cy="421.3" rx="3.90" ry="7.20" fill="#5ec3c8" transform="rotate(10 37.3 421.3)"/><ellipse cx="37.2" cy="431.0" rx="4.20" ry="4.00" fill="#5ec3c8"/><ellipse cx="37.0" cy="441.0" rx="6.00" ry="6.60" fill="#5ec3c8"/><ellipse cx="37.3" cy="421.3" rx="2.90" ry="6.00" fill="#62c24a" transform="rotate(10 37.3 421.3)"/><ellipse cx="37.0" cy="441.0" rx="5.00" ry="5.50" fill="#62c24a"/><ellipse cx="37.0" cy="441.0" rx="3.70" ry="3.90" fill="#ece23a"/><ellipse cx="37.0" cy="441.0" rx="2.80" ry="3.00" fill="#f5a02e"/><ellipse cx="37.0" cy="441.0" rx="2.00" ry="2.10" fill="#ec2c1c"/></g>
<path fill="#4f7fd2" d="M40.8 427.4h1.2v1.2h-1.2zM36.7 413.3h1.2v1.2h-1.2zM31.6 422.8h1.2v1.2h-1.2zM40.5 427.7h1.2v1.2h-1.2zM32.9 415.9h1.2v1.2h-1.2zM39.9 422.0h1.2v1.2h-1.2zM35.0 427.6h1.2v1.2h-1.2zM34.0 428.0h1.2v1.2h-1.2zM36.3 414.6h1.2v1.2h-1.2zM42.6 422.3h1.2v1.2h-1.2zM41.2 418.1h1.2v1.2h-1.2zM31.2 420.1h1.2v1.2h-1.2zM32.7 424.8h1.2v1.2h-1.2zM39.7 414.9h1.2v1.2h-1.2zM35.0 412.0h1.2v1.2h-1.2zM40.7 416.2h1.2v1.2h-1.2zM33.0 424.8h1.2v1.2h-1.2zM31.1 422.9h1.2v1.2h-1.2zM38.1 432.9h1.2v1.2h-1.2zM39.4 428.8h1.2v1.2h-1.2zM32.2 433.2h1.2v1.2h-1.2zM33.1 428.3h1.2v1.2h-1.2zM37.4 425.8h1.2v1.2h-1.2zM40.1 428.3h1.2v1.2h-1.2zM40.5 427.8h1.2v1.2h-1.2zM37.8 424.8h1.2v1.2h-1.2zM40.3 427.5h1.2v1.2h-1.2zM37.7 430.5h1.2v1.2h-1.2zM31.6 430.1h1.2v1.2h-1.2zM38.8 433.1h1.2v1.2h-1.2zM38.7 425.6h1.2v1.2h-1.2zM40.5 426.7h1.2v1.2h-1.2zM36.5 428.3h1.2v1.2h-1.2zM35.0 430.3h1.2v1.2h-1.2zM40.0 432.8h1.2v1.2h-1.2zM32.5 427.8h1.2v1.2h-1.2zM36.7 427.4h1.2v1.2h-1.2zM32.6 429.6h1.2v1.2h-1.2zM32.3 429.7h1.2v1.2h-1.2zM35.8 430.2h1.2v1.2h-1.2zM33.2 428.9h1.2v1.2h-1.2zM43.3 443.8h1.2v1.2h-1.2zM33.4 445.8h1.2v1.2h-1.2zM41.0 445.8h1.2v1.2h-1.2zM37.4 447.5h1.2v1.2h-1.2zM41.4 438.6h1.2v1.2h-1.2zM40.5 447.6h1.2v1.2h-1.2zM34.6 432.6h1.2v1.2h-1.2zM41.5 435.1h1.2v1.2h-1.2z"/>
<path fill="#5ec3c8" d="M35.7 421.4h1.2v1.2h-1.2zM36.1 414.2h1.2v1.2h-1.2zM35.0 414.0h1.2v1.2h-1.2zM35.0 421.2h1.2v1.2h-1.2zM35.1 412.7h1.2v1.2h-1.2zM37.4 428.3h1.2v1.2h-1.2zM36.5 415.4h1.2v1.2h-1.2zM35.7 418.3h1.2v1.2h-1.2zM38.5 421.5h1.2v1.2h-1.2zM40.6 417.2h1.2v1.2h-1.2zM34.6 419.2h1.2v1.2h-1.2zM34.6 417.6h1.2v1.2h-1.2zM36.9 427.9h1.2v1.2h-1.2zM35.4 417.2h1.2v1.2h-1.2zM36.7 418.8h1.2v1.2h-1.2zM38.7 425.7h1.2v1.2h-1.2zM34.3 424.0h1.2v1.2h-1.2zM35.6 415.7h1.2v1.2h-1.2zM31.9 421.3h1.2v1.2h-1.2zM33.4 431.2h1.2v1.2h-1.2zM36.4 432.4h1.2v1.2h-1.2zM34.6 431.5h1.2v1.2h-1.2zM38.0 430.5h1.2v1.2h-1.2zM37.0 431.4h1.2v1.2h-1.2zM36.3 425.8h1.2v1.2h-1.2zM35.5 431.5h1.2v1.2h-1.2zM32.9 428.0h1.2v1.2h-1.2zM40.1 429.6h1.2v1.2h-1.2zM35.3 430.8h1.2v1.2h-1.2zM38.2 428.8h1.2v1.2h-1.2zM37.7 433.8h1.2v1.2h-1.2zM39.1 431.3h1.2v1.2h-1.2zM36.6 433.0h1.2v1.2h-1.2zM37.5 432.5h1.2v1.2h-1.2zM35.3 428.5h1.2v1.2h-1.2zM32.9 429.0h1.2v1.2h-1.2zM32.8 430.4h1.2v1.2h-1.2zM37.6 433.9h1.2v1.2h-1.2zM34.2 428.9h1.2v1.2h-1.2zM35.7 429.4h1.2v1.2h-1.2zM40.5 433.0h1.2v1.2h-1.2zM30.6 443.9h1.2v1.2h-1.2zM41.8 436.2h1.2v1.2h-1.2zM33.0 445.0h1.2v1.2h-1.2zM30.9 444.1h1.2v1.2h-1.2zM37.8 434.4h1.2v1.2h-1.2zM29.8 438.5h1.2v1.2h-1.2zM38.5 433.5h1.2v1.2h-1.2zM40.2 439.5h1.2v1.2h-1.2zM33.7 443.6h1.2v1.2h-1.2zM31.0 442.0h1.2v1.2h-1.2zM35.7 445.4h1.2v1.2h-1.2zM42.8 439.1h1.2v1.2h-1.2zM30.3 439.6h1.2v1.2h-1.2zM41.4 435.4h1.2v1.2h-1.2z"/>
<path fill="#62c24a" d="M36.4 423.6h1.2v1.2h-1.2zM35.5 418.1h1.2v1.2h-1.2zM34.8 423.7h1.2v1.2h-1.2zM39.4 420.3h1.2v1.2h-1.2zM38.7 418.7h1.2v1.2h-1.2zM36.3 425.8h1.2v1.2h-1.2zM36.9 419.2h1.2v1.2h-1.2zM34.5 419.0h1.2v1.2h-1.2zM35.1 418.3h1.2v1.2h-1.2zM37.4 426.5h1.2v1.2h-1.2zM38.0 417.8h1.2v1.2h-1.2zM36.7 425.2h1.2v1.2h-1.2zM37.1 414.4h1.2v1.2h-1.2zM33.5 424.4h1.2v1.2h-1.2zM36.2 415.8h1.2v1.2h-1.2zM37.9 422.2h1.2v1.2h-1.2zM35.3 416.8h1.2v1.2h-1.2zM39.2 423.6h1.2v1.2h-1.2zM35.9 434.6h1.2v1.2h-1.2zM37.4 446.3h1.2v1.2h-1.2zM34.0 437.8h1.2v1.2h-1.2zM33.4 445.5h1.2v1.2h-1.2zM33.1 437.0h1.2v1.2h-1.2zM36.7 434.9h1.2v1.2h-1.2zM35.7 435.5h1.2v1.2h-1.2zM38.6 438.2h1.2v1.2h-1.2zM36.6 436.0h1.2v1.2h-1.2zM38.3 446.6h1.2v1.2h-1.2zM34.9 437.2h1.2v1.2h-1.2zM38.1 444.8h1.2v1.2h-1.2z"/>
<path fill="#3a34a6" d="M41.1 426.9h1.2v1.2h-1.2zM41.8 419.7h1.2v1.2h-1.2zM37.4 429.6h1.2v1.2h-1.2zM42.6 423.4h1.2v1.2h-1.2zM32.6 416.0h1.2v1.2h-1.2zM39.6 413.3h1.2v1.2h-1.2zM32.7 423.5h1.2v1.2h-1.2zM31.3 418.1h1.2v1.2h-1.2zM34.2 428.5h1.2v1.2h-1.2zM35.2 429.5h1.2v1.2h-1.2zM42.1 423.5h1.2v1.2h-1.2zM34.0 427.4h1.2v1.2h-1.2zM40.0 426.8h1.2v1.2h-1.2zM33.0 423.7h1.2v1.2h-1.2zM39.8 427.2h1.2v1.2h-1.2zM38.5 428.9h1.2v1.2h-1.2zM31.0 417.5h1.2v1.2h-1.2zM36.2 426.3h1.2v1.2h-1.2zM37.1 435.4h1.2v1.2h-1.2zM33.3 433.5h1.2v1.2h-1.2zM40.7 429.5h1.2v1.2h-1.2zM38.0 434.5h1.2v1.2h-1.2zM37.5 424.8h1.2v1.2h-1.2zM39.3 435.0h1.2v1.2h-1.2zM38.8 435.7h1.2v1.2h-1.2zM41.1 433.4h1.2v1.2h-1.2zM32.4 429.8h1.2v1.2h-1.2zM32.7 427.1h1.2v1.2h-1.2zM30.5 431.4h1.2v1.2h-1.2zM39.7 434.6h1.2v1.2h-1.2zM32.0 432.6h1.2v1.2h-1.2zM35.8 425.0h1.2v1.2h-1.2zM42.8 431.6h1.2v1.2h-1.2zM40.4 427.3h1.2v1.2h-1.2zM32.2 429.7h1.2v1.2h-1.2zM39.9 434.5h1.2v1.2h-1.2zM39.2 434.9h1.2v1.2h-1.2zM40.5 446.1h1.2v1.2h-1.2zM42.3 435.7h1.2v1.2h-1.2zM42.9 441.7h1.2v1.2h-1.2zM32.6 447.4h1.2v1.2h-1.2zM30.2 439.8h1.2v1.2h-1.2zM30.5 435.2h1.2v1.2h-1.2zM41.3 433.6h1.2v1.2h-1.2zM29.9 441.7h1.2v1.2h-1.2zM43.4 436.7h1.2v1.2h-1.2zM29.0 442.1h1.2v1.2h-1.2zM43.7 443.1h1.2v1.2h-1.2zM36.5 448.3h1.2v1.2h-1.2zM42.5 439.1h1.2v1.2h-1.2zM41.8 445.5h1.2v1.2h-1.2zM44.1 438.7h1.2v1.2h-1.2zM35.0 432.0h1.2v1.2h-1.2zM42.1 444.8h1.2v1.2h-1.2zM36.8 432.1h1.2v1.2h-1.2z"/>
<path fill="#3a2c9e" d="M39.8 412.1h1.2v1.2h-1.2zM33.1 428.8h1.2v1.2h-1.2zM40.0 428.9h1.2v1.2h-1.2zM39.7 435.7h1.2v1.2h-1.2zM31.6 426.6h1.2v1.2h-1.2zM38.2 424.6h1.2v1.2h-1.2zM42.5 433.0h1.2v1.2h-1.2zM39.5 425.0h1.2v1.2h-1.2zM42.4 427.6h1.2v1.2h-1.2zM30.2 431.0h1.2v1.2h-1.2zM33.6 425.1h1.2v1.2h-1.2zM32.4 425.8h1.2v1.2h-1.2zM30.3 429.2h1.2v1.2h-1.2zM28.4 441.3h1.2v1.2h-1.2zM42.8 435.0h1.2v1.2h-1.2zM32.8 432.7h1.2v1.2h-1.2z"/>
<path fill="#ece23a" d="M33.1 437.9h1.2v1.2h-1.2zM38.7 441.9h1.2v1.2h-1.2zM36.6 437.6h1.2v1.2h-1.2zM39.7 440.2h1.2v1.2h-1.2zM33.3 443.2h1.2v1.2h-1.2zM35.2 435.7h1.2v1.2h-1.2zM38.3 436.2h1.2v1.2h-1.2zM35.9 435.5h1.2v1.2h-1.2zM34.4 435.8h1.2v1.2h-1.2z"/>
<path fill="#ec2c1c" d="M35.6 439.3h1.2v1.2h-1.2zM35.8 439.5h1.2v1.2h-1.2zM36.9 441.4h1.2v1.2h-1.2zM37.3 443.1h1.2v1.2h-1.2zM37.9 440.8h1.2v1.2h-1.2zM37.5 441.5h1.2v1.2h-1.2zM35.7 441.2h1.2v1.2h-1.2z"/>
<path fill="#f5a02e" d="M37.4 439.1h1.2v1.2h-1.2zM33.7 438.3h1.2v1.2h-1.2zM33.5 438.9h1.2v1.2h-1.2zM33.6 439.2h1.2v1.2h-1.2z"/>
<text x="35.7" y="399.8" font-size="6.5" text-anchor="start" fill="#333" textLength="9.6" lengthAdjust="spacingAndGlyphs">MP</text>
<text x="36.6" y="405.6" font-size="5.6" text-anchor="start" fill="#666" textLength="8.1" lengthAdjust="spacingAndGlyphs">19.0</text>
<text x="74.1" y="406.2" font-size="5.6" text-anchor="start" fill="#666" textLength="8.7" lengthAdjust="spacingAndGlyphs">1.12</text>
<text x="71.8" y="416.0" font-size="6.5" text-anchor="start" fill="#333" textLength="11.0" lengthAdjust="spacingAndGlyphs">KSL</text>
<rect x="95.6" y="409.2" width="14.2" height="21.7" fill="none" stroke="#777" stroke-width="0.7"/>
<rect x="111.5" y="408.4" width="22.5" height="22.5" fill="none" stroke="#777" stroke-width="0.7"/>
<path fill="#24188a" d="M97.6 449.2h1.2v1.2h-1.2zM101.0 427.4h1.2v1.2h-1.2zM100.2 419.4h1.2v1.2h-1.2zM101.5 418.9h1.2v1.2h-1.2zM103.8 450.5h1.2v1.2h-1.2zM98.7 441.9h1.2v1.2h-1.2zM97.6 419.8h1.2v1.2h-1.2zM96.1 411.5h1.2v1.2h-1.2zM110.8 439.0h1.2v1.2h-1.2zM101.9 426.8h1.2v1.2h-1.2zM108.8 440.6h1.2v1.2h-1.2zM110.1 419.2h1.2v1.2h-1.2zM100.4 417.0h1.2v1.2h-1.2zM99.5 435.1h1.2v1.2h-1.2zM101.0 440.0h1.2v1.2h-1.2zM108.0 450.9h1.2v1.2h-1.2zM109.6 417.9h1.2v1.2h-1.2zM107.7 426.9h1.2v1.2h-1.2zM95.6 433.0h1.2v1.2h-1.2zM95.4 433.7h1.2v1.2h-1.2zM103.6 419.2h1.2v1.2h-1.2zM109.0 437.2h1.2v1.2h-1.2zM108.4 412.3h1.2v1.2h-1.2zM98.5 448.9h1.2v1.2h-1.2zM96.1 419.7h1.2v1.2h-1.2zM97.3 418.1h1.2v1.2h-1.2zM108.3 429.1h1.2v1.2h-1.2zM104.1 446.5h1.2v1.2h-1.2zM102.7 430.5h1.2v1.2h-1.2zM95.3 431.6h1.2v1.2h-1.2zM98.3 426.4h1.2v1.2h-1.2zM97.4 429.0h1.2v1.2h-1.2zM109.8 418.8h1.2v1.2h-1.2zM99.1 442.3h1.2v1.2h-1.2zM95.8 443.8h1.2v1.2h-1.2zM100.4 420.2h1.2v1.2h-1.2zM110.5 422.6h1.2v1.2h-1.2zM108.0 420.5h1.2v1.2h-1.2zM107.4 413.7h1.2v1.2h-1.2zM103.2 439.7h1.2v1.2h-1.2zM101.1 437.7h1.2v1.2h-1.2zM103.3 421.6h1.2v1.2h-1.2zM97.1 422.3h1.2v1.2h-1.2zM108.9 429.2h1.2v1.2h-1.2zM106.5 448.0h1.2v1.2h-1.2zM109.1 422.1h1.2v1.2h-1.2zM95.3 429.6h1.2v1.2h-1.2zM106.0 432.1h1.2v1.2h-1.2zM98.8 419.6h1.2v1.2h-1.2zM106.2 423.1h1.2v1.2h-1.2zM105.6 442.8h1.2v1.2h-1.2zM101.5 419.9h1.2v1.2h-1.2zM101.3 433.0h1.2v1.2h-1.2zM99.4 438.4h1.2v1.2h-1.2zM109.7 413.7h1.2v1.2h-1.2zM95.2 431.9h1.2v1.2h-1.2zM100.0 422.5h1.2v1.2h-1.2zM105.4 429.7h1.2v1.2h-1.2zM99.2 446.8h1.2v1.2h-1.2zM109.0 431.9h1.2v1.2h-1.2zM96.5 446.0h1.2v1.2h-1.2zM99.1 418.7h1.2v1.2h-1.2zM95.9 442.3h1.2v1.2h-1.2zM95.2 443.5h1.2v1.2h-1.2zM96.2 431.2h1.2v1.2h-1.2zM102.7 450.9h1.2v1.2h-1.2zM97.6 444.2h1.2v1.2h-1.2zM98.0 432.9h1.2v1.2h-1.2zM105.7 437.9h1.2v1.2h-1.2zM101.4 427.5h1.2v1.2h-1.2zM104.6 429.2h1.2v1.2h-1.2zM106.9 432.5h1.2v1.2h-1.2zM99.1 434.5h1.2v1.2h-1.2zM102.0 428.2h1.2v1.2h-1.2zM110.6 425.1h1.2v1.2h-1.2zM104.9 427.5h1.2v1.2h-1.2zM93.2 431.8h1.2v1.2h-1.2zM96.5 427.3h1.2v1.2h-1.2zM95.5 432.0h1.2v1.2h-1.2zM104.3 428.1h1.2v1.2h-1.2zM100.3 435.4h1.2v1.2h-1.2zM103.2 418.8h1.2v1.2h-1.2zM100.3 420.5h1.2v1.2h-1.2zM116.2 436.2h1.2v1.2h-1.2zM105.2 435.6h1.2v1.2h-1.2zM105.7 422.5h1.2v1.2h-1.2zM106.8 430.8h1.2v1.2h-1.2zM102.2 433.0h1.2v1.2h-1.2zM105.0 427.4h1.2v1.2h-1.2zM104.3 436.5h1.2v1.2h-1.2zM107.6 429.4h1.2v1.2h-1.2zM105.6 429.7h1.2v1.2h-1.2zM105.9 440.7h1.2v1.2h-1.2zM108.1 420.5h1.2v1.2h-1.2zM106.0 428.1h1.2v1.2h-1.2zM102.7 432.6h1.2v1.2h-1.2zM100.4 433.8h1.2v1.2h-1.2zM103.6 432.4h1.2v1.2h-1.2zM105.9 429.8h1.2v1.2h-1.2zM93.9 425.6h1.2v1.2h-1.2zM100.2 435.5h1.2v1.2h-1.2zM105.7 434.3h1.2v1.2h-1.2zM103.7 428.3h1.2v1.2h-1.2zM106.8 426.9h1.2v1.2h-1.2zM104.1 441.4h1.2v1.2h-1.2zM108.6 424.6h1.2v1.2h-1.2zM101.0 432.2h1.2v1.2h-1.2zM101.9 437.1h1.2v1.2h-1.2zM100.4 424.6h1.2v1.2h-1.2zM98.9 420.2h1.2v1.2h-1.2zM102.0 432.8h1.2v1.2h-1.2zM107.6 437.3h1.2v1.2h-1.2zM102.4 424.0h1.2v1.2h-1.2zM108.9 432.0h1.2v1.2h-1.2zM97.9 431.4h1.2v1.2h-1.2zM103.2 437.6h1.2v1.2h-1.2zM99.3 429.3h1.2v1.2h-1.2zM108.2 422.7h1.2v1.2h-1.2zM98.8 434.0h1.2v1.2h-1.2zM101.3 432.9h1.2v1.2h-1.2zM103.2 436.7h1.2v1.2h-1.2zM102.3 432.6h1.2v1.2h-1.2zM108.9 434.6h1.2v1.2h-1.2zM100.8 427.0h1.2v1.2h-1.2zM102.6 432.2h1.2v1.2h-1.2zM96.1 431.4h1.2v1.2h-1.2zM108.9 431.9h1.2v1.2h-1.2zM96.8 433.4h1.2v1.2h-1.2zM103.3 430.1h1.2v1.2h-1.2zM108.7 426.3h1.2v1.2h-1.2zM101.8 429.1h1.2v1.2h-1.2zM107.2 431.4h1.2v1.2h-1.2zM106.8 430.3h1.2v1.2h-1.2zM108.8 427.1h1.2v1.2h-1.2zM109.7 427.8h1.2v1.2h-1.2zM114.5 443.6h1.2v1.2h-1.2zM120.9 439.8h1.2v1.2h-1.2zM115.5 441.5h1.2v1.2h-1.2zM117.1 437.6h1.2v1.2h-1.2zM117.1 439.8h1.2v1.2h-1.2zM117.4 443.2h1.2v1.2h-1.2zM116.2 435.7h1.2v1.2h-1.2zM118.6 447.8h1.2v1.2h-1.2zM109.5 442.6h1.2v1.2h-1.2zM115.5 440.8h1.2v1.2h-1.2zM119.2 443.0h1.2v1.2h-1.2zM122.6 440.8h1.2v1.2h-1.2zM117.5 446.5h1.2v1.2h-1.2zM112.5 439.7h1.2v1.2h-1.2zM119.0 440.4h1.2v1.2h-1.2zM110.6 436.7h1.2v1.2h-1.2zM120.0 435.2h1.2v1.2h-1.2zM112.0 443.0h1.2v1.2h-1.2zM110.0 436.9h1.2v1.2h-1.2zM118.6 443.1h1.2v1.2h-1.2zM120.4 448.1h1.2v1.2h-1.2zM120.2 438.2h1.2v1.2h-1.2zM119.1 448.8h1.2v1.2h-1.2zM118.7 445.3h1.2v1.2h-1.2zM115.1 444.8h1.2v1.2h-1.2zM117.3 446.0h1.2v1.2h-1.2zM122.2 439.2h1.2v1.2h-1.2zM113.2 441.6h1.2v1.2h-1.2zM122.7 445.5h1.2v1.2h-1.2zM115.3 446.3h1.2v1.2h-1.2zM111.4 438.4h1.2v1.2h-1.2zM114.1 434.4h1.2v1.2h-1.2zM123.3 437.5h1.2v1.2h-1.2zM128.8 443.2h1.2v1.2h-1.2zM115.6 441.4h1.2v1.2h-1.2zM119.7 442.1h1.2v1.2h-1.2zM118.2 443.8h1.2v1.2h-1.2zM119.0 444.8h1.2v1.2h-1.2zM122.1 444.2h1.2v1.2h-1.2zM124.6 445.4h1.2v1.2h-1.2zM116.5 437.7h1.2v1.2h-1.2zM100.3 444.1h1.2v1.2h-1.2zM117.2 445.1h1.2v1.2h-1.2zM123.7 441.6h1.2v1.2h-1.2zM116.7 443.6h1.2v1.2h-1.2zM129.8 443.9h1.2v1.2h-1.2zM125.9 441.3h1.2v1.2h-1.2zM123.5 441.0h1.2v1.2h-1.2zM110.6 443.1h1.2v1.2h-1.2zM123.3 446.2h1.2v1.2h-1.2zM125.4 448.5h1.2v1.2h-1.2zM117.5 438.4h1.2v1.2h-1.2zM119.4 437.6h1.2v1.2h-1.2zM115.1 438.3h1.2v1.2h-1.2zM108.0 443.6h1.2v1.2h-1.2zM122.6 435.9h1.2v1.2h-1.2zM125.2 441.5h1.2v1.2h-1.2zM117.1 443.5h1.2v1.2h-1.2zM123.2 441.7h1.2v1.2h-1.2zM123.5 446.3h1.2v1.2h-1.2zM117.5 438.7h1.2v1.2h-1.2zM113.5 442.5h1.2v1.2h-1.2zM115.4 438.4h1.2v1.2h-1.2zM113.3 437.4h1.2v1.2h-1.2zM120.2 446.3h1.2v1.2h-1.2zM117.0 431.3h1.2v1.2h-1.2zM116.5 432.3h1.2v1.2h-1.2zM128.7 446.9h1.2v1.2h-1.2zM122.0 448.8h1.2v1.2h-1.2zM125.5 448.1h1.2v1.2h-1.2zM111.8 446.1h1.2v1.2h-1.2zM123.1 430.8h1.2v1.2h-1.2zM114.4 443.8h1.2v1.2h-1.2zM118.8 431.3h1.2v1.2h-1.2zM127.7 432.0h1.2v1.2h-1.2zM111.0 449.9h1.2v1.2h-1.2zM114.6 430.3h1.2v1.2h-1.2zM113.9 439.3h1.2v1.2h-1.2zM119.0 430.0h1.2v1.2h-1.2zM123.4 435.8h1.2v1.2h-1.2zM128.3 449.2h1.2v1.2h-1.2zM116.4 444.2h1.2v1.2h-1.2zM120.8 443.5h1.2v1.2h-1.2zM124.3 440.1h1.2v1.2h-1.2zM110.7 447.2h1.2v1.2h-1.2zM117.9 438.7h1.2v1.2h-1.2zM110.8 440.2h1.2v1.2h-1.2zM121.4 435.9h1.2v1.2h-1.2zM117.7 439.4h1.2v1.2h-1.2zM123.0 439.1h1.2v1.2h-1.2zM113.2 447.6h1.2v1.2h-1.2zM125.3 444.6h1.2v1.2h-1.2zM109.3 442.3h1.2v1.2h-1.2zM111.4 436.0h1.2v1.2h-1.2zM115.0 436.9h1.2v1.2h-1.2zM121.9 436.5h1.2v1.2h-1.2zM118.8 436.3h1.2v1.2h-1.2zM111.4 443.0h1.2v1.2h-1.2zM119.7 435.7h1.2v1.2h-1.2zM126.1 437.4h1.2v1.2h-1.2zM112.0 421.4h1.2v1.2h-1.2zM114.6 422.9h1.2v1.2h-1.2zM115.6 426.4h1.2v1.2h-1.2zM115.0 418.4h1.2v1.2h-1.2zM109.6 423.2h1.2v1.2h-1.2zM117.5 424.9h1.2v1.2h-1.2zM121.9 417.9h1.2v1.2h-1.2zM121.4 422.0h1.2v1.2h-1.2zM110.9 418.7h1.2v1.2h-1.2zM130.2 442.0h1.2v1.2h-1.2zM134.9 449.4h1.2v1.2h-1.2zM114.3 435.2h1.2v1.2h-1.2z"/>
<path fill="#382ca4" d="M104.2 439.8h1.2v1.2h-1.2zM110.6 444.8h1.2v1.2h-1.2zM104.6 418.2h1.2v1.2h-1.2zM101.6 443.0h1.2v1.2h-1.2zM108.0 422.2h1.2v1.2h-1.2zM97.4 438.9h1.2v1.2h-1.2zM105.6 425.4h1.2v1.2h-1.2zM107.0 433.1h1.2v1.2h-1.2zM106.5 435.3h1.2v1.2h-1.2zM104.9 421.2h1.2v1.2h-1.2zM101.1 417.2h1.2v1.2h-1.2zM99.6 443.3h1.2v1.2h-1.2zM108.7 430.1h1.2v1.2h-1.2zM103.0 439.4h1.2v1.2h-1.2zM104.0 442.5h1.2v1.2h-1.2zM104.0 425.3h1.2v1.2h-1.2zM104.1 435.1h1.2v1.2h-1.2zM107.8 447.0h1.2v1.2h-1.2zM99.1 433.3h1.2v1.2h-1.2zM102.3 446.4h1.2v1.2h-1.2zM95.7 440.6h1.2v1.2h-1.2zM101.6 438.0h1.2v1.2h-1.2zM97.3 419.7h1.2v1.2h-1.2zM101.5 412.8h1.2v1.2h-1.2zM101.7 440.7h1.2v1.2h-1.2zM110.6 434.0h1.2v1.2h-1.2zM105.1 419.7h1.2v1.2h-1.2zM102.1 431.2h1.2v1.2h-1.2zM106.9 445.1h1.2v1.2h-1.2zM106.5 432.7h1.2v1.2h-1.2zM96.9 427.1h1.2v1.2h-1.2zM99.6 450.8h1.2v1.2h-1.2zM102.4 425.4h1.2v1.2h-1.2zM102.8 411.3h1.2v1.2h-1.2zM102.9 449.9h1.2v1.2h-1.2zM97.3 436.1h1.2v1.2h-1.2zM110.3 411.9h1.2v1.2h-1.2zM95.6 427.4h1.2v1.2h-1.2zM105.4 441.0h1.2v1.2h-1.2zM104.1 428.3h1.2v1.2h-1.2zM99.7 431.0h1.2v1.2h-1.2zM98.0 444.5h1.2v1.2h-1.2zM107.7 440.7h1.2v1.2h-1.2zM95.7 444.4h1.2v1.2h-1.2zM106.4 439.9h1.2v1.2h-1.2zM97.3 423.5h1.2v1.2h-1.2zM104.0 418.3h1.2v1.2h-1.2zM95.3 436.7h1.2v1.2h-1.2zM106.6 446.5h1.2v1.2h-1.2zM106.4 439.0h1.2v1.2h-1.2zM107.2 446.3h1.2v1.2h-1.2zM108.8 447.0h1.2v1.2h-1.2zM108.1 437.9h1.2v1.2h-1.2zM104.0 448.7h1.2v1.2h-1.2zM99.4 418.9h1.2v1.2h-1.2zM96.5 445.7h1.2v1.2h-1.2zM98.1 420.3h1.2v1.2h-1.2zM109.3 415.9h1.2v1.2h-1.2zM97.4 446.3h1.2v1.2h-1.2zM104.1 421.6h1.2v1.2h-1.2zM100.9 435.4h1.2v1.2h-1.2zM95.4 435.9h1.2v1.2h-1.2zM101.6 425.6h1.2v1.2h-1.2zM98.2 421.8h1.2v1.2h-1.2zM106.6 432.8h1.2v1.2h-1.2zM100.6 430.9h1.2v1.2h-1.2zM102.6 434.1h1.2v1.2h-1.2zM105.0 433.9h1.2v1.2h-1.2zM101.0 436.1h1.2v1.2h-1.2zM96.8 434.5h1.2v1.2h-1.2zM108.4 432.8h1.2v1.2h-1.2zM99.4 439.2h1.2v1.2h-1.2zM100.2 427.1h1.2v1.2h-1.2zM99.7 427.6h1.2v1.2h-1.2zM104.8 428.2h1.2v1.2h-1.2zM103.7 424.9h1.2v1.2h-1.2zM101.6 429.1h1.2v1.2h-1.2zM94.1 428.3h1.2v1.2h-1.2zM108.5 417.1h1.2v1.2h-1.2zM104.2 435.3h1.2v1.2h-1.2zM97.3 435.2h1.2v1.2h-1.2zM105.3 433.7h1.2v1.2h-1.2zM96.9 427.3h1.2v1.2h-1.2zM92.8 422.6h1.2v1.2h-1.2zM103.7 420.2h1.2v1.2h-1.2zM107.4 426.5h1.2v1.2h-1.2zM103.0 434.0h1.2v1.2h-1.2zM100.2 426.3h1.2v1.2h-1.2zM103.5 433.2h1.2v1.2h-1.2zM103.8 428.2h1.2v1.2h-1.2zM105.4 433.2h1.2v1.2h-1.2zM98.0 424.7h1.2v1.2h-1.2zM102.1 426.9h1.2v1.2h-1.2zM102.6 434.2h1.2v1.2h-1.2zM97.5 431.1h1.2v1.2h-1.2zM97.5 427.3h1.2v1.2h-1.2zM96.5 427.2h1.2v1.2h-1.2zM105.5 428.9h1.2v1.2h-1.2zM103.6 437.5h1.2v1.2h-1.2zM110.4 424.5h1.2v1.2h-1.2zM102.2 428.0h1.2v1.2h-1.2zM98.8 432.4h1.2v1.2h-1.2zM103.7 422.4h1.2v1.2h-1.2zM103.9 427.9h1.2v1.2h-1.2zM96.6 438.1h1.2v1.2h-1.2zM104.1 429.7h1.2v1.2h-1.2zM94.5 428.7h1.2v1.2h-1.2zM102.2 433.9h1.2v1.2h-1.2zM101.5 429.9h1.2v1.2h-1.2zM102.5 426.4h1.2v1.2h-1.2zM102.1 439.8h1.2v1.2h-1.2zM102.0 440.4h1.2v1.2h-1.2zM105.3 416.5h1.2v1.2h-1.2zM98.4 430.5h1.2v1.2h-1.2zM99.4 433.2h1.2v1.2h-1.2zM99.3 433.5h1.2v1.2h-1.2zM101.5 426.3h1.2v1.2h-1.2zM103.3 427.8h1.2v1.2h-1.2zM102.9 427.7h1.2v1.2h-1.2zM99.0 429.2h1.2v1.2h-1.2zM105.4 433.1h1.2v1.2h-1.2zM97.7 435.2h1.2v1.2h-1.2zM108.5 428.9h1.2v1.2h-1.2zM103.0 432.9h1.2v1.2h-1.2zM105.3 430.5h1.2v1.2h-1.2zM103.2 434.8h1.2v1.2h-1.2zM105.3 438.7h1.2v1.2h-1.2zM117.6 442.4h1.2v1.2h-1.2zM125.2 444.2h1.2v1.2h-1.2zM113.4 449.9h1.2v1.2h-1.2zM104.2 446.9h1.2v1.2h-1.2zM116.7 441.2h1.2v1.2h-1.2zM108.6 446.1h1.2v1.2h-1.2zM120.0 432.8h1.2v1.2h-1.2zM113.0 442.8h1.2v1.2h-1.2zM114.3 440.3h1.2v1.2h-1.2zM119.0 442.7h1.2v1.2h-1.2zM114.7 437.6h1.2v1.2h-1.2zM125.6 437.8h1.2v1.2h-1.2zM116.6 447.5h1.2v1.2h-1.2zM115.7 444.3h1.2v1.2h-1.2zM117.3 447.5h1.2v1.2h-1.2zM118.4 445.9h1.2v1.2h-1.2zM108.9 447.5h1.2v1.2h-1.2zM119.4 446.8h1.2v1.2h-1.2zM119.6 435.9h1.2v1.2h-1.2zM113.7 443.1h1.2v1.2h-1.2zM121.8 442.4h1.2v1.2h-1.2zM111.6 442.8h1.2v1.2h-1.2zM120.6 440.5h1.2v1.2h-1.2zM117.5 444.8h1.2v1.2h-1.2zM117.5 443.4h1.2v1.2h-1.2zM115.8 435.6h1.2v1.2h-1.2zM119.2 436.7h1.2v1.2h-1.2zM120.7 435.7h1.2v1.2h-1.2zM116.1 444.2h1.2v1.2h-1.2zM126.7 438.5h1.2v1.2h-1.2zM118.0 444.3h1.2v1.2h-1.2zM121.7 440.2h1.2v1.2h-1.2zM121.2 438.6h1.2v1.2h-1.2zM114.5 435.0h1.2v1.2h-1.2zM118.7 449.0h1.2v1.2h-1.2zM111.4 446.3h1.2v1.2h-1.2zM116.5 428.4h1.2v1.2h-1.2zM119.9 440.3h1.2v1.2h-1.2zM124.5 441.4h1.2v1.2h-1.2zM113.0 433.9h1.2v1.2h-1.2zM119.9 450.0h1.2v1.2h-1.2zM117.1 439.7h1.2v1.2h-1.2zM118.5 445.0h1.2v1.2h-1.2zM112.4 447.4h1.2v1.2h-1.2zM117.5 435.9h1.2v1.2h-1.2zM118.6 444.0h1.2v1.2h-1.2zM113.5 447.8h1.2v1.2h-1.2zM123.1 445.4h1.2v1.2h-1.2zM123.9 439.1h1.2v1.2h-1.2zM119.1 442.6h1.2v1.2h-1.2zM113.1 437.9h1.2v1.2h-1.2zM107.8 444.8h1.2v1.2h-1.2zM112.8 439.9h1.2v1.2h-1.2zM102.8 435.0h1.2v1.2h-1.2zM120.2 435.2h1.2v1.2h-1.2zM112.5 445.0h1.2v1.2h-1.2zM109.3 443.7h1.2v1.2h-1.2zM113.8 435.0h1.2v1.2h-1.2zM110.2 435.7h1.2v1.2h-1.2zM123.4 446.6h1.2v1.2h-1.2zM122.7 436.7h1.2v1.2h-1.2zM111.4 443.2h1.2v1.2h-1.2zM124.2 450.8h1.2v1.2h-1.2zM120.5 439.6h1.2v1.2h-1.2zM123.0 437.3h1.2v1.2h-1.2zM114.0 435.8h1.2v1.2h-1.2zM116.3 444.5h1.2v1.2h-1.2zM112.6 440.9h1.2v1.2h-1.2zM121.7 437.1h1.2v1.2h-1.2zM125.5 437.1h1.2v1.2h-1.2zM114.6 449.0h1.2v1.2h-1.2zM110.0 432.8h1.2v1.2h-1.2zM116.8 437.3h1.2v1.2h-1.2zM117.3 446.8h1.2v1.2h-1.2zM117.1 450.3h1.2v1.2h-1.2zM115.2 442.6h1.2v1.2h-1.2zM122.5 434.2h1.2v1.2h-1.2zM118.5 442.5h1.2v1.2h-1.2zM122.3 443.3h1.2v1.2h-1.2zM126.3 446.6h1.2v1.2h-1.2zM109.2 435.6h1.2v1.2h-1.2zM118.8 419.0h1.2v1.2h-1.2zM115.8 423.9h1.2v1.2h-1.2zM120.6 423.4h1.2v1.2h-1.2zM120.7 424.2h1.2v1.2h-1.2zM114.6 428.4h1.2v1.2h-1.2zM120.0 429.0h1.2v1.2h-1.2zM111.5 416.1h1.2v1.2h-1.2zM120.3 420.9h1.2v1.2h-1.2zM119.8 419.9h1.2v1.2h-1.2zM124.5 419.3h1.2v1.2h-1.2zM119.3 417.1h1.2v1.2h-1.2zM110.9 419.7h1.2v1.2h-1.2zM132.7 433.5h1.2v1.2h-1.2zM118.7 431.5h1.2v1.2h-1.2z"/>
<path fill="#4a44bc" d="M106.0 442.6h1.2v1.2h-1.2zM110.5 415.1h1.2v1.2h-1.2zM105.7 422.7h1.2v1.2h-1.2zM108.3 417.9h1.2v1.2h-1.2zM102.4 426.8h1.2v1.2h-1.2zM100.1 420.2h1.2v1.2h-1.2zM95.6 445.7h1.2v1.2h-1.2zM109.5 426.3h1.2v1.2h-1.2zM95.1 420.8h1.2v1.2h-1.2zM102.3 437.4h1.2v1.2h-1.2zM110.4 431.1h1.2v1.2h-1.2zM95.7 436.9h1.2v1.2h-1.2zM99.8 424.3h1.2v1.2h-1.2zM107.9 433.8h1.2v1.2h-1.2zM99.4 448.1h1.2v1.2h-1.2zM99.1 441.5h1.2v1.2h-1.2zM103.3 435.4h1.2v1.2h-1.2zM110.9 413.6h1.2v1.2h-1.2zM103.0 450.8h1.2v1.2h-1.2zM102.9 436.3h1.2v1.2h-1.2zM108.0 433.2h1.2v1.2h-1.2zM108.0 425.4h1.2v1.2h-1.2zM107.1 440.7h1.2v1.2h-1.2zM97.7 450.8h1.2v1.2h-1.2zM98.0 443.0h1.2v1.2h-1.2zM96.8 435.8h1.2v1.2h-1.2zM107.8 449.8h1.2v1.2h-1.2zM95.0 439.6h1.2v1.2h-1.2zM95.4 437.9h1.2v1.2h-1.2zM97.7 411.6h1.2v1.2h-1.2zM97.2 429.8h1.2v1.2h-1.2zM98.8 430.6h1.2v1.2h-1.2zM100.6 430.6h1.2v1.2h-1.2zM105.4 426.9h1.2v1.2h-1.2zM100.0 414.3h1.2v1.2h-1.2zM108.9 420.5h1.2v1.2h-1.2zM108.8 426.6h1.2v1.2h-1.2zM110.2 443.4h1.2v1.2h-1.2zM97.7 430.7h1.2v1.2h-1.2zM107.6 436.5h1.2v1.2h-1.2zM107.4 418.6h1.2v1.2h-1.2zM110.7 426.0h1.2v1.2h-1.2zM97.6 422.7h1.2v1.2h-1.2zM96.3 418.2h1.2v1.2h-1.2zM99.8 433.3h1.2v1.2h-1.2zM99.9 418.4h1.2v1.2h-1.2zM98.6 415.8h1.2v1.2h-1.2zM100.5 450.9h1.2v1.2h-1.2zM99.0 443.8h1.2v1.2h-1.2zM100.4 428.7h1.2v1.2h-1.2zM102.7 441.3h1.2v1.2h-1.2zM106.8 413.4h1.2v1.2h-1.2zM110.8 415.2h1.2v1.2h-1.2zM96.1 418.9h1.2v1.2h-1.2zM97.2 434.4h1.2v1.2h-1.2zM110.9 442.7h1.2v1.2h-1.2zM104.3 447.0h1.2v1.2h-1.2zM98.0 428.3h1.2v1.2h-1.2zM96.5 412.6h1.2v1.2h-1.2zM105.7 418.6h1.2v1.2h-1.2zM97.4 442.7h1.2v1.2h-1.2zM96.3 446.7h1.2v1.2h-1.2zM99.9 438.5h1.2v1.2h-1.2zM98.0 414.1h1.2v1.2h-1.2zM96.5 430.5h1.2v1.2h-1.2zM95.5 450.2h1.2v1.2h-1.2zM101.4 433.2h1.2v1.2h-1.2zM102.9 420.7h1.2v1.2h-1.2zM99.0 425.5h1.2v1.2h-1.2zM95.8 431.6h1.2v1.2h-1.2zM105.7 436.8h1.2v1.2h-1.2zM99.0 429.5h1.2v1.2h-1.2zM96.9 445.4h1.2v1.2h-1.2zM109.7 439.5h1.2v1.2h-1.2zM97.9 443.7h1.2v1.2h-1.2zM99.4 414.6h1.2v1.2h-1.2zM95.6 434.4h1.2v1.2h-1.2zM107.1 429.5h1.2v1.2h-1.2zM97.1 432.1h1.2v1.2h-1.2zM100.8 426.5h1.2v1.2h-1.2zM95.4 426.8h1.2v1.2h-1.2zM100.1 442.3h1.2v1.2h-1.2zM110.3 447.2h1.2v1.2h-1.2zM110.2 412.6h1.2v1.2h-1.2zM101.4 447.8h1.2v1.2h-1.2zM110.8 446.6h1.2v1.2h-1.2zM104.9 423.5h1.2v1.2h-1.2zM103.2 443.3h1.2v1.2h-1.2zM112.5 433.2h1.2v1.2h-1.2zM99.6 419.9h1.2v1.2h-1.2zM96.4 438.9h1.2v1.2h-1.2zM102.4 429.2h1.2v1.2h-1.2zM102.0 429.7h1.2v1.2h-1.2zM106.6 431.5h1.2v1.2h-1.2zM102.1 426.2h1.2v1.2h-1.2zM98.7 426.5h1.2v1.2h-1.2zM110.6 437.4h1.2v1.2h-1.2zM103.0 437.3h1.2v1.2h-1.2zM105.4 425.1h1.2v1.2h-1.2zM102.6 434.3h1.2v1.2h-1.2zM96.9 435.3h1.2v1.2h-1.2zM100.4 432.1h1.2v1.2h-1.2zM98.6 430.9h1.2v1.2h-1.2zM97.9 430.9h1.2v1.2h-1.2zM102.7 431.9h1.2v1.2h-1.2zM100.8 425.4h1.2v1.2h-1.2zM104.0 438.8h1.2v1.2h-1.2zM102.2 421.6h1.2v1.2h-1.2zM105.9 418.7h1.2v1.2h-1.2zM112.6 426.9h1.2v1.2h-1.2zM103.4 428.7h1.2v1.2h-1.2zM101.9 434.2h1.2v1.2h-1.2zM107.5 425.7h1.2v1.2h-1.2zM105.6 428.4h1.2v1.2h-1.2zM108.2 426.2h1.2v1.2h-1.2zM103.2 424.9h1.2v1.2h-1.2zM108.7 428.6h1.2v1.2h-1.2zM109.6 429.4h1.2v1.2h-1.2zM101.0 432.6h1.2v1.2h-1.2zM111.1 434.8h1.2v1.2h-1.2zM105.1 429.7h1.2v1.2h-1.2zM108.6 431.4h1.2v1.2h-1.2zM102.3 430.8h1.2v1.2h-1.2zM106.3 435.1h1.2v1.2h-1.2zM103.7 427.3h1.2v1.2h-1.2zM103.4 427.8h1.2v1.2h-1.2zM98.9 430.3h1.2v1.2h-1.2zM104.8 431.8h1.2v1.2h-1.2zM109.1 433.2h1.2v1.2h-1.2zM97.7 432.7h1.2v1.2h-1.2zM109.0 434.4h1.2v1.2h-1.2zM98.7 430.4h1.2v1.2h-1.2zM98.3 430.8h1.2v1.2h-1.2zM106.1 435.9h1.2v1.2h-1.2zM96.9 430.3h1.2v1.2h-1.2zM107.5 433.1h1.2v1.2h-1.2zM105.8 426.7h1.2v1.2h-1.2zM96.6 426.7h1.2v1.2h-1.2zM104.0 434.3h1.2v1.2h-1.2zM106.8 426.9h1.2v1.2h-1.2zM108.6 426.9h1.2v1.2h-1.2zM98.7 433.0h1.2v1.2h-1.2zM97.0 435.4h1.2v1.2h-1.2zM108.2 428.5h1.2v1.2h-1.2zM104.4 434.0h1.2v1.2h-1.2zM97.6 427.2h1.2v1.2h-1.2zM106.9 434.5h1.2v1.2h-1.2zM113.2 445.3h1.2v1.2h-1.2zM114.5 447.0h1.2v1.2h-1.2zM122.6 442.5h1.2v1.2h-1.2zM119.0 439.3h1.2v1.2h-1.2zM113.5 434.1h1.2v1.2h-1.2zM129.1 441.0h1.2v1.2h-1.2zM117.6 442.9h1.2v1.2h-1.2zM117.1 444.8h1.2v1.2h-1.2zM117.1 432.6h1.2v1.2h-1.2zM119.8 447.7h1.2v1.2h-1.2zM125.2 440.8h1.2v1.2h-1.2zM121.6 436.7h1.2v1.2h-1.2zM118.3 442.6h1.2v1.2h-1.2zM112.4 441.0h1.2v1.2h-1.2zM120.1 436.6h1.2v1.2h-1.2zM112.8 443.1h1.2v1.2h-1.2zM118.4 448.2h1.2v1.2h-1.2zM113.7 441.1h1.2v1.2h-1.2zM113.2 445.8h1.2v1.2h-1.2zM115.9 449.5h1.2v1.2h-1.2zM116.0 438.3h1.2v1.2h-1.2zM112.6 445.3h1.2v1.2h-1.2zM115.6 442.5h1.2v1.2h-1.2zM119.4 440.1h1.2v1.2h-1.2zM115.9 445.3h1.2v1.2h-1.2zM118.4 436.4h1.2v1.2h-1.2zM110.0 449.8h1.2v1.2h-1.2zM130.2 440.6h1.2v1.2h-1.2zM117.7 443.7h1.2v1.2h-1.2zM123.3 444.4h1.2v1.2h-1.2zM116.6 443.4h1.2v1.2h-1.2zM121.3 441.0h1.2v1.2h-1.2zM109.5 432.8h1.2v1.2h-1.2zM114.6 442.8h1.2v1.2h-1.2zM117.3 441.6h1.2v1.2h-1.2zM106.7 442.8h1.2v1.2h-1.2zM111.5 436.2h1.2v1.2h-1.2zM120.9 444.2h1.2v1.2h-1.2zM113.4 435.5h1.2v1.2h-1.2zM126.5 438.3h1.2v1.2h-1.2zM113.8 443.9h1.2v1.2h-1.2zM114.2 439.4h1.2v1.2h-1.2zM120.8 442.7h1.2v1.2h-1.2zM114.8 441.5h1.2v1.2h-1.2zM119.5 440.6h1.2v1.2h-1.2zM120.0 443.0h1.2v1.2h-1.2zM120.4 442.3h1.2v1.2h-1.2zM122.4 447.7h1.2v1.2h-1.2zM125.2 442.7h1.2v1.2h-1.2zM122.4 437.8h1.2v1.2h-1.2zM119.0 442.3h1.2v1.2h-1.2zM129.3 439.6h1.2v1.2h-1.2zM112.3 445.9h1.2v1.2h-1.2zM117.3 443.8h1.2v1.2h-1.2zM117.5 439.2h1.2v1.2h-1.2zM111.3 439.8h1.2v1.2h-1.2zM106.2 445.9h1.2v1.2h-1.2zM112.0 449.3h1.2v1.2h-1.2zM118.9 443.9h1.2v1.2h-1.2zM118.7 448.6h1.2v1.2h-1.2zM117.0 439.8h1.2v1.2h-1.2zM105.8 444.4h1.2v1.2h-1.2zM112.5 437.9h1.2v1.2h-1.2zM112.0 432.3h1.2v1.2h-1.2zM113.5 450.4h1.2v1.2h-1.2zM111.2 440.1h1.2v1.2h-1.2zM116.3 439.8h1.2v1.2h-1.2zM113.4 433.5h1.2v1.2h-1.2zM114.2 436.0h1.2v1.2h-1.2zM122.1 446.9h1.2v1.2h-1.2zM112.5 430.3h1.2v1.2h-1.2zM110.5 430.8h1.2v1.2h-1.2zM122.3 437.3h1.2v1.2h-1.2zM117.2 437.0h1.2v1.2h-1.2zM125.3 440.1h1.2v1.2h-1.2zM112.4 442.1h1.2v1.2h-1.2zM111.3 435.8h1.2v1.2h-1.2zM109.9 447.0h1.2v1.2h-1.2zM122.6 436.4h1.2v1.2h-1.2zM119.9 443.8h1.2v1.2h-1.2zM120.2 449.8h1.2v1.2h-1.2zM122.9 442.7h1.2v1.2h-1.2zM127.9 439.1h1.2v1.2h-1.2zM118.0 445.5h1.2v1.2h-1.2zM122.5 435.7h1.2v1.2h-1.2zM123.8 443.7h1.2v1.2h-1.2zM115.6 418.2h1.2v1.2h-1.2zM111.2 423.7h1.2v1.2h-1.2zM119.7 425.1h1.2v1.2h-1.2zM120.3 417.1h1.2v1.2h-1.2zM108.5 416.4h1.2v1.2h-1.2zM129.0 419.2h1.2v1.2h-1.2zM118.1 419.9h1.2v1.2h-1.2zM114.7 418.8h1.2v1.2h-1.2zM118.6 424.9h1.2v1.2h-1.2zM111.9 416.7h1.2v1.2h-1.2zM119.5 424.4h1.2v1.2h-1.2zM120.3 417.3h1.2v1.2h-1.2zM110.7 422.9h1.2v1.2h-1.2zM119.6 416.7h1.2v1.2h-1.2zM132.1 416.8h1.2v1.2h-1.2zM131.2 430.6h1.2v1.2h-1.2zM130.7 449.4h1.2v1.2h-1.2z"/>
<path fill="#2c2094" d="M103.7 429.1h1.2v1.2h-1.2zM109.6 448.7h1.2v1.2h-1.2zM97.4 443.7h1.2v1.2h-1.2zM104.7 416.9h1.2v1.2h-1.2zM100.2 434.0h1.2v1.2h-1.2zM100.8 444.6h1.2v1.2h-1.2zM104.5 438.7h1.2v1.2h-1.2zM109.8 439.3h1.2v1.2h-1.2zM103.6 439.3h1.2v1.2h-1.2zM96.9 449.4h1.2v1.2h-1.2zM109.9 438.0h1.2v1.2h-1.2zM109.9 434.7h1.2v1.2h-1.2zM101.1 445.3h1.2v1.2h-1.2zM107.0 443.9h1.2v1.2h-1.2zM109.2 415.7h1.2v1.2h-1.2zM105.3 443.0h1.2v1.2h-1.2zM109.8 450.6h1.2v1.2h-1.2zM102.6 419.8h1.2v1.2h-1.2zM103.7 441.1h1.2v1.2h-1.2zM100.1 418.8h1.2v1.2h-1.2zM100.1 447.4h1.2v1.2h-1.2zM106.0 443.7h1.2v1.2h-1.2zM104.6 423.6h1.2v1.2h-1.2zM106.3 427.1h1.2v1.2h-1.2zM106.3 445.4h1.2v1.2h-1.2zM96.7 428.9h1.2v1.2h-1.2zM96.0 447.9h1.2v1.2h-1.2zM104.6 449.7h1.2v1.2h-1.2zM96.3 433.2h1.2v1.2h-1.2zM100.4 414.7h1.2v1.2h-1.2zM101.7 422.6h1.2v1.2h-1.2zM105.1 440.5h1.2v1.2h-1.2zM100.0 443.8h1.2v1.2h-1.2zM96.1 424.3h1.2v1.2h-1.2zM95.6 433.8h1.2v1.2h-1.2zM103.3 430.5h1.2v1.2h-1.2zM98.6 419.5h1.2v1.2h-1.2zM103.1 447.1h1.2v1.2h-1.2zM109.5 444.7h1.2v1.2h-1.2zM96.3 437.9h1.2v1.2h-1.2zM104.1 432.4h1.2v1.2h-1.2zM105.6 424.3h1.2v1.2h-1.2zM108.1 432.1h1.2v1.2h-1.2zM110.7 445.2h1.2v1.2h-1.2zM98.7 448.1h1.2v1.2h-1.2zM104.3 418.5h1.2v1.2h-1.2zM102.5 426.7h1.2v1.2h-1.2zM97.7 449.4h1.2v1.2h-1.2zM100.9 424.6h1.2v1.2h-1.2zM98.3 435.0h1.2v1.2h-1.2zM97.4 435.6h1.2v1.2h-1.2zM102.7 416.2h1.2v1.2h-1.2zM105.3 432.6h1.2v1.2h-1.2zM97.7 441.6h1.2v1.2h-1.2zM102.1 437.7h1.2v1.2h-1.2zM99.1 436.5h1.2v1.2h-1.2zM108.6 433.9h1.2v1.2h-1.2zM95.3 412.2h1.2v1.2h-1.2zM99.9 441.3h1.2v1.2h-1.2zM98.6 432.6h1.2v1.2h-1.2zM98.1 432.6h1.2v1.2h-1.2zM104.7 442.1h1.2v1.2h-1.2zM98.6 447.8h1.2v1.2h-1.2zM99.6 439.5h1.2v1.2h-1.2zM95.5 421.1h1.2v1.2h-1.2zM102.5 442.1h1.2v1.2h-1.2zM107.2 425.4h1.2v1.2h-1.2zM102.5 427.8h1.2v1.2h-1.2zM102.8 429.7h1.2v1.2h-1.2zM102.4 430.9h1.2v1.2h-1.2zM104.4 431.0h1.2v1.2h-1.2zM100.0 432.5h1.2v1.2h-1.2zM104.7 422.1h1.2v1.2h-1.2zM108.0 436.3h1.2v1.2h-1.2zM109.1 436.0h1.2v1.2h-1.2zM104.4 432.1h1.2v1.2h-1.2zM108.6 435.3h1.2v1.2h-1.2zM102.8 433.4h1.2v1.2h-1.2zM102.9 427.5h1.2v1.2h-1.2zM101.2 435.2h1.2v1.2h-1.2zM102.2 432.8h1.2v1.2h-1.2zM103.3 424.5h1.2v1.2h-1.2zM106.4 433.3h1.2v1.2h-1.2zM109.5 426.1h1.2v1.2h-1.2zM107.4 433.3h1.2v1.2h-1.2zM94.4 433.9h1.2v1.2h-1.2zM102.8 429.5h1.2v1.2h-1.2zM99.0 424.0h1.2v1.2h-1.2zM96.7 423.9h1.2v1.2h-1.2zM101.3 433.5h1.2v1.2h-1.2zM99.7 428.4h1.2v1.2h-1.2zM105.1 440.1h1.2v1.2h-1.2zM104.1 431.1h1.2v1.2h-1.2zM110.2 433.3h1.2v1.2h-1.2zM103.0 433.9h1.2v1.2h-1.2zM101.9 445.9h1.2v1.2h-1.2zM107.0 443.5h1.2v1.2h-1.2zM100.9 432.1h1.2v1.2h-1.2zM98.5 431.5h1.2v1.2h-1.2zM102.2 428.2h1.2v1.2h-1.2zM95.4 431.8h1.2v1.2h-1.2zM92.4 436.2h1.2v1.2h-1.2zM102.0 436.6h1.2v1.2h-1.2zM105.8 432.9h1.2v1.2h-1.2zM107.6 435.6h1.2v1.2h-1.2zM100.4 425.5h1.2v1.2h-1.2zM105.8 432.9h1.2v1.2h-1.2zM97.4 432.8h1.2v1.2h-1.2zM108.0 430.9h1.2v1.2h-1.2zM97.5 427.4h1.2v1.2h-1.2zM102.4 439.8h1.2v1.2h-1.2zM101.2 428.5h1.2v1.2h-1.2zM93.7 426.6h1.2v1.2h-1.2zM100.9 430.0h1.2v1.2h-1.2zM105.1 437.9h1.2v1.2h-1.2zM95.8 428.0h1.2v1.2h-1.2zM105.4 422.6h1.2v1.2h-1.2zM107.7 430.0h1.2v1.2h-1.2zM106.4 431.6h1.2v1.2h-1.2zM103.8 434.6h1.2v1.2h-1.2zM98.9 435.4h1.2v1.2h-1.2zM100.7 431.0h1.2v1.2h-1.2zM102.3 434.1h1.2v1.2h-1.2zM97.4 434.1h1.2v1.2h-1.2zM110.0 431.3h1.2v1.2h-1.2zM101.3 431.2h1.2v1.2h-1.2zM102.1 427.1h1.2v1.2h-1.2zM107.4 432.1h1.2v1.2h-1.2zM106.0 431.5h1.2v1.2h-1.2zM107.3 426.4h1.2v1.2h-1.2zM101.8 426.3h1.2v1.2h-1.2zM96.9 427.9h1.2v1.2h-1.2zM115.5 431.3h1.2v1.2h-1.2zM129.8 442.4h1.2v1.2h-1.2zM125.1 434.1h1.2v1.2h-1.2zM116.0 442.8h1.2v1.2h-1.2zM124.2 448.1h1.2v1.2h-1.2zM107.9 442.3h1.2v1.2h-1.2zM117.9 445.4h1.2v1.2h-1.2zM124.0 450.3h1.2v1.2h-1.2zM110.9 437.0h1.2v1.2h-1.2zM120.8 448.1h1.2v1.2h-1.2zM113.4 446.9h1.2v1.2h-1.2zM116.1 435.0h1.2v1.2h-1.2zM111.6 441.7h1.2v1.2h-1.2zM122.2 441.3h1.2v1.2h-1.2zM119.6 438.6h1.2v1.2h-1.2zM116.0 434.5h1.2v1.2h-1.2zM114.8 446.5h1.2v1.2h-1.2zM111.8 444.1h1.2v1.2h-1.2zM125.7 441.3h1.2v1.2h-1.2zM118.1 447.7h1.2v1.2h-1.2zM116.3 435.9h1.2v1.2h-1.2zM116.8 438.7h1.2v1.2h-1.2zM118.8 444.6h1.2v1.2h-1.2zM120.5 444.9h1.2v1.2h-1.2zM119.7 444.5h1.2v1.2h-1.2zM115.4 439.3h1.2v1.2h-1.2zM120.6 443.0h1.2v1.2h-1.2zM117.4 446.5h1.2v1.2h-1.2zM114.7 438.5h1.2v1.2h-1.2zM107.6 433.9h1.2v1.2h-1.2zM110.1 434.2h1.2v1.2h-1.2zM117.2 436.1h1.2v1.2h-1.2zM121.7 449.4h1.2v1.2h-1.2zM114.6 436.2h1.2v1.2h-1.2zM111.9 441.3h1.2v1.2h-1.2zM130.1 443.0h1.2v1.2h-1.2zM119.0 436.1h1.2v1.2h-1.2zM124.2 442.3h1.2v1.2h-1.2zM113.9 441.6h1.2v1.2h-1.2zM125.3 446.3h1.2v1.2h-1.2zM119.8 449.2h1.2v1.2h-1.2zM123.0 442.3h1.2v1.2h-1.2zM124.8 440.6h1.2v1.2h-1.2zM107.4 433.0h1.2v1.2h-1.2zM108.9 441.9h1.2v1.2h-1.2zM115.5 447.3h1.2v1.2h-1.2zM115.1 437.1h1.2v1.2h-1.2zM126.2 439.7h1.2v1.2h-1.2zM115.8 443.8h1.2v1.2h-1.2zM113.2 445.9h1.2v1.2h-1.2zM120.7 445.6h1.2v1.2h-1.2zM129.7 442.7h1.2v1.2h-1.2zM129.3 449.3h1.2v1.2h-1.2zM116.7 434.2h1.2v1.2h-1.2zM110.5 446.5h1.2v1.2h-1.2zM115.8 450.0h1.2v1.2h-1.2zM118.5 443.0h1.2v1.2h-1.2zM114.8 434.5h1.2v1.2h-1.2zM124.5 437.7h1.2v1.2h-1.2zM115.5 434.3h1.2v1.2h-1.2zM117.7 442.5h1.2v1.2h-1.2zM121.8 443.9h1.2v1.2h-1.2zM118.6 440.5h1.2v1.2h-1.2zM125.3 437.3h1.2v1.2h-1.2zM111.9 436.3h1.2v1.2h-1.2zM109.7 440.7h1.2v1.2h-1.2zM109.7 440.6h1.2v1.2h-1.2zM108.5 448.5h1.2v1.2h-1.2zM116.8 449.6h1.2v1.2h-1.2zM119.5 448.1h1.2v1.2h-1.2zM123.9 436.0h1.2v1.2h-1.2zM128.7 450.6h1.2v1.2h-1.2zM121.2 444.0h1.2v1.2h-1.2zM109.6 440.1h1.2v1.2h-1.2zM119.4 444.7h1.2v1.2h-1.2zM115.4 445.5h1.2v1.2h-1.2zM118.3 447.6h1.2v1.2h-1.2zM115.9 436.8h1.2v1.2h-1.2zM120.8 443.3h1.2v1.2h-1.2zM110.2 433.4h1.2v1.2h-1.2zM128.4 446.5h1.2v1.2h-1.2zM127.1 442.6h1.2v1.2h-1.2zM110.6 442.7h1.2v1.2h-1.2zM124.6 441.0h1.2v1.2h-1.2zM114.7 447.4h1.2v1.2h-1.2zM119.5 434.4h1.2v1.2h-1.2zM122.0 434.1h1.2v1.2h-1.2zM117.2 439.9h1.2v1.2h-1.2zM120.4 439.5h1.2v1.2h-1.2zM127.1 431.5h1.2v1.2h-1.2zM128.2 450.8h1.2v1.2h-1.2zM116.7 431.8h1.2v1.2h-1.2zM117.7 433.4h1.2v1.2h-1.2zM111.4 445.2h1.2v1.2h-1.2zM117.4 429.3h1.2v1.2h-1.2zM117.7 423.1h1.2v1.2h-1.2zM117.8 420.9h1.2v1.2h-1.2zM124.2 421.0h1.2v1.2h-1.2z"/>
<g><ellipse cx="102.8" cy="431.0" rx="6.80" ry="7.00" fill="#3a34a6"/><ellipse cx="102.5" cy="421.8" rx="7.40" ry="10.00" fill="#3a34a6"/><ellipse cx="103.0" cy="440.1" rx="8.00" ry="10.00" fill="#3a34a6"/><ellipse cx="102.8" cy="431.0" rx="5.60" ry="6.00" fill="#4f7fd2"/><ellipse cx="102.5" cy="421.8" rx="6.50" ry="9.00" fill="#4f7fd2"/><ellipse cx="103.0" cy="440.1" rx="7.00" ry="9.00" fill="#4f7fd2"/><ellipse cx="102.8" cy="431.0" rx="4.60" ry="5.00" fill="#5ec3c8"/><ellipse cx="102.5" cy="421.8" rx="5.50" ry="8.00" fill="#5ec3c8"/><ellipse cx="103.0" cy="440.1" rx="6.00" ry="8.00" fill="#5ec3c8"/><ellipse cx="102.8" cy="431.0" rx="3.60" ry="4.20" fill="#62c24a"/><ellipse cx="102.5" cy="421.8" rx="4.60" ry="6.80" fill="#62c24a"/><ellipse cx="103.0" cy="440.1" rx="5.00" ry="6.80" fill="#62c24a"/><ellipse cx="102.5" cy="421.8" rx="3.90" ry="5.50" fill="#ece23a"/><ellipse cx="103.0" cy="440.1" rx="4.30" ry="5.50" fill="#ece23a"/><ellipse cx="102.5" cy="421.8" rx="3.20" ry="4.50" fill="#f5a02e"/><ellipse cx="103.0" cy="440.1" rx="3.60" ry="4.40" fill="#f5a02e"/><ellipse cx="102.5" cy="421.8" rx="2.50" ry="3.50" fill="#ec2c1c"/><ellipse cx="103.0" cy="440.1" rx="2.90" ry="3.50" fill="#ec2c1c"/></g>
<path fill="#5ec3c8" d="M101.4 433.2h1.2v1.2h-1.2zM102.4 434.7h1.2v1.2h-1.2zM106.6 427.9h1.2v1.2h-1.2zM103.2 432.3h1.2v1.2h-1.2zM105.7 426.9h1.2v1.2h-1.2zM102.0 430.0h1.2v1.2h-1.2zM102.5 432.3h1.2v1.2h-1.2zM101.9 432.1h1.2v1.2h-1.2zM101.1 426.1h1.2v1.2h-1.2zM100.0 426.9h1.2v1.2h-1.2zM102.8 427.9h1.2v1.2h-1.2zM107.0 432.2h1.2v1.2h-1.2zM100.4 433.6h1.2v1.2h-1.2zM97.6 428.7h1.2v1.2h-1.2zM106.4 427.0h1.2v1.2h-1.2zM103.4 429.1h1.2v1.2h-1.2zM97.1 431.4h1.2v1.2h-1.2zM104.4 435.6h1.2v1.2h-1.2zM100.7 427.8h1.2v1.2h-1.2zM102.1 427.9h1.2v1.2h-1.2zM101.6 425.0h1.2v1.2h-1.2zM104.6 428.9h1.2v1.2h-1.2zM100.7 429.7h1.2v1.2h-1.2zM96.6 422.9h1.2v1.2h-1.2zM106.1 425.4h1.2v1.2h-1.2zM97.0 421.5h1.2v1.2h-1.2zM107.4 425.4h1.2v1.2h-1.2zM96.6 426.4h1.2v1.2h-1.2zM95.5 421.0h1.2v1.2h-1.2zM95.4 421.1h1.2v1.2h-1.2zM102.0 415.1h1.2v1.2h-1.2zM106.1 425.0h1.2v1.2h-1.2zM95.6 420.0h1.2v1.2h-1.2zM99.9 426.6h1.2v1.2h-1.2zM101.3 415.3h1.2v1.2h-1.2zM96.9 440.6h1.2v1.2h-1.2zM104.9 446.1h1.2v1.2h-1.2zM102.8 446.2h1.2v1.2h-1.2zM102.4 448.3h1.2v1.2h-1.2zM104.6 434.6h1.2v1.2h-1.2zM98.1 445.2h1.2v1.2h-1.2zM107.3 436.3h1.2v1.2h-1.2z"/>
<path fill="#4f7fd2" d="M100.0 425.9h1.2v1.2h-1.2zM102.3 425.5h1.2v1.2h-1.2zM101.0 435.1h1.2v1.2h-1.2zM99.1 435.7h1.2v1.2h-1.2zM106.6 426.1h1.2v1.2h-1.2zM99.0 434.8h1.2v1.2h-1.2zM105.0 424.7h1.2v1.2h-1.2zM98.2 434.3h1.2v1.2h-1.2zM107.6 430.4h1.2v1.2h-1.2zM97.5 435.4h1.2v1.2h-1.2zM96.9 430.1h1.2v1.2h-1.2zM107.6 429.0h1.2v1.2h-1.2zM100.7 425.2h1.2v1.2h-1.2zM97.9 431.0h1.2v1.2h-1.2zM105.5 425.4h1.2v1.2h-1.2zM103.1 424.7h1.2v1.2h-1.2zM101.1 424.2h1.2v1.2h-1.2zM101.5 425.8h1.2v1.2h-1.2zM98.0 435.8h1.2v1.2h-1.2zM97.2 434.9h1.2v1.2h-1.2zM106.4 431.6h1.2v1.2h-1.2zM107.5 422.5h1.2v1.2h-1.2zM101.4 430.2h1.2v1.2h-1.2zM107.7 423.7h1.2v1.2h-1.2zM97.1 419.9h1.2v1.2h-1.2zM94.8 418.4h1.2v1.2h-1.2zM98.7 412.7h1.2v1.2h-1.2zM107.7 424.5h1.2v1.2h-1.2zM107.7 425.3h1.2v1.2h-1.2zM103.0 430.2h1.2v1.2h-1.2zM100.8 413.5h1.2v1.2h-1.2zM108.8 418.7h1.2v1.2h-1.2zM105.8 414.3h1.2v1.2h-1.2zM107.4 426.8h1.2v1.2h-1.2zM95.4 425.1h1.2v1.2h-1.2zM109.6 439.8h1.2v1.2h-1.2zM96.9 444.7h1.2v1.2h-1.2zM108.8 441.6h1.2v1.2h-1.2zM105.1 445.4h1.2v1.2h-1.2zM100.4 446.0h1.2v1.2h-1.2zM105.8 433.5h1.2v1.2h-1.2zM103.6 429.9h1.2v1.2h-1.2zM99.7 430.3h1.2v1.2h-1.2zM105.6 444.8h1.2v1.2h-1.2zM101.6 446.8h1.2v1.2h-1.2zM104.7 446.3h1.2v1.2h-1.2zM98.8 431.2h1.2v1.2h-1.2zM108.4 444.9h1.2v1.2h-1.2zM95.1 438.1h1.2v1.2h-1.2zM96.0 433.8h1.2v1.2h-1.2zM95.2 435.8h1.2v1.2h-1.2zM98.3 446.9h1.2v1.2h-1.2zM96.7 444.8h1.2v1.2h-1.2zM106.6 445.7h1.2v1.2h-1.2z"/>
<path fill="#62c24a" d="M104.8 432.9h1.2v1.2h-1.2zM100.6 432.1h1.2v1.2h-1.2zM100.7 434.5h1.2v1.2h-1.2zM99.3 428.4h1.2v1.2h-1.2zM100.7 430.5h1.2v1.2h-1.2zM100.6 428.7h1.2v1.2h-1.2zM105.0 429.2h1.2v1.2h-1.2zM102.6 432.5h1.2v1.2h-1.2zM104.9 429.7h1.2v1.2h-1.2zM101.2 428.3h1.2v1.2h-1.2zM103.3 427.0h1.2v1.2h-1.2zM100.3 431.5h1.2v1.2h-1.2zM103.6 430.8h1.2v1.2h-1.2zM102.5 433.6h1.2v1.2h-1.2zM100.5 428.1h1.2v1.2h-1.2zM100.9 431.1h1.2v1.2h-1.2zM98.1 430.2h1.2v1.2h-1.2zM103.2 427.7h1.2v1.2h-1.2zM101.7 415.4h1.2v1.2h-1.2zM98.6 417.3h1.2v1.2h-1.2zM102.6 427.2h1.2v1.2h-1.2zM99.6 417.9h1.2v1.2h-1.2zM107.0 420.3h1.2v1.2h-1.2zM99.7 427.2h1.2v1.2h-1.2zM98.1 424.2h1.2v1.2h-1.2zM107.3 421.9h1.2v1.2h-1.2zM98.1 442.6h1.2v1.2h-1.2zM106.1 434.4h1.2v1.2h-1.2zM101.0 444.4h1.2v1.2h-1.2zM106.3 438.8h1.2v1.2h-1.2zM100.1 435.3h1.2v1.2h-1.2zM107.5 437.5h1.2v1.2h-1.2z"/>
<path fill="#3a34a6" d="M107.4 433.7h1.2v1.2h-1.2zM108.6 431.3h1.2v1.2h-1.2zM103.7 425.4h1.2v1.2h-1.2zM103.6 425.0h1.2v1.2h-1.2zM100.9 436.9h1.2v1.2h-1.2zM97.1 426.7h1.2v1.2h-1.2zM106.6 425.6h1.2v1.2h-1.2zM106.3 425.2h1.2v1.2h-1.2zM103.8 423.8h1.2v1.2h-1.2zM102.2 423.7h1.2v1.2h-1.2zM107.1 433.9h1.2v1.2h-1.2zM101.4 436.3h1.2v1.2h-1.2zM97.7 413.8h1.2v1.2h-1.2zM108.7 421.0h1.2v1.2h-1.2zM99.4 428.7h1.2v1.2h-1.2zM97.3 428.3h1.2v1.2h-1.2zM104.1 430.2h1.2v1.2h-1.2zM106.8 413.9h1.2v1.2h-1.2zM97.5 414.6h1.2v1.2h-1.2zM107.8 417.4h1.2v1.2h-1.2zM107.7 416.3h1.2v1.2h-1.2zM95.8 423.6h1.2v1.2h-1.2zM95.6 434.4h1.2v1.2h-1.2zM108.3 434.8h1.2v1.2h-1.2zM110.1 439.1h1.2v1.2h-1.2zM105.6 432.4h1.2v1.2h-1.2zM95.9 438.7h1.2v1.2h-1.2zM105.3 430.7h1.2v1.2h-1.2zM96.7 433.8h1.2v1.2h-1.2zM101.4 430.6h1.2v1.2h-1.2zM109.7 442.0h1.2v1.2h-1.2zM106.1 447.3h1.2v1.2h-1.2zM108.9 437.3h1.2v1.2h-1.2zM106.5 447.9h1.2v1.2h-1.2zM109.5 437.2h1.2v1.2h-1.2zM96.4 441.0h1.2v1.2h-1.2zM96.0 438.0h1.2v1.2h-1.2zM108.5 443.4h1.2v1.2h-1.2zM108.5 434.1h1.2v1.2h-1.2z"/>
<path fill="#3a2c9e" d="M108.3 427.2h1.2v1.2h-1.2zM104.1 423.6h1.2v1.2h-1.2zM107.0 435.5h1.2v1.2h-1.2zM101.0 411.1h1.2v1.2h-1.2zM103.5 411.4h1.2v1.2h-1.2zM100.7 431.1h1.2v1.2h-1.2zM97.1 413.5h1.2v1.2h-1.2zM95.4 426.2h1.2v1.2h-1.2zM105.3 448.8h1.2v1.2h-1.2zM109.9 443.3h1.2v1.2h-1.2zM106.1 430.5h1.2v1.2h-1.2z"/>
<path fill="#f5a02e" d="M102.6 415.9h1.2v1.2h-1.2zM100.5 416.6h1.2v1.2h-1.2zM101.5 425.6h1.2v1.2h-1.2zM100.8 417.3h1.2v1.2h-1.2zM102.9 417.3h1.2v1.2h-1.2zM99.6 417.5h1.2v1.2h-1.2zM98.1 420.9h1.2v1.2h-1.2zM103.3 419.2h1.2v1.2h-1.2zM100.2 424.9h1.2v1.2h-1.2zM102.1 418.7h1.2v1.2h-1.2zM102.7 417.6h1.2v1.2h-1.2zM101.8 423.0h1.2v1.2h-1.2zM102.0 436.1h1.2v1.2h-1.2zM105.7 437.6h1.2v1.2h-1.2zM103.3 434.9h1.2v1.2h-1.2zM104.8 439.5h1.2v1.2h-1.2zM99.6 437.8h1.2v1.2h-1.2zM103.9 439.2h1.2v1.2h-1.2zM100.1 436.9h1.2v1.2h-1.2z"/>
<path fill="#ece23a" d="M101.6 427.7h1.2v1.2h-1.2zM101.7 425.9h1.2v1.2h-1.2zM97.5 419.6h1.2v1.2h-1.2zM97.9 422.1h1.2v1.2h-1.2zM98.4 417.6h1.2v1.2h-1.2zM103.6 416.9h1.2v1.2h-1.2zM106.2 436.6h1.2v1.2h-1.2zM102.5 433.2h1.2v1.2h-1.2zM97.8 441.3h1.2v1.2h-1.2zM106.3 441.4h1.2v1.2h-1.2zM98.8 440.0h1.2v1.2h-1.2zM106.8 437.6h1.2v1.2h-1.2zM101.7 445.2h1.2v1.2h-1.2zM102.7 443.3h1.2v1.2h-1.2zM103.8 433.9h1.2v1.2h-1.2z"/>
<path fill="#ec2c1c" d="M99.3 423.0h1.2v1.2h-1.2zM99.0 423.1h1.2v1.2h-1.2zM104.3 422.5h1.2v1.2h-1.2zM99.2 422.0h1.2v1.2h-1.2zM101.2 419.1h1.2v1.2h-1.2zM104.1 419.1h1.2v1.2h-1.2zM100.3 437.4h1.2v1.2h-1.2zM101.3 442.6h1.2v1.2h-1.2zM100.5 441.5h1.2v1.2h-1.2zM99.8 437.4h1.2v1.2h-1.2zM104.3 441.3h1.2v1.2h-1.2zM104.0 440.2h1.2v1.2h-1.2zM102.7 441.2h1.2v1.2h-1.2z"/>
<text x="99.3" y="406.0" font-size="5.6" text-anchor="start" fill="#555" textLength="10.8" lengthAdjust="spacingAndGlyphs">38.8</text>
<text x="139.1" y="406.0" font-size="5.6" text-anchor="start" fill="#555" textLength="9.9" lengthAdjust="spacingAndGlyphs">1.08</text>
<path d="M34.65 376.4V411.8" stroke="#d5343e" stroke-width="1.35"/>
<path d="M61.1 421.4V466" stroke="#d5343e" stroke-width="1.35"/><path d="M61.1 468.4l-1.3-3h2.6z" fill="#b8243a"/>
<rect x="26.2" y="475.9" width="64.0" height="62.5" fill="#fff" stroke="#8a8a8a" stroke-width="0.8"/>
<text x="24.2" y="482.9" font-size="3.9" text-anchor="end" fill="#555">10<tspan font-size="2.6" dy="-1.3">5</tspan></text>
<text x="24.2" y="494.8" font-size="3.9" text-anchor="end" fill="#555">10<tspan font-size="2.6" dy="-1.3">4</tspan></text>
<text x="24.2" y="506.8" font-size="3.9" text-anchor="end" fill="#555">10<tspan font-size="2.6" dy="-1.3">3</tspan></text>
<text x="24.2" y="520.6" font-size="3.9" text-anchor="end" fill="#555">10<tspan font-size="2.6" dy="-1.3">2</tspan></text>
<text x="24.2" y="528.6" font-size="3.9" text-anchor="end" fill="#555">0</text>
<text x="24.2" y="536.8" font-size="3.9" text-anchor="end" fill="#555">-10<tspan font-size="2.6" dy="-1.3">2</tspan></text>
<text x="40.3" y="545.0" font-size="3.9" text-anchor="middle" fill="#555">0</text>
<text x="58.5" y="545.0" font-size="3.9" text-anchor="middle" fill="#555">10<tspan font-size="2.6" dy="-1.3">3</tspan></text>
<text x="72.3" y="545.0" font-size="3.9" text-anchor="middle" fill="#555">10<tspan font-size="2.6" dy="-1.3">4</tspan></text>
<text x="85.0" y="545.0" font-size="3.9" text-anchor="middle" fill="#555">10<tspan font-size="2.6" dy="-1.3">5</tspan></text>
<path d="M24.6 481.5h1.6M24.6 493.4h1.6M24.6 505.4h1.6M24.6 519.2h1.6M24.6 527.2h1.6M24.6 535.4h1.6M40.3 538.4v1.6M58.5 538.4v1.6M72.3 538.4v1.6M85.0 538.4v1.6" stroke="#777" stroke-width="0.7"/>
<rect x="25.0" y="526.0" width="1.6" height="2.4" fill="#111"/>
<rect x="37.6" y="538.6" width="2.8" height="1.4" fill="#111"/>
<rect x="92.8" y="475.9" width="63.7" height="62.5" fill="#fff" stroke="#8a8a8a" stroke-width="0.8"/>
<text x="90.8" y="482.9" font-size="3.9" text-anchor="end" fill="#555"></text>
<text x="90.8" y="494.8" font-size="3.9" text-anchor="end" fill="#555"></text>
<text x="90.8" y="506.8" font-size="3.9" text-anchor="end" fill="#555"></text>
<text x="90.8" y="520.6" font-size="3.9" text-anchor="end" fill="#555"></text>
<text x="90.8" y="528.6" font-size="3.9" text-anchor="end" fill="#555"></text>
<text x="90.8" y="536.8" font-size="3.9" text-anchor="end" fill="#555"></text>
<text x="106.0" y="545.0" font-size="3.9" text-anchor="middle" fill="#555">0</text>
<text x="125.0" y="545.0" font-size="3.9" text-anchor="middle" fill="#555">10<tspan font-size="2.6" dy="-1.3">3</tspan></text>
<text x="138.4" y="545.0" font-size="3.9" text-anchor="middle" fill="#555">10<tspan font-size="2.6" dy="-1.3">4</tspan></text>
<text x="150.5" y="545.0" font-size="3.9" text-anchor="middle" fill="#555">10<tspan font-size="2.6" dy="-1.3">5</tspan></text>
<path d="M91.2 481.5h1.6M91.2 493.4h1.6M91.2 505.4h1.6M91.2 519.2h1.6M91.2 527.2h1.6M91.2 535.4h1.6M106.0 538.4v1.6M125.0 538.4v1.6M138.4 538.4v1.6M150.5 538.4v1.6" stroke="#777" stroke-width="0.7"/>
<rect x="91.6" y="526.0" width="1.6" height="2.4" fill="#111"/>
<rect x="103.1" y="538.6" width="2.8" height="1.4" fill="#111"/>
<path fill="#6a64cc" d="M45.6 513.9h1.05v1.05h-1.05zM38.6 525.2h1.05v1.05h-1.05zM40.4 509.4h1.05v1.05h-1.05zM41.1 531.0h1.05v1.05h-1.05zM45.4 518.9h1.05v1.05h-1.05zM38.0 502.5h1.05v1.05h-1.05zM44.0 534.1h1.05v1.05h-1.05zM38.8 522.2h1.05v1.05h-1.05zM44.6 501.5h1.05v1.05h-1.05zM39.4 522.5h1.05v1.05h-1.05zM44.2 517.5h1.05v1.05h-1.05zM38.2 505.1h1.05v1.05h-1.05zM45.0 515.3h1.05v1.05h-1.05zM39.6 528.8h1.05v1.05h-1.05zM44.8 517.6h1.05v1.05h-1.05zM42.2 506.9h1.05v1.05h-1.05zM38.6 527.3h1.05v1.05h-1.05zM41.3 525.1h1.05v1.05h-1.05zM41.3 519.8h1.05v1.05h-1.05zM40.4 524.5h1.05v1.05h-1.05zM38.9 532.0h1.05v1.05h-1.05zM42.4 523.8h1.05v1.05h-1.05zM43.8 522.1h1.05v1.05h-1.05zM38.8 522.8h1.05v1.05h-1.05zM39.5 531.2h1.05v1.05h-1.05zM38.3 522.1h1.05v1.05h-1.05zM43.7 533.9h1.05v1.05h-1.05zM40.0 522.2h1.05v1.05h-1.05zM41.6 528.7h1.05v1.05h-1.05zM40.8 524.7h1.05v1.05h-1.05zM42.0 518.7h1.05v1.05h-1.05zM41.7 524.4h1.05v1.05h-1.05zM43.8 534.1h1.05v1.05h-1.05zM41.0 531.5h1.05v1.05h-1.05zM38.0 533.3h1.05v1.05h-1.05zM42.1 525.1h1.05v1.05h-1.05zM40.6 531.5h1.05v1.05h-1.05zM43.9 522.3h1.05v1.05h-1.05zM42.4 531.6h1.05v1.05h-1.05zM41.3 528.8h1.05v1.05h-1.05zM41.6 529.9h1.05v1.05h-1.05zM39.2 524.1h1.05v1.05h-1.05zM38.4 516.4h1.05v1.05h-1.05zM38.8 529.6h1.05v1.05h-1.05zM39.0 523.9h1.05v1.05h-1.05zM43.3 523.6h1.05v1.05h-1.05zM43.2 532.2h1.05v1.05h-1.05zM42.4 525.2h1.05v1.05h-1.05zM43.4 535.8h1.05v1.05h-1.05zM40.5 525.3h1.05v1.05h-1.05zM41.4 525.4h1.05v1.05h-1.05zM54.4 522.3h1.05v1.05h-1.05zM50.8 530.8h1.05v1.05h-1.05zM68.0 524.3h1.05v1.05h-1.05z"/>
<path fill="#4a40b8" d="M44.0 529.0h1.05v1.05h-1.05zM42.8 513.2h1.05v1.05h-1.05zM43.7 529.0h1.05v1.05h-1.05zM44.8 528.1h1.05v1.05h-1.05zM44.1 522.7h1.05v1.05h-1.05zM38.9 520.2h1.05v1.05h-1.05zM38.7 530.2h1.05v1.05h-1.05zM43.5 522.1h1.05v1.05h-1.05zM44.7 516.9h1.05v1.05h-1.05zM39.0 525.4h1.05v1.05h-1.05zM39.2 522.1h1.05v1.05h-1.05zM40.5 526.1h1.05v1.05h-1.05zM40.3 526.0h1.05v1.05h-1.05zM43.4 521.6h1.05v1.05h-1.05zM44.3 533.2h1.05v1.05h-1.05zM40.0 530.3h1.05v1.05h-1.05zM43.8 526.4h1.05v1.05h-1.05zM37.3 523.1h1.05v1.05h-1.05zM41.0 529.6h1.05v1.05h-1.05zM41.8 526.3h1.05v1.05h-1.05zM42.3 521.9h1.05v1.05h-1.05zM37.3 523.5h1.05v1.05h-1.05zM42.5 530.9h1.05v1.05h-1.05zM39.5 523.6h1.05v1.05h-1.05zM41.8 535.3h1.05v1.05h-1.05zM43.7 520.5h1.05v1.05h-1.05zM44.2 519.0h1.05v1.05h-1.05zM43.0 521.2h1.05v1.05h-1.05zM39.8 516.4h1.05v1.05h-1.05zM41.3 526.9h1.05v1.05h-1.05zM41.6 519.1h1.05v1.05h-1.05zM42.9 528.4h1.05v1.05h-1.05zM42.7 522.5h1.05v1.05h-1.05zM40.7 523.1h1.05v1.05h-1.05zM39.6 521.4h1.05v1.05h-1.05zM45.7 527.5h1.05v1.05h-1.05zM40.8 526.5h1.05v1.05h-1.05zM46.5 514.1h1.05v1.05h-1.05zM74.5 520.0h1.05v1.05h-1.05z"/>
<path fill="#2e2290" d="M44.5 500.9h1.05v1.05h-1.05zM44.7 508.1h1.05v1.05h-1.05zM40.5 532.2h1.05v1.05h-1.05zM40.4 500.6h1.05v1.05h-1.05zM45.8 521.4h1.05v1.05h-1.05zM39.9 533.3h1.05v1.05h-1.05zM39.0 503.8h1.05v1.05h-1.05zM45.4 513.5h1.05v1.05h-1.05zM40.5 519.9h1.05v1.05h-1.05zM42.3 526.2h1.05v1.05h-1.05zM40.5 533.8h1.05v1.05h-1.05zM45.1 507.3h1.05v1.05h-1.05zM45.0 514.2h1.05v1.05h-1.05zM40.7 528.7h1.05v1.05h-1.05zM38.5 528.8h1.05v1.05h-1.05zM37.2 523.3h1.05v1.05h-1.05zM44.0 521.2h1.05v1.05h-1.05zM40.8 535.4h1.05v1.05h-1.05zM42.1 527.4h1.05v1.05h-1.05zM43.7 527.5h1.05v1.05h-1.05zM41.5 511.4h1.05v1.05h-1.05zM40.1 526.8h1.05v1.05h-1.05zM37.6 520.5h1.05v1.05h-1.05zM43.4 522.8h1.05v1.05h-1.05zM39.7 521.8h1.05v1.05h-1.05zM35.9 523.6h1.05v1.05h-1.05zM43.9 520.1h1.05v1.05h-1.05zM40.4 532.1h1.05v1.05h-1.05zM41.3 521.3h1.05v1.05h-1.05zM42.4 527.6h1.05v1.05h-1.05zM39.1 524.4h1.05v1.05h-1.05zM39.8 522.5h1.05v1.05h-1.05zM36.2 528.5h1.05v1.05h-1.05zM42.9 528.2h1.05v1.05h-1.05zM44.0 526.1h1.05v1.05h-1.05zM40.6 518.7h1.05v1.05h-1.05zM41.1 524.7h1.05v1.05h-1.05zM50.1 532.3h1.05v1.05h-1.05zM73.1 505.6h1.05v1.05h-1.05z"/>
<path fill="#3a2c9e" d="M41.8 502.8h1.05v1.05h-1.05zM42.6 525.0h1.05v1.05h-1.05zM42.6 500.2h1.05v1.05h-1.05zM42.5 524.1h1.05v1.05h-1.05zM45.1 503.6h1.05v1.05h-1.05zM45.0 515.9h1.05v1.05h-1.05zM46.0 524.6h1.05v1.05h-1.05zM40.2 524.7h1.05v1.05h-1.05zM40.3 501.5h1.05v1.05h-1.05zM44.0 512.0h1.05v1.05h-1.05zM41.0 532.3h1.05v1.05h-1.05zM43.9 525.2h1.05v1.05h-1.05zM42.2 524.5h1.05v1.05h-1.05zM39.7 520.6h1.05v1.05h-1.05zM40.5 529.1h1.05v1.05h-1.05zM39.1 529.7h1.05v1.05h-1.05zM40.5 520.3h1.05v1.05h-1.05zM43.2 528.0h1.05v1.05h-1.05zM40.3 525.0h1.05v1.05h-1.05zM37.9 523.7h1.05v1.05h-1.05zM38.6 524.9h1.05v1.05h-1.05zM40.5 531.0h1.05v1.05h-1.05zM38.5 529.4h1.05v1.05h-1.05zM41.4 532.6h1.05v1.05h-1.05zM44.6 526.8h1.05v1.05h-1.05zM40.7 531.1h1.05v1.05h-1.05zM43.6 520.7h1.05v1.05h-1.05zM43.9 526.4h1.05v1.05h-1.05zM36.4 526.2h1.05v1.05h-1.05zM49.0 521.1h1.05v1.05h-1.05zM46.4 529.7h1.05v1.05h-1.05zM54.6 533.3h1.05v1.05h-1.05z"/>
<rect x="38.5" y="500.0" width="14.3" height="21.3" fill="none" stroke="#777" stroke-width="0.7"/>
<rect x="30.0" y="521.3" width="14.6" height="13.3" fill="none" stroke="#777" stroke-width="0.7"/>
<rect x="44.6" y="521.3" width="14.3" height="13.3" fill="none" stroke="#777" stroke-width="0.7"/>
<text x="28.9" y="499.2" font-size="6.5" text-anchor="start" fill="#333" textLength="18.3" lengthAdjust="spacingAndGlyphs">LT-HSC</text>
<text x="54.6" y="502.3" font-size="5.6" text-anchor="start" fill="#333" textLength="9.9" lengthAdjust="spacingAndGlyphs">32.4</text>
<text x="65.5" y="502.5" font-size="6.5" text-anchor="start" fill="#333" textLength="12.8" lengthAdjust="spacingAndGlyphs">MPP</text>
<text x="28.2" y="516.3" font-size="5.6" text-anchor="start" fill="#333" textLength="9.8" lengthAdjust="spacingAndGlyphs">61.9</text>
<text x="62.2" y="527.8" font-size="6.5" text-anchor="start" fill="#333" textLength="20.1" lengthAdjust="spacingAndGlyphs">ST-HSC</text>
<text x="63.9" y="534.0" font-size="5.6" text-anchor="start" fill="#444" textLength="9.1" lengthAdjust="spacingAndGlyphs">13.5</text>
<path fill="#2e2290" d="M108.3 517.9h1.05v1.05h-1.05zM110.2 524.1h1.05v1.05h-1.05zM101.5 524.8h1.05v1.05h-1.05zM103.4 518.4h1.05v1.05h-1.05zM110.7 521.1h1.05v1.05h-1.05zM110.3 516.1h1.05v1.05h-1.05zM111.7 521.9h1.05v1.05h-1.05zM103.0 527.2h1.05v1.05h-1.05zM110.7 533.0h1.05v1.05h-1.05zM105.2 518.9h1.05v1.05h-1.05zM105.5 520.9h1.05v1.05h-1.05zM109.2 519.9h1.05v1.05h-1.05zM108.5 522.3h1.05v1.05h-1.05zM108.7 528.3h1.05v1.05h-1.05zM109.6 522.7h1.05v1.05h-1.05zM103.5 527.9h1.05v1.05h-1.05zM103.5 520.5h1.05v1.05h-1.05zM108.0 518.9h1.05v1.05h-1.05zM108.2 519.7h1.05v1.05h-1.05zM100.9 520.7h1.05v1.05h-1.05zM105.7 516.9h1.05v1.05h-1.05zM105.0 516.6h1.05v1.05h-1.05zM105.6 524.1h1.05v1.05h-1.05zM110.0 525.1h1.05v1.05h-1.05zM105.1 516.9h1.05v1.05h-1.05zM110.6 516.2h1.05v1.05h-1.05zM106.2 531.3h1.05v1.05h-1.05zM102.2 522.1h1.05v1.05h-1.05zM109.6 523.0h1.05v1.05h-1.05zM105.7 522.2h1.05v1.05h-1.05zM104.2 530.0h1.05v1.05h-1.05zM105.5 523.5h1.05v1.05h-1.05zM105.4 526.2h1.05v1.05h-1.05zM109.0 518.6h1.05v1.05h-1.05zM109.8 527.6h1.05v1.05h-1.05zM105.2 523.2h1.05v1.05h-1.05zM103.1 523.5h1.05v1.05h-1.05zM106.1 524.1h1.05v1.05h-1.05zM107.1 522.2h1.05v1.05h-1.05zM113.7 517.7h1.05v1.05h-1.05zM104.5 517.9h1.05v1.05h-1.05zM104.3 517.9h1.05v1.05h-1.05zM114.7 518.2h1.05v1.05h-1.05zM110.7 533.6h1.05v1.05h-1.05zM100.4 515.8h1.05v1.05h-1.05zM101.0 526.8h1.05v1.05h-1.05zM115.8 510.3h1.05v1.05h-1.05zM104.5 524.0h1.05v1.05h-1.05zM110.3 529.1h1.05v1.05h-1.05zM107.5 529.5h1.05v1.05h-1.05zM114.4 529.6h1.05v1.05h-1.05zM102.4 511.2h1.05v1.05h-1.05zM114.7 534.3h1.05v1.05h-1.05zM124.0 527.4h1.05v1.05h-1.05zM152.1 503.7h1.05v1.05h-1.05zM147.3 535.0h1.05v1.05h-1.05z"/>
<path fill="#4a40b8" d="M102.6 523.9h1.05v1.05h-1.05zM111.0 529.8h1.05v1.05h-1.05zM98.8 527.2h1.05v1.05h-1.05zM107.5 530.3h1.05v1.05h-1.05zM112.1 512.3h1.05v1.05h-1.05zM116.0 522.2h1.05v1.05h-1.05zM109.7 517.1h1.05v1.05h-1.05zM110.7 527.7h1.05v1.05h-1.05zM104.3 523.9h1.05v1.05h-1.05zM105.8 530.9h1.05v1.05h-1.05zM113.3 523.8h1.05v1.05h-1.05zM103.4 522.4h1.05v1.05h-1.05zM111.1 524.4h1.05v1.05h-1.05zM99.9 529.5h1.05v1.05h-1.05zM105.5 523.9h1.05v1.05h-1.05zM103.1 521.1h1.05v1.05h-1.05zM109.1 530.3h1.05v1.05h-1.05zM109.9 518.5h1.05v1.05h-1.05zM105.2 526.2h1.05v1.05h-1.05zM107.7 521.0h1.05v1.05h-1.05zM108.9 524.7h1.05v1.05h-1.05zM105.0 518.8h1.05v1.05h-1.05zM100.9 528.0h1.05v1.05h-1.05zM102.8 529.7h1.05v1.05h-1.05zM105.4 521.9h1.05v1.05h-1.05zM105.5 523.9h1.05v1.05h-1.05zM105.6 532.4h1.05v1.05h-1.05zM108.8 515.7h1.05v1.05h-1.05zM108.0 520.0h1.05v1.05h-1.05zM104.5 524.6h1.05v1.05h-1.05zM107.3 519.4h1.05v1.05h-1.05zM106.7 515.2h1.05v1.05h-1.05zM107.7 511.8h1.05v1.05h-1.05zM114.8 521.0h1.05v1.05h-1.05zM116.6 530.9h1.05v1.05h-1.05zM105.1 529.7h1.05v1.05h-1.05zM112.3 511.6h1.05v1.05h-1.05zM107.1 524.6h1.05v1.05h-1.05zM100.9 533.5h1.05v1.05h-1.05zM109.4 523.9h1.05v1.05h-1.05zM101.8 510.6h1.05v1.05h-1.05zM115.0 524.6h1.05v1.05h-1.05zM100.9 512.6h1.05v1.05h-1.05zM116.6 523.3h1.05v1.05h-1.05zM101.8 523.5h1.05v1.05h-1.05zM115.2 520.6h1.05v1.05h-1.05zM116.2 522.1h1.05v1.05h-1.05zM114.0 533.1h1.05v1.05h-1.05zM109.3 510.4h1.05v1.05h-1.05zM115.4 525.8h1.05v1.05h-1.05zM108.3 519.3h1.05v1.05h-1.05zM115.0 531.9h1.05v1.05h-1.05zM121.4 526.3h1.05v1.05h-1.05zM114.1 534.8h1.05v1.05h-1.05zM124.0 529.9h1.05v1.05h-1.05zM116.6 522.7h1.05v1.05h-1.05zM115.7 529.2h1.05v1.05h-1.05zM130.3 534.9h1.05v1.05h-1.05z"/>
<path fill="#6a64cc" d="M105.7 517.1h1.05v1.05h-1.05zM106.9 519.8h1.05v1.05h-1.05zM109.0 515.6h1.05v1.05h-1.05zM103.4 517.9h1.05v1.05h-1.05zM108.5 524.6h1.05v1.05h-1.05zM106.2 525.1h1.05v1.05h-1.05zM106.4 524.3h1.05v1.05h-1.05zM108.8 523.8h1.05v1.05h-1.05zM105.3 517.8h1.05v1.05h-1.05zM104.8 514.6h1.05v1.05h-1.05zM103.6 520.6h1.05v1.05h-1.05zM106.5 523.7h1.05v1.05h-1.05zM110.1 518.2h1.05v1.05h-1.05zM109.3 519.4h1.05v1.05h-1.05zM104.2 533.6h1.05v1.05h-1.05zM107.5 527.2h1.05v1.05h-1.05zM107.9 518.5h1.05v1.05h-1.05zM107.9 524.9h1.05v1.05h-1.05zM109.9 522.2h1.05v1.05h-1.05zM107.7 520.9h1.05v1.05h-1.05zM110.3 530.7h1.05v1.05h-1.05zM107.6 517.5h1.05v1.05h-1.05zM102.0 512.7h1.05v1.05h-1.05zM106.6 516.4h1.05v1.05h-1.05zM99.9 521.4h1.05v1.05h-1.05zM108.7 522.2h1.05v1.05h-1.05zM112.5 524.2h1.05v1.05h-1.05zM103.0 535.6h1.05v1.05h-1.05zM108.0 512.3h1.05v1.05h-1.05zM115.6 519.3h1.05v1.05h-1.05zM113.4 516.8h1.05v1.05h-1.05zM101.9 526.5h1.05v1.05h-1.05zM102.6 522.5h1.05v1.05h-1.05zM102.8 522.4h1.05v1.05h-1.05zM103.1 513.5h1.05v1.05h-1.05zM110.6 531.2h1.05v1.05h-1.05zM109.1 527.6h1.05v1.05h-1.05zM114.0 521.3h1.05v1.05h-1.05zM111.5 526.1h1.05v1.05h-1.05zM123.5 527.7h1.05v1.05h-1.05zM115.5 531.0h1.05v1.05h-1.05zM112.4 522.7h1.05v1.05h-1.05zM112.2 532.9h1.05v1.05h-1.05zM118.3 521.2h1.05v1.05h-1.05zM136.0 530.8h1.05v1.05h-1.05z"/>
<path fill="#3a2c9e" d="M107.3 526.2h1.05v1.05h-1.05zM104.1 518.1h1.05v1.05h-1.05zM111.7 531.8h1.05v1.05h-1.05zM107.3 522.8h1.05v1.05h-1.05zM109.7 525.2h1.05v1.05h-1.05zM109.5 528.5h1.05v1.05h-1.05zM101.6 531.6h1.05v1.05h-1.05zM109.0 522.8h1.05v1.05h-1.05zM107.1 516.9h1.05v1.05h-1.05zM108.9 521.3h1.05v1.05h-1.05zM106.7 520.6h1.05v1.05h-1.05zM101.4 525.7h1.05v1.05h-1.05zM103.2 519.5h1.05v1.05h-1.05zM110.1 517.6h1.05v1.05h-1.05zM110.5 518.7h1.05v1.05h-1.05zM99.7 521.6h1.05v1.05h-1.05zM100.9 529.0h1.05v1.05h-1.05zM104.8 519.7h1.05v1.05h-1.05zM106.0 520.4h1.05v1.05h-1.05zM111.7 520.9h1.05v1.05h-1.05zM108.2 514.3h1.05v1.05h-1.05zM101.2 516.0h1.05v1.05h-1.05zM102.6 532.7h1.05v1.05h-1.05zM105.6 516.9h1.05v1.05h-1.05zM103.0 525.6h1.05v1.05h-1.05zM102.1 525.1h1.05v1.05h-1.05zM101.0 527.8h1.05v1.05h-1.05zM105.7 510.6h1.05v1.05h-1.05zM115.3 533.3h1.05v1.05h-1.05zM100.8 511.7h1.05v1.05h-1.05zM103.3 533.9h1.05v1.05h-1.05zM104.3 529.6h1.05v1.05h-1.05zM106.7 514.8h1.05v1.05h-1.05zM117.6 528.6h1.05v1.05h-1.05zM111.6 524.2h1.05v1.05h-1.05zM109.6 511.2h1.05v1.05h-1.05zM106.9 528.9h1.05v1.05h-1.05zM120.9 530.6h1.05v1.05h-1.05zM148.9 503.9h1.05v1.05h-1.05zM135.5 509.9h1.05v1.05h-1.05zM130.6 529.3h1.05v1.05h-1.05z"/>
<rect x="104.3" y="500.3" width="14.2" height="21.3" fill="none" stroke="#777" stroke-width="0.7"/>
<rect x="96.3" y="521.6" width="13.5" height="12.8" fill="none" stroke="#777" stroke-width="0.7"/>
<rect x="109.8" y="521.6" width="15.2" height="12.8" fill="none" stroke="#777" stroke-width="0.7"/>
<text x="120.7" y="501.8" font-size="5.6" text-anchor="start" fill="#333" textLength="9.3" lengthAdjust="spacingAndGlyphs">30.3</text>
<text x="93.9" y="516.1" font-size="5.6" text-anchor="start" fill="#333" textLength="9.3" lengthAdjust="spacingAndGlyphs">33.7</text>
<text x="129.4" y="534.0" font-size="5.6" text-anchor="start" fill="#444" textLength="9.3" lengthAdjust="spacingAndGlyphs">13.5</text>
<path d="M197.4 323.6V404.0H249.2" fill="none" stroke="#262626" stroke-width="1.25"/>
<path d="M194.2 326.1H197.4" stroke="#262626" stroke-width="1"/>
<text x="193.2" y="328.0" font-size="5.1" text-anchor="end" fill="#3a3a3a" textLength="21.5" lengthAdjust="spacingAndGlyphs">5000000</text>
<path d="M194.2 341.6H197.4" stroke="#262626" stroke-width="1"/>
<text x="193.2" y="343.5" font-size="5.1" text-anchor="end" fill="#3a3a3a" textLength="21.5" lengthAdjust="spacingAndGlyphs">4000000</text>
<path d="M194.2 357.4H197.4" stroke="#262626" stroke-width="1"/>
<text x="193.2" y="359.2" font-size="5.1" text-anchor="end" fill="#3a3a3a" textLength="21.5" lengthAdjust="spacingAndGlyphs">3000000</text>
<path d="M194.2 373.1H197.4" stroke="#262626" stroke-width="1"/>
<text x="193.2" y="375.0" font-size="5.1" text-anchor="end" fill="#3a3a3a" textLength="21.5" lengthAdjust="spacingAndGlyphs">2000000</text>
<path d="M194.2 388.7H197.4" stroke="#262626" stroke-width="1"/>
<text x="193.2" y="390.6" font-size="5.1" text-anchor="end" fill="#3a3a3a" textLength="21.5" lengthAdjust="spacingAndGlyphs">1000000</text>
<path d="M194.2 404.0H197.4" stroke="#262626" stroke-width="1"/>
<text x="193.2" y="405.9" font-size="5.1" text-anchor="end" fill="#3a3a3a" textLength="3.5" lengthAdjust="spacingAndGlyphs">0</text>
<path d="M212.3 404.0v2.6" stroke="#262626" stroke-width="1"/>
<path d="M234.6 404.0v2.6" stroke="#262626" stroke-width="1"/>
<text x="212.3" y="414.6" font-size="5.4" text-anchor="middle" fill="#333" textLength="12.6" lengthAdjust="spacingAndGlyphs">CON</text>
<text x="234.6" y="414.6" font-size="5.4" text-anchor="middle" fill="#333" textLength="11.0" lengthAdjust="spacingAndGlyphs">RUX</text>
<text x="223.5" y="311.3" font-size="8.6" text-anchor="middle" fill="#222">MP</text>
<path d="M161.1 364.8h5.6M161.1 365.9h5.6M162.8 364.2v2.2M165.1 364.2v2.2" stroke="#444" stroke-width="0.7"/>
<path d="M205.0 354.3H219.7" stroke="#1a1a1a" stroke-width="0.9"/>
<path d="M226.5 360.0H241.8" stroke="#1a1a1a" stroke-width="0.9"/>
<g fill="#a3163c"><circle cx="216.9" cy="335.5" r="1.2"/><circle cx="212.2" cy="338.0" r="1.2"/><circle cx="212.2" cy="341.6" r="1.2"/><circle cx="212.2" cy="345.7" r="1.2"/><circle cx="207.5" cy="354.3" r="1.2"/><circle cx="212.2" cy="354.9" r="1.2"/><circle cx="216.9" cy="354.3" r="1.2"/><circle cx="212.2" cy="360.5" r="1.2"/><circle cx="212.2" cy="363.9" r="1.2"/><circle cx="212.2" cy="380.9" r="1.2"/></g>
<g fill="#1a3760"><circle cx="229.5" cy="347.2" r="1.2"/><circle cx="234.7" cy="348.6" r="1.2"/><circle cx="229.5" cy="352.3" r="1.2"/><circle cx="234.7" cy="354.3" r="1.2"/><circle cx="230.0" cy="360.0" r="1.2"/><circle cx="239.4" cy="360.9" r="1.2"/><circle cx="229.5" cy="362.1" r="1.2"/><circle cx="234.7" cy="365.6" r="1.2"/><circle cx="234.7" cy="378.5" r="1.2"/><circle cx="234.7" cy="360.9" r="1.2"/></g>
<path d="M285.8 323.6V404.0H337.6" fill="none" stroke="#262626" stroke-width="1.25"/>
<path d="M282.6 326.1H285.8" stroke="#262626" stroke-width="1"/>
<text x="281.6" y="328.0" font-size="5.1" text-anchor="end" fill="#3a3a3a" textLength="21.5" lengthAdjust="spacingAndGlyphs">1500000</text>
<path d="M282.6 352.3H285.8" stroke="#262626" stroke-width="1"/>
<text x="281.6" y="354.2" font-size="5.1" text-anchor="end" fill="#3a3a3a" textLength="21.5" lengthAdjust="spacingAndGlyphs">1000000</text>
<path d="M282.6 378.5H285.8" stroke="#262626" stroke-width="1"/>
<text x="281.6" y="380.4" font-size="5.1" text-anchor="end" fill="#3a3a3a" textLength="18.5" lengthAdjust="spacingAndGlyphs">500000</text>
<path d="M282.6 404.0H285.8" stroke="#262626" stroke-width="1"/>
<text x="281.6" y="405.9" font-size="5.1" text-anchor="end" fill="#3a3a3a" textLength="3.5" lengthAdjust="spacingAndGlyphs">0</text>
<path d="M300.1 404.0v2.6" stroke="#262626" stroke-width="1"/>
<path d="M322.6 404.0v2.6" stroke="#262626" stroke-width="1"/>
<text x="300.1" y="414.6" font-size="5.4" text-anchor="middle" fill="#333" textLength="12.6" lengthAdjust="spacingAndGlyphs">CON</text>
<text x="322.6" y="414.6" font-size="5.4" text-anchor="middle" fill="#333" textLength="11.0" lengthAdjust="spacingAndGlyphs">RUX</text>
<text x="312.4" y="311.3" font-size="8.6" text-anchor="middle" fill="#222">GMP</text>
<path d="M252.0 364.8h5.6M252.0 365.9h5.6M253.6 364.3v2.2M256.0 364.3v2.2" stroke="#444" stroke-width="0.7"/>
<path d="M293.0 371.1H307.7" stroke="#1a1a1a" stroke-width="0.9"/>
<path d="M315.0 373.7H330.2" stroke="#1a1a1a" stroke-width="0.9"/>
<g fill="#a3163c"><circle cx="300.1" cy="337.5" r="1.2"/><circle cx="300.1" cy="347.2" r="1.2"/><circle cx="300.1" cy="353.9" r="1.2"/><circle cx="298.1" cy="369.7" r="1.2"/><circle cx="294.6" cy="371.7" r="1.2"/><circle cx="302.8" cy="369.0" r="1.2"/><circle cx="300.1" cy="372.3" r="1.2"/><circle cx="305.2" cy="374.4" r="1.2"/><circle cx="300.1" cy="375.8" r="1.2"/><circle cx="300.1" cy="389.1" r="1.2"/></g>
<g fill="#1a3760"><circle cx="318.5" cy="362.9" r="1.2"/><circle cx="322.6" cy="360.9" r="1.2"/><circle cx="318.5" cy="365.6" r="1.2"/><circle cx="318.5" cy="377.2" r="1.2"/><circle cx="322.6" cy="375.8" r="1.2"/><circle cx="327.3" cy="371.1" r="1.2"/><circle cx="327.3" cy="378.5" r="1.2"/><circle cx="322.6" cy="380.5" r="1.2"/><circle cx="322.6" cy="389.1" r="1.2"/><circle cx="322.6" cy="370.7" r="1.2"/></g>
<path d="M376.8 323.6V404.0H428.6" fill="none" stroke="#262626" stroke-width="1.25"/>
<path d="M373.6 326.1H376.8" stroke="#262626" stroke-width="1"/>
<text x="372.6" y="328.0" font-size="5.1" text-anchor="end" fill="#3a3a3a" textLength="21.5" lengthAdjust="spacingAndGlyphs">2000000</text>
<path d="M373.6 345.7H376.8" stroke="#262626" stroke-width="1"/>
<text x="372.6" y="347.6" font-size="5.1" text-anchor="end" fill="#3a3a3a" textLength="21.5" lengthAdjust="spacingAndGlyphs">1500000</text>
<path d="M373.6 365.2H376.8" stroke="#262626" stroke-width="1"/>
<text x="372.6" y="367.1" font-size="5.1" text-anchor="end" fill="#3a3a3a" textLength="21.5" lengthAdjust="spacingAndGlyphs">1000000</text>
<path d="M373.6 384.6H376.8" stroke="#262626" stroke-width="1"/>
<text x="372.6" y="386.5" font-size="5.1" text-anchor="end" fill="#3a3a3a" textLength="18.5" lengthAdjust="spacingAndGlyphs">500000</text>
<path d="M373.6 404.0H376.8" stroke="#262626" stroke-width="1"/>
<text x="372.6" y="405.9" font-size="5.1" text-anchor="end" fill="#3a3a3a" textLength="3.5" lengthAdjust="spacingAndGlyphs">0</text>
<path d="M391.5 404.0v2.6" stroke="#262626" stroke-width="1"/>
<path d="M413.6 404.0v2.6" stroke="#262626" stroke-width="1"/>
<text x="391.5" y="414.6" font-size="5.4" text-anchor="middle" fill="#333" textLength="12.6" lengthAdjust="spacingAndGlyphs">CON</text>
<text x="413.6" y="414.6" font-size="5.4" text-anchor="middle" fill="#333" textLength="11.0" lengthAdjust="spacingAndGlyphs">RUX</text>
<text x="402.8" y="311.3" font-size="8.6" text-anchor="middle" fill="#222">CMP</text>
<path d="M340.2 364.9h5.6M340.2 366.1h5.6M341.8 364.4v2.2M344.2 364.4v2.2" stroke="#444" stroke-width="0.7"/>
<path d="M384.6 353.9H399.3" stroke="#1a1a1a" stroke-width="0.9"/>
<path d="M405.5 349.6H421.4" stroke="#1a1a1a" stroke-width="0.9"/>
<g fill="#a3163c"><circle cx="391.5" cy="343.1" r="1.2"/><circle cx="395.6" cy="344.1" r="1.2"/><circle cx="391.5" cy="346.5" r="1.2"/><circle cx="387.5" cy="352.7" r="1.2"/><circle cx="391.5" cy="353.3" r="1.2"/><circle cx="395.6" cy="354.3" r="1.2"/><circle cx="391.5" cy="355.3" r="1.2"/><circle cx="391.5" cy="358.4" r="1.2"/><circle cx="391.5" cy="366.6" r="1.2"/><circle cx="391.5" cy="382.5" r="1.2"/></g>
<g fill="#1a3760"><circle cx="413.6" cy="336.3" r="1.2"/><circle cx="409.5" cy="344.1" r="1.2"/><circle cx="418.7" cy="343.1" r="1.2"/><circle cx="409.5" cy="349.2" r="1.2"/><circle cx="413.6" cy="349.2" r="1.2"/><circle cx="409.5" cy="351.9" r="1.2"/><circle cx="413.6" cy="354.7" r="1.2"/><circle cx="418.7" cy="353.3" r="1.2"/><circle cx="413.6" cy="371.7" r="1.2"/><circle cx="418.7" cy="349.2" r="1.2"/></g>
<path d="M467.8 323.6V404.0H519.6" fill="none" stroke="#262626" stroke-width="1.25"/>
<path d="M464.6 326.1H467.8" stroke="#262626" stroke-width="1"/>
<text x="463.6" y="328.0" font-size="5.1" text-anchor="end" fill="#3a3a3a" textLength="21.5" lengthAdjust="spacingAndGlyphs">1500000</text>
<path d="M464.6 352.3H467.8" stroke="#262626" stroke-width="1"/>
<text x="463.6" y="354.2" font-size="5.1" text-anchor="end" fill="#3a3a3a" textLength="21.5" lengthAdjust="spacingAndGlyphs">1000000</text>
<path d="M464.6 378.5H467.8" stroke="#262626" stroke-width="1"/>
<text x="463.6" y="380.4" font-size="5.1" text-anchor="end" fill="#3a3a3a" textLength="18.5" lengthAdjust="spacingAndGlyphs">500000</text>
<path d="M464.6 404.0H467.8" stroke="#262626" stroke-width="1"/>
<text x="463.6" y="405.9" font-size="5.1" text-anchor="end" fill="#3a3a3a" textLength="3.5" lengthAdjust="spacingAndGlyphs">0</text>
<path d="M482.8 404.0v2.6" stroke="#262626" stroke-width="1"/>
<path d="M505.3 404.0v2.6" stroke="#262626" stroke-width="1"/>
<text x="482.8" y="414.6" font-size="5.4" text-anchor="middle" fill="#333" textLength="12.6" lengthAdjust="spacingAndGlyphs">CON</text>
<text x="505.3" y="414.6" font-size="5.4" text-anchor="middle" fill="#333" textLength="11.0" lengthAdjust="spacingAndGlyphs">RUX</text>
<text x="494.2" y="311.3" font-size="8.6" text-anchor="middle" fill="#222">MEP</text>
<path d="M431.5 364.9h5.6M431.5 366.1h5.6M433.1 364.4v2.2M435.5 364.4v2.2" stroke="#444" stroke-width="0.7"/>
<path d="M475.4 352.3H490.3" stroke="#1a1a1a" stroke-width="0.9"/>
<path d="M497.5 371.7H511.8" stroke="#1a1a1a" stroke-width="0.9"/>
<g fill="#a3163c"><circle cx="482.8" cy="332.2" r="1.2"/><circle cx="480.7" cy="343.7" r="1.2"/><circle cx="485.2" cy="345.1" r="1.2"/><circle cx="480.7" cy="347.2" r="1.2"/><circle cx="480.7" cy="352.3" r="1.2"/><circle cx="485.2" cy="354.3" r="1.2"/><circle cx="482.8" cy="352.3" r="1.2"/><circle cx="482.8" cy="361.5" r="1.2"/><circle cx="482.8" cy="368.2" r="1.2"/><circle cx="482.8" cy="380.5" r="1.2"/></g>
<g fill="#1a3760"><circle cx="502.6" cy="359.4" r="1.2"/><circle cx="507.3" cy="359.4" r="1.2"/><circle cx="509.4" cy="364.5" r="1.2"/><circle cx="504.7" cy="366.2" r="1.2"/><circle cx="500.6" cy="374.4" r="1.2"/><circle cx="505.3" cy="373.1" r="1.2"/><circle cx="509.8" cy="371.7" r="1.2"/><circle cx="502.6" cy="376.8" r="1.2"/><circle cx="507.3" cy="375.8" r="1.2"/><circle cx="505.3" cy="384.0" r="1.2"/></g>
<path d="M482.8 327.7V322.6H505.3V356.4" fill="none" stroke="#3a3a3a" stroke-width="1.0"/>
<path fill="#2a2a2a" d="M491.20 316.30L491.79 317.59L493.20 317.75L492.15 318.71L492.43 320.10L491.20 319.40L489.97 320.10L490.25 318.71L489.20 317.75L490.61 317.59ZM495.60 316.30L496.19 317.59L497.60 317.75L496.55 318.71L496.83 320.10L495.60 319.40L494.37 320.10L494.65 318.71L493.60 317.75L495.01 317.59Z"/>
<path d="M197.4 453.5V533.8H249.2" fill="none" stroke="#262626" stroke-width="1.25"/>
<path d="M194.2 456.1H197.4" stroke="#262626" stroke-width="1"/>
<text x="193.2" y="458.0" font-size="5.1" text-anchor="end" fill="#3a3a3a" textLength="18.5" lengthAdjust="spacingAndGlyphs">300000</text>
<path d="M194.2 481.9H197.4" stroke="#262626" stroke-width="1"/>
<text x="193.2" y="483.8" font-size="5.1" text-anchor="end" fill="#3a3a3a" textLength="18.5" lengthAdjust="spacingAndGlyphs">200000</text>
<path d="M194.2 507.8H197.4" stroke="#262626" stroke-width="1"/>
<text x="193.2" y="509.7" font-size="5.1" text-anchor="end" fill="#3a3a3a" textLength="18.5" lengthAdjust="spacingAndGlyphs">100000</text>
<path d="M194.2 533.8H197.4" stroke="#262626" stroke-width="1"/>
<text x="193.2" y="535.6" font-size="5.1" text-anchor="end" fill="#3a3a3a" textLength="3.5" lengthAdjust="spacingAndGlyphs">0</text>
<path d="M212.3 533.8v2.6" stroke="#262626" stroke-width="1"/>
<path d="M234.6 533.8v2.6" stroke="#262626" stroke-width="1"/>
<text x="212.3" y="544.4" font-size="5.4" text-anchor="middle" fill="#333" textLength="12.6" lengthAdjust="spacingAndGlyphs">CON</text>
<text x="234.6" y="544.4" font-size="5.4" text-anchor="middle" fill="#333" textLength="11.0" lengthAdjust="spacingAndGlyphs">RUX</text>
<text x="226.5" y="439.2" font-size="8.6" text-anchor="middle" fill="#222">KSL</text>
<path d="M164.7 494.4h5.6M164.7 495.6h5.6M166.3 493.9v2.2M168.7 493.9v2.2" stroke="#444" stroke-width="0.7"/>
<path d="M205.4 485.3H219.7" stroke="#1a1a1a" stroke-width="0.9"/>
<path d="M227.5 508.5H241.8" stroke="#1a1a1a" stroke-width="0.9"/>
<g fill="#a3163c"><circle cx="210.1" cy="466.3" r="1.2"/><circle cx="214.8" cy="465.5" r="1.2"/><circle cx="212.2" cy="478.2" r="1.2"/><circle cx="210.1" cy="482.7" r="1.2"/><circle cx="214.8" cy="484.3" r="1.2"/><circle cx="212.2" cy="486.0" r="1.2"/><circle cx="212.2" cy="493.5" r="1.2"/><circle cx="212.2" cy="497.0" r="1.2"/><circle cx="212.2" cy="507.2" r="1.2"/><circle cx="212.2" cy="517.0" r="1.2"/></g>
<g fill="#1a3760"><circle cx="232.0" cy="492.1" r="1.2"/><circle cx="236.7" cy="493.5" r="1.2"/><circle cx="234.7" cy="501.7" r="1.2"/><circle cx="234.7" cy="505.8" r="1.2"/><circle cx="230.0" cy="510.5" r="1.2"/><circle cx="234.7" cy="508.9" r="1.2"/><circle cx="239.4" cy="513.0" r="1.2"/><circle cx="234.7" cy="514.0" r="1.2"/><circle cx="234.7" cy="519.5" r="1.2"/><circle cx="234.7" cy="509.9" r="1.2"/></g>
<path d="M212.3 460.8V456.1H234.6V487.4" fill="none" stroke="#3a3a3a" stroke-width="1.0"/>
<path fill="#2a2a2a" d="M221.70 449.50L222.29 450.79L223.70 450.95L222.65 451.91L222.93 453.30L221.70 452.60L220.47 453.30L220.75 451.91L219.70 450.95L221.11 450.79ZM226.10 449.50L226.69 450.79L228.10 450.95L227.05 451.91L227.33 453.30L226.10 452.60L224.87 453.30L225.15 451.91L224.10 450.95L225.51 450.79Z"/>
<path d="M285.8 453.5V533.8H337.6" fill="none" stroke="#262626" stroke-width="1.25"/>
<path d="M282.6 456.1H285.8" stroke="#262626" stroke-width="1"/>
<text x="281.6" y="458.0" font-size="5.1" text-anchor="end" fill="#3a3a3a" textLength="15.5" lengthAdjust="spacingAndGlyphs">80000</text>
<path d="M282.6 475.5H285.8" stroke="#262626" stroke-width="1"/>
<text x="281.6" y="477.4" font-size="5.1" text-anchor="end" fill="#3a3a3a" textLength="15.5" lengthAdjust="spacingAndGlyphs">60000</text>
<path d="M282.6 495.0H285.8" stroke="#262626" stroke-width="1"/>
<text x="281.6" y="496.9" font-size="5.1" text-anchor="end" fill="#3a3a3a" textLength="15.5" lengthAdjust="spacingAndGlyphs">40000</text>
<path d="M282.6 514.4H285.8" stroke="#262626" stroke-width="1"/>
<text x="281.6" y="516.2" font-size="5.1" text-anchor="end" fill="#3a3a3a" textLength="15.5" lengthAdjust="spacingAndGlyphs">20000</text>
<path d="M282.6 533.8H285.8" stroke="#262626" stroke-width="1"/>
<text x="281.6" y="535.6" font-size="5.1" text-anchor="end" fill="#3a3a3a" textLength="3.5" lengthAdjust="spacingAndGlyphs">0</text>
<path d="M300.1 533.8v2.6" stroke="#262626" stroke-width="1"/>
<path d="M322.6 533.8v2.6" stroke="#262626" stroke-width="1"/>
<text x="300.1" y="544.4" font-size="5.4" text-anchor="middle" fill="#333" textLength="12.6" lengthAdjust="spacingAndGlyphs">CON</text>
<text x="322.6" y="544.4" font-size="5.4" text-anchor="middle" fill="#333" textLength="11.0" lengthAdjust="spacingAndGlyphs">RUX</text>
<text x="315.1" y="439.2" font-size="8.6" text-anchor="middle" fill="#222">LT-HSC</text>
<path d="M255.2 494.4h5.6M255.2 495.6h5.6M256.8 493.9v2.2M259.2 493.9v2.2" stroke="#444" stroke-width="0.7"/>
<path d="M293.0 478.6H307.7" stroke="#1a1a1a" stroke-width="0.9"/>
<path d="M315.0 499.7H330.2" stroke="#1a1a1a" stroke-width="0.9"/>
<g fill="#a3163c"><circle cx="300.1" cy="460.2" r="1.2"/><circle cx="300.1" cy="464.3" r="1.2"/><circle cx="300.1" cy="468.4" r="1.2"/><circle cx="298.1" cy="474.1" r="1.2"/><circle cx="302.8" cy="476.1" r="1.2"/><circle cx="298.1" cy="480.2" r="1.2"/><circle cx="302.8" cy="480.2" r="1.2"/><circle cx="298.1" cy="490.9" r="1.2"/><circle cx="302.8" cy="492.1" r="1.2"/><circle cx="300.1" cy="514.4" r="1.2"/></g>
<g fill="#1a3760"><circle cx="322.6" cy="465.5" r="1.2"/><circle cx="320.0" cy="494.1" r="1.2"/><circle cx="325.3" cy="494.1" r="1.2"/><circle cx="317.9" cy="498.6" r="1.2"/><circle cx="322.6" cy="499.7" r="1.2"/><circle cx="327.3" cy="499.0" r="1.2"/><circle cx="322.6" cy="502.7" r="1.2"/><circle cx="317.9" cy="507.8" r="1.2"/><circle cx="322.6" cy="507.8" r="1.2"/><circle cx="327.3" cy="507.8" r="1.2"/></g>
<path d="M300.1 455.3V450.6H322.6V461.8" fill="none" stroke="#3a3a3a" stroke-width="1.0"/>
<path fill="#2a2a2a" d="M311.00 443.90L311.59 445.19L313.00 445.35L311.95 446.31L312.23 447.70L311.00 447.00L309.77 447.70L310.05 446.31L309.00 445.35L310.41 445.19Z"/>
<path d="M376.8 453.5V533.8H428.6" fill="none" stroke="#262626" stroke-width="1.25"/>
<path d="M373.6 456.1H376.8" stroke="#262626" stroke-width="1"/>
<text x="372.6" y="458.0" font-size="5.1" text-anchor="end" fill="#3a3a3a" textLength="15.5" lengthAdjust="spacingAndGlyphs">50000</text>
<path d="M373.6 471.6H376.8" stroke="#262626" stroke-width="1"/>
<text x="372.6" y="473.5" font-size="5.1" text-anchor="end" fill="#3a3a3a" textLength="15.5" lengthAdjust="spacingAndGlyphs">40000</text>
<path d="M373.6 487.4H376.8" stroke="#262626" stroke-width="1"/>
<text x="372.6" y="489.2" font-size="5.1" text-anchor="end" fill="#3a3a3a" textLength="15.5" lengthAdjust="spacingAndGlyphs">30000</text>
<path d="M373.6 502.7H376.8" stroke="#262626" stroke-width="1"/>
<text x="372.6" y="504.6" font-size="5.1" text-anchor="end" fill="#3a3a3a" textLength="15.5" lengthAdjust="spacingAndGlyphs">20000</text>
<path d="M373.6 518.5H376.8" stroke="#262626" stroke-width="1"/>
<text x="372.6" y="520.4" font-size="5.1" text-anchor="end" fill="#3a3a3a" textLength="15.5" lengthAdjust="spacingAndGlyphs">10000</text>
<path d="M373.6 533.8H376.8" stroke="#262626" stroke-width="1"/>
<text x="372.6" y="535.6" font-size="5.1" text-anchor="end" fill="#3a3a3a" textLength="3.5" lengthAdjust="spacingAndGlyphs">0</text>
<path d="M391.5 533.8v2.6" stroke="#262626" stroke-width="1"/>
<path d="M413.6 533.8v2.6" stroke="#262626" stroke-width="1"/>
<text x="391.5" y="544.4" font-size="5.4" text-anchor="middle" fill="#333" textLength="12.6" lengthAdjust="spacingAndGlyphs">CON</text>
<text x="413.6" y="544.4" font-size="5.4" text-anchor="middle" fill="#333" textLength="11.0" lengthAdjust="spacingAndGlyphs">RUX</text>
<text x="404.9" y="439.2" font-size="8.6" text-anchor="middle" fill="#222">ST-HSC</text>
<path d="M346.7 494.4h5.6M346.7 495.6h5.6M348.3 493.9v2.2M350.7 493.9v2.2" stroke="#444" stroke-width="0.7"/>
<path d="M384.6 503.7H399.3" stroke="#1a1a1a" stroke-width="0.9"/>
<path d="M406.5 514.0H421.4" stroke="#1a1a1a" stroke-width="0.9"/>
<g fill="#a3163c"><circle cx="391.5" cy="464.9" r="1.2"/><circle cx="391.5" cy="482.7" r="1.2"/><circle cx="391.5" cy="488.8" r="1.2"/><circle cx="391.5" cy="494.1" r="1.2"/><circle cx="389.1" cy="503.7" r="1.2"/><circle cx="394.2" cy="503.7" r="1.2"/><circle cx="391.5" cy="508.9" r="1.2"/><circle cx="391.5" cy="512.5" r="1.2"/><circle cx="391.5" cy="516.6" r="1.2"/><circle cx="391.5" cy="521.5" r="1.2"/></g>
<g fill="#1a3760"><circle cx="413.6" cy="495.0" r="1.2"/><circle cx="413.6" cy="497.0" r="1.2"/><circle cx="413.6" cy="502.3" r="1.2"/><circle cx="413.6" cy="506.4" r="1.2"/><circle cx="413.6" cy="511.9" r="1.2"/><circle cx="409.5" cy="516.6" r="1.2"/><circle cx="413.6" cy="517.0" r="1.2"/><circle cx="417.3" cy="517.0" r="1.2"/><circle cx="420.8" cy="516.6" r="1.2"/><circle cx="413.6" cy="524.2" r="1.2"/></g>
<path d="M467.8 453.5V533.8H519.6" fill="none" stroke="#262626" stroke-width="1.25"/>
<path d="M464.6 456.1H467.8" stroke="#262626" stroke-width="1"/>
<text x="463.6" y="458.0" font-size="5.1" text-anchor="end" fill="#3a3a3a" textLength="18.5" lengthAdjust="spacingAndGlyphs">150000</text>
<path d="M464.6 481.9H467.8" stroke="#262626" stroke-width="1"/>
<text x="463.6" y="483.8" font-size="5.1" text-anchor="end" fill="#3a3a3a" textLength="18.5" lengthAdjust="spacingAndGlyphs">100000</text>
<path d="M464.6 507.8H467.8" stroke="#262626" stroke-width="1"/>
<text x="463.6" y="509.7" font-size="5.1" text-anchor="end" fill="#3a3a3a" textLength="15.5" lengthAdjust="spacingAndGlyphs">50000</text>
<path d="M464.6 533.8H467.8" stroke="#262626" stroke-width="1"/>
<text x="463.6" y="535.6" font-size="5.1" text-anchor="end" fill="#3a3a3a" textLength="3.5" lengthAdjust="spacingAndGlyphs">0</text>
<path d="M482.8 533.8v2.6" stroke="#262626" stroke-width="1"/>
<path d="M505.3 533.8v2.6" stroke="#262626" stroke-width="1"/>
<text x="482.8" y="544.4" font-size="5.4" text-anchor="middle" fill="#333" textLength="12.6" lengthAdjust="spacingAndGlyphs">CON</text>
<text x="505.3" y="544.4" font-size="5.4" text-anchor="middle" fill="#333" textLength="11.0" lengthAdjust="spacingAndGlyphs">RUX</text>
<text x="493.7" y="439.2" font-size="8.6" text-anchor="middle" fill="#222">MPP</text>
<path d="M435.4 494.4h5.6M435.4 495.6h5.6M437.0 493.9v2.2M439.4 493.9v2.2" stroke="#444" stroke-width="0.7"/>
<path d="M475.4 499.0H490.3" stroke="#1a1a1a" stroke-width="0.9"/>
<path d="M497.5 518.7H512.2" stroke="#1a1a1a" stroke-width="0.9"/>
<g fill="#a3163c"><circle cx="482.8" cy="469.0" r="1.2"/><circle cx="482.8" cy="473.1" r="1.2"/><circle cx="480.7" cy="493.5" r="1.2"/><circle cx="485.2" cy="492.1" r="1.2"/><circle cx="482.8" cy="496.2" r="1.2"/><circle cx="482.8" cy="502.7" r="1.2"/><circle cx="482.8" cy="505.2" r="1.2"/><circle cx="482.8" cy="508.5" r="1.2"/><circle cx="482.8" cy="516.6" r="1.2"/><circle cx="482.8" cy="523.2" r="1.2"/></g>
<g fill="#1a3760"><circle cx="505.3" cy="504.8" r="1.2"/><circle cx="500.6" cy="513.0" r="1.2"/><circle cx="505.3" cy="513.4" r="1.2"/><circle cx="509.8" cy="513.4" r="1.2"/><circle cx="500.6" cy="519.5" r="1.2"/><circle cx="505.3" cy="520.1" r="1.2"/><circle cx="509.8" cy="520.7" r="1.2"/><circle cx="505.3" cy="518.1" r="1.2"/><circle cx="505.3" cy="528.3" r="1.2"/><circle cx="502.6" cy="520.7" r="1.2"/></g>
<path d="M482.8 464.9V460.2H505.3V483.3" fill="none" stroke="#3a3a3a" stroke-width="1.0"/>
<path fill="#2a2a2a" d="M491.90 453.60L492.49 454.89L493.90 455.05L492.85 456.01L493.13 457.40L491.90 456.70L490.67 457.40L490.95 456.01L489.90 455.05L491.31 454.89ZM496.30 453.60L496.89 454.89L498.30 455.05L497.25 456.01L497.53 457.40L496.30 456.70L495.07 457.40L495.35 456.01L494.30 455.05L495.71 454.89Z"/>
</svg>
</body></html>
